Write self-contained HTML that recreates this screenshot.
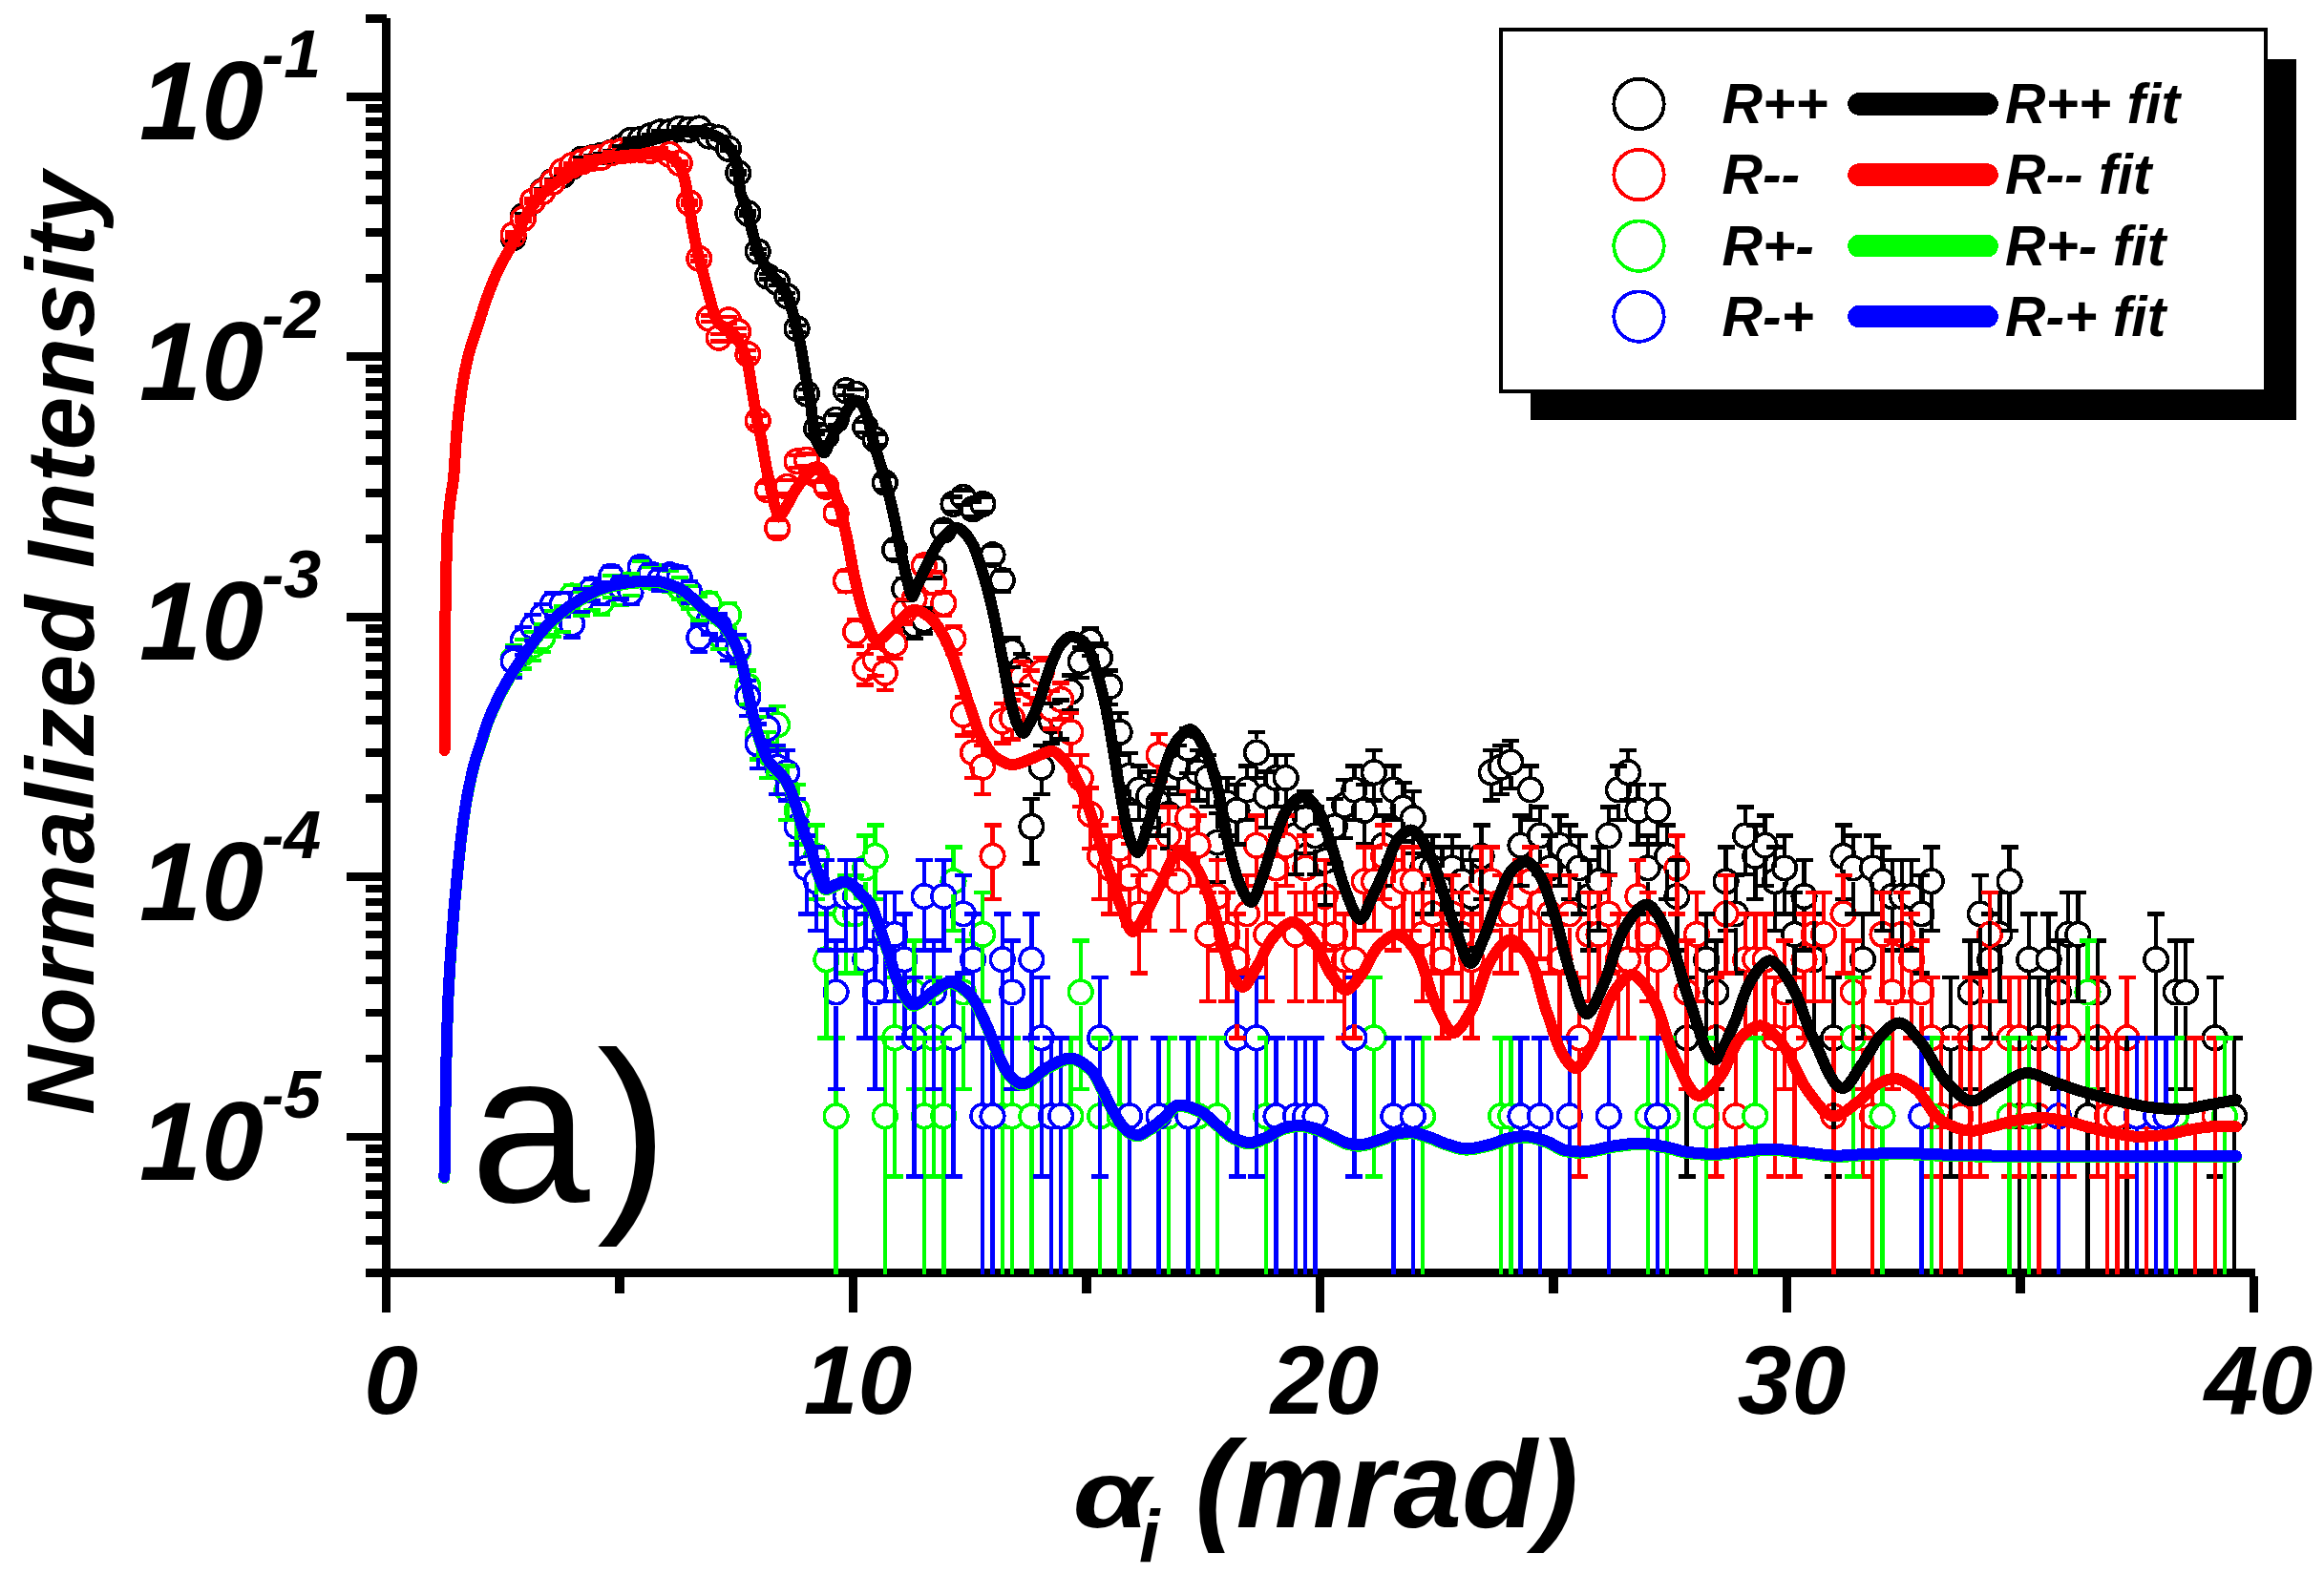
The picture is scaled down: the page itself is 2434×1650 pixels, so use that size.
<!DOCTYPE html>
<html lang="en"><head><meta charset="utf-8"><title>Normalized Intensity vs alpha_i</title>
<style>html,body{margin:0;padding:0;background:#fff}svg{display:block}</style></head>
<body>
<svg width="2434" height="1650" viewBox="0 0 2434 1650">
<rect width="2434" height="1650" fill="#fff"/>
<g fill="#000" shape-rendering="crispEdges">
<rect x="400.1" y="19" width="9" height="1318.6"/>
<rect x="383" y="1329" width="1979" height="8.6"/>
<rect x="383" y="1328.9" width="22" height="8.8"/>
<rect x="383" y="1294.9" width="22" height="8.8"/>
<rect x="383" y="1268.5" width="22" height="8.8"/>
<rect x="383" y="1246.9" width="22" height="8.8"/>
<rect x="383" y="1228.7" width="22" height="8.8"/>
<rect x="383" y="1212.9" width="22" height="8.8"/>
<rect x="383" y="1199" width="22" height="8.8"/>
<rect x="363" y="1186.5" width="42" height="8.8"/>
<rect x="383" y="1104.5" width="22" height="8.8"/>
<rect x="383" y="1056.5" width="22" height="8.8"/>
<rect x="383" y="1022.5" width="22" height="8.8"/>
<rect x="383" y="996.1" width="22" height="8.8"/>
<rect x="383" y="974.5" width="22" height="8.8"/>
<rect x="383" y="956.3" width="22" height="8.8"/>
<rect x="383" y="940.5" width="22" height="8.8"/>
<rect x="383" y="926.6" width="22" height="8.8"/>
<rect x="363" y="914.1" width="42" height="8.8"/>
<rect x="383" y="832.1" width="22" height="8.8"/>
<rect x="383" y="784.1" width="22" height="8.8"/>
<rect x="383" y="750.1" width="22" height="8.8"/>
<rect x="383" y="723.7" width="22" height="8.8"/>
<rect x="383" y="702.1" width="22" height="8.8"/>
<rect x="383" y="683.9" width="22" height="8.8"/>
<rect x="383" y="668.1" width="22" height="8.8"/>
<rect x="383" y="654.2" width="22" height="8.8"/>
<rect x="363" y="641.7" width="42" height="8.8"/>
<rect x="383" y="559.7" width="22" height="8.8"/>
<rect x="383" y="511.7" width="22" height="8.8"/>
<rect x="383" y="477.7" width="22" height="8.8"/>
<rect x="383" y="451.3" width="22" height="8.8"/>
<rect x="383" y="429.7" width="22" height="8.8"/>
<rect x="383" y="411.5" width="22" height="8.8"/>
<rect x="383" y="395.7" width="22" height="8.8"/>
<rect x="383" y="381.8" width="22" height="8.8"/>
<rect x="363" y="369.3" width="42" height="8.8"/>
<rect x="383" y="287.3" width="22" height="8.8"/>
<rect x="383" y="239.3" width="22" height="8.8"/>
<rect x="383" y="205.3" width="22" height="8.8"/>
<rect x="383" y="178.9" width="22" height="8.8"/>
<rect x="383" y="157.3" width="22" height="8.8"/>
<rect x="383" y="139.1" width="22" height="8.8"/>
<rect x="383" y="123.3" width="22" height="8.8"/>
<rect x="383" y="109.4" width="22" height="8.8"/>
<rect x="363" y="96.9" width="42" height="8.8"/>
<rect x="383" y="14.9" width="22" height="8.8"/>
<rect x="399.9" y="1337" width="9.2" height="37.5"/>
<rect x="644.4" y="1337" width="9.2" height="17.5"/>
<rect x="888.9" y="1337" width="9.2" height="37.5"/>
<rect x="1133.4" y="1337" width="9.2" height="17.5"/>
<rect x="1377.9" y="1337" width="9.2" height="37.5"/>
<rect x="1622.4" y="1337" width="9.2" height="17.5"/>
<rect x="1866.9" y="1337" width="9.2" height="37.5"/>
<rect x="2111.4" y="1337" width="9.2" height="17.5"/>
<rect x="2355.9" y="1337" width="9.2" height="37.5"/>
</g>
<g shape-rendering="crispEdges" fill="none">
<g stroke="#000" stroke-width="3.6" fill="#fff">
<circle cx="537.6" cy="249" r="12.3"/><circle cx="547.9" cy="226.5" r="12.3"/><circle cx="558.1" cy="210.8" r="12.3"/><circle cx="568.4" cy="199.9" r="12.3"/><circle cx="578.6" cy="190" r="12.3"/><circle cx="588.8" cy="183.8" r="12.3"/><circle cx="599.1" cy="174.6" r="12.3"/><circle cx="609.3" cy="166.6" r="12.3"/><circle cx="619.6" cy="165.3" r="12.3"/><circle cx="629.8" cy="162.9" r="12.3"/><circle cx="640.1" cy="159.5" r="12.3"/><circle cx="650.3" cy="154.3" r="12.3"/><circle cx="660.5" cy="146.9" r="12.3"/><circle cx="670.8" cy="146" r="12.3"/><circle cx="681" cy="142.3" r="12.3"/><circle cx="691.3" cy="138.4" r="12.3"/><circle cx="701.5" cy="138.3" r="12.3"/><circle cx="711.7" cy="134.9" r="12.3"/><circle cx="722" cy="135.8" r="12.3"/><circle cx="732.2" cy="134.5" r="12.3"/><circle cx="742.5" cy="142.6" r="12.3"/><circle cx="752.7" cy="144.5" r="12.3"/><circle cx="763" cy="155.7" r="12.3"/><circle cx="773.2" cy="181.1" r="12.3"/><circle cx="783.4" cy="223.4" r="12.3"/><circle cx="793.7" cy="263.4" r="12.3"/><circle cx="803.9" cy="289.5" r="12.3"/><circle cx="814.2" cy="295.8" r="12.3"/><circle cx="824.4" cy="310.2" r="12.3"/><circle cx="834.6" cy="344.3" r="12.3"/><circle cx="844.9" cy="412.5" r="12.3"/><circle cx="855.1" cy="449.2" r="12.3"/><circle cx="865.4" cy="456.8" r="12.3"/><circle cx="875.6" cy="439.8" r="12.3"/><circle cx="885.9" cy="409.2" r="12.3"/><circle cx="896.1" cy="412.7" r="12.3"/><circle cx="906.3" cy="447.5" r="12.3"/><circle cx="916.6" cy="460.4" r="12.3"/><circle cx="926.8" cy="505.6" r="12.3"/><circle cx="937.1" cy="575.9" r="12.3"/><circle cx="947.3" cy="617.2" r="12.3"/><circle cx="957.5" cy="654.7" r="12.3"/><circle cx="967.8" cy="649.4" r="12.3"/><circle cx="978" cy="594.6" r="12.3"/><circle cx="988.3" cy="555.5" r="12.3"/><circle cx="998.5" cy="528" r="12.3"/><circle cx="1008.8" cy="520.9" r="12.3"/><circle cx="1019" cy="533.3" r="12.3"/><circle cx="1029.2" cy="528" r="12.3"/><circle cx="1039.5" cy="581.3" r="12.3"/><circle cx="1049.7" cy="608" r="12.3"/><circle cx="1060" cy="682.6" r="12.3"/><circle cx="1070.2" cy="700.4" r="12.3"/><circle cx="1080.4" cy="865.9" r="12.3"/><circle cx="1090.7" cy="803.7" r="12.3"/><circle cx="1100.9" cy="755.7" r="12.3"/><circle cx="1111.2" cy="752.2" r="12.3"/><circle cx="1121.4" cy="724.4" r="12.3"/><circle cx="1131.7" cy="693.1" r="12.3"/><circle cx="1141.9" cy="671.5" r="12.3"/><circle cx="1152.1" cy="689" r="12.3"/><circle cx="1162.4" cy="719" r="12.3"/><circle cx="1172.6" cy="767" r="12.3"/><circle cx="1182.9" cy="812.6" r="12.3"/><circle cx="1193.1" cy="827.4" r="12.3"/><circle cx="1203.3" cy="834.2" r="12.3"/><circle cx="1213.6" cy="841.3" r="12.3"/><circle cx="1223.8" cy="853" r="12.3"/><circle cx="1234.1" cy="803.7" r="12.3"/><circle cx="1244.3" cy="783.9" r="12.3"/><circle cx="1254.6" cy="809.2" r="12.3"/><circle cx="1264.8" cy="814.9" r="12.3"/><circle cx="1275" cy="882.5" r="12.3"/><circle cx="1285.3" cy="841.3" r="12.3"/><circle cx="1295.5" cy="849" r="12.3"/><circle cx="1305.8" cy="827.4" r="12.3"/><circle cx="1316" cy="788.5" r="12.3"/><circle cx="1326.2" cy="834.2" r="12.3"/><circle cx="1336.5" cy="814.9" r="12.3"/><circle cx="1346.7" cy="814.9" r="12.3"/><circle cx="1357" cy="875.4" r="12.3"/><circle cx="1367.2" cy="857.1" r="12.3"/><circle cx="1377.5" cy="875.4" r="12.3"/><circle cx="1387.7" cy="901.8" r="12.3"/><circle cx="1397.9" cy="865.9" r="12.3"/><circle cx="1408.2" cy="843.6" r="12.3"/><circle cx="1418.4" cy="827.4" r="12.3"/><circle cx="1428.7" cy="849" r="12.3"/><circle cx="1438.9" cy="809.2" r="12.3"/><circle cx="1449.1" cy="885.7" r="12.3"/><circle cx="1459.4" cy="827.4" r="12.3"/><circle cx="1469.6" cy="846.6" r="12.3"/><circle cx="1479.9" cy="857.1" r="12.3"/><circle cx="1490.1" cy="909.4" r="12.3"/><circle cx="1500.4" cy="909.4" r="12.3"/><circle cx="1510.6" cy="923.3" r="12.3"/><circle cx="1520.8" cy="909.4" r="12.3"/><circle cx="1531.1" cy="923.3" r="12.3"/><circle cx="1541.3" cy="939.1" r="12.3"/><circle cx="1551.6" cy="896.9" r="12.3"/><circle cx="1561.8" cy="809.2" r="12.3"/><circle cx="1572" cy="803.7" r="12.3"/><circle cx="1582.3" cy="798.4" r="12.3"/><circle cx="1592.5" cy="885.7" r="12.3"/><circle cx="1602.8" cy="827.4" r="12.3"/><circle cx="1613" cy="875.4" r="12.3"/><circle cx="1623.3" cy="909.4" r="12.3"/><circle cx="1633.5" cy="885.7" r="12.3"/><circle cx="1643.7" cy="896.9" r="12.3"/><circle cx="1654" cy="909.4" r="12.3"/><circle cx="1664.2" cy="939.1" r="12.3"/><circle cx="1674.5" cy="923.3" r="12.3"/><circle cx="1684.7" cy="875.4" r="12.3"/><circle cx="1694.9" cy="827.4" r="12.3"/><circle cx="1705.2" cy="809.2" r="12.3"/><circle cx="1715.4" cy="849" r="12.3"/><circle cx="1725.7" cy="909.4" r="12.3"/><circle cx="1735.9" cy="849" r="12.3"/><circle cx="1746.1" cy="896.9" r="12.3"/><circle cx="1756.4" cy="939.1" r="12.3"/><circle cx="1766.6" cy="1087.3" r="12.3"/><circle cx="1776.9" cy="978.9" r="12.3"/><circle cx="1787.1" cy="1005.3" r="12.3"/><circle cx="1797.4" cy="1039.4" r="12.3"/><circle cx="1807.6" cy="923.3" r="12.3"/><circle cx="1817.8" cy="957.4" r="12.3"/><circle cx="1828.1" cy="875.4" r="12.3"/><circle cx="1838.3" cy="896.9" r="12.3"/><circle cx="1848.6" cy="885.7" r="12.3"/><circle cx="1858.8" cy="923.3" r="12.3"/><circle cx="1869" cy="909.4" r="12.3"/><circle cx="1879.3" cy="978.9" r="12.3"/><circle cx="1889.5" cy="939.1" r="12.3"/><circle cx="1899.8" cy="1005.3" r="12.3"/><circle cx="1910" cy="978.9" r="12.3"/><circle cx="1920.3" cy="1087.3" r="12.3"/><circle cx="1930.5" cy="896.9" r="12.3"/><circle cx="1940.7" cy="909.4" r="12.3"/><circle cx="1951" cy="1005.3" r="12.3"/><circle cx="1961.2" cy="909.4" r="12.3"/><circle cx="1971.5" cy="923.3" r="12.3"/><circle cx="1981.7" cy="939.1" r="12.3"/><circle cx="1991.9" cy="939.1" r="12.3"/><circle cx="2002.2" cy="939.1" r="12.3"/><circle cx="2012.4" cy="957.4" r="12.3"/><circle cx="2022.7" cy="923.3" r="12.3"/><circle cx="2043.2" cy="1087.3" r="12.3"/><circle cx="2063.6" cy="1039.4" r="12.3"/><circle cx="2073.9" cy="957.4" r="12.3"/><circle cx="2084.1" cy="1005.3" r="12.3"/><circle cx="2094.4" cy="978.9" r="12.3"/><circle cx="2104.6" cy="923.3" r="12.3"/><circle cx="2114.8" cy="1169.3" r="12.3"/><circle cx="2125.1" cy="1005.3" r="12.3"/><circle cx="2135.3" cy="1087.3" r="12.3"/><circle cx="2145.6" cy="1005.3" r="12.3"/><circle cx="2155.8" cy="1039.4" r="12.3"/><circle cx="2166.1" cy="978.9" r="12.3"/><circle cx="2176.3" cy="978.9" r="12.3"/><circle cx="2186.5" cy="1169.3" r="12.3"/><circle cx="2196.8" cy="1039.4" r="12.3"/><circle cx="2227.5" cy="1169.3" r="12.3"/><circle cx="2258.2" cy="1005.3" r="12.3"/><circle cx="2278.7" cy="1039.4" r="12.3"/><circle cx="2289" cy="1039.4" r="12.3"/><circle cx="2319.7" cy="1087.3" r="12.3"/><circle cx="2340.2" cy="1169.3" r="12.3"/>
</g>
<g stroke="#f00" stroke-width="3.6" fill="#fff">
<circle cx="537.6" cy="245.9" r="12.3"/><circle cx="547.9" cy="229.1" r="12.3"/><circle cx="558.1" cy="210.5" r="12.3"/><circle cx="568.4" cy="200.9" r="12.3"/><circle cx="578.6" cy="190.9" r="12.3"/><circle cx="588.8" cy="179.4" r="12.3"/><circle cx="599.1" cy="173.2" r="12.3"/><circle cx="609.3" cy="169.5" r="12.3"/><circle cx="619.6" cy="166" r="12.3"/><circle cx="629.8" cy="164.9" r="12.3"/><circle cx="640.1" cy="160.4" r="12.3"/><circle cx="650.3" cy="158.4" r="12.3"/><circle cx="660.5" cy="157.5" r="12.3"/><circle cx="670.8" cy="156.8" r="12.3"/><circle cx="681" cy="157.9" r="12.3"/><circle cx="691.3" cy="156.5" r="12.3"/><circle cx="701.5" cy="161.8" r="12.3"/><circle cx="711.7" cy="170.9" r="12.3"/><circle cx="722" cy="212.5" r="12.3"/><circle cx="732.2" cy="270.9" r="12.3"/><circle cx="742.5" cy="333.7" r="12.3"/><circle cx="752.7" cy="353.7" r="12.3"/><circle cx="763" cy="335.3" r="12.3"/><circle cx="773.2" cy="347.5" r="12.3"/><circle cx="783.4" cy="371.2" r="12.3"/><circle cx="793.7" cy="440.8" r="12.3"/><circle cx="803.9" cy="513.3" r="12.3"/><circle cx="814.2" cy="553.4" r="12.3"/><circle cx="824.4" cy="509.8" r="12.3"/><circle cx="834.6" cy="483.3" r="12.3"/><circle cx="844.9" cy="481.8" r="12.3"/><circle cx="855.1" cy="497.4" r="12.3"/><circle cx="865.4" cy="509.8" r="12.3"/><circle cx="875.6" cy="537.7" r="12.3"/><circle cx="885.9" cy="608.5" r="12.3"/><circle cx="896.1" cy="662" r="12.3"/><circle cx="906.3" cy="700.1" r="12.3"/><circle cx="916.6" cy="691" r="12.3"/><circle cx="926.8" cy="704.9" r="12.3"/><circle cx="937.1" cy="674.3" r="12.3"/><circle cx="947.3" cy="640.1" r="12.3"/><circle cx="957.5" cy="627.4" r="12.3"/><circle cx="967.8" cy="592.4" r="12.3"/><circle cx="978" cy="610.3" r="12.3"/><circle cx="988.3" cy="632.2" r="12.3"/><circle cx="998.5" cy="669.5" r="12.3"/><circle cx="1008.8" cy="748.7" r="12.3"/><circle cx="1019" cy="788.5" r="12.3"/><circle cx="1029.2" cy="803.7" r="12.3"/><circle cx="1039.5" cy="896.9" r="12.3"/><circle cx="1049.7" cy="755.7" r="12.3"/><circle cx="1060" cy="752.2" r="12.3"/><circle cx="1070.2" cy="708.9" r="12.3"/><circle cx="1080.4" cy="719" r="12.3"/><circle cx="1090.7" cy="704.2" r="12.3"/><circle cx="1100.9" cy="742.2" r="12.3"/><circle cx="1111.2" cy="732.9" r="12.3"/><circle cx="1121.4" cy="767" r="12.3"/><circle cx="1131.7" cy="814.9" r="12.3"/><circle cx="1141.9" cy="853" r="12.3"/><circle cx="1152.1" cy="896.9" r="12.3"/><circle cx="1162.4" cy="909.4" r="12.3"/><circle cx="1172.6" cy="888.9" r="12.3"/><circle cx="1182.9" cy="919" r="12.3"/><circle cx="1193.1" cy="957.4" r="12.3"/><circle cx="1203.3" cy="923.3" r="12.3"/><circle cx="1213.6" cy="790.9" r="12.3"/><circle cx="1223.8" cy="875.4" r="12.3"/><circle cx="1234.1" cy="923.3" r="12.3"/><circle cx="1244.3" cy="857.1" r="12.3"/><circle cx="1254.6" cy="885.7" r="12.3"/><circle cx="1264.8" cy="978.9" r="12.3"/><circle cx="1275" cy="939.1" r="12.3"/><circle cx="1285.3" cy="978.9" r="12.3"/><circle cx="1295.5" cy="1005.3" r="12.3"/><circle cx="1305.8" cy="957.4" r="12.3"/><circle cx="1316" cy="885.7" r="12.3"/><circle cx="1326.2" cy="978.9" r="12.3"/><circle cx="1336.5" cy="909.4" r="12.3"/><circle cx="1346.7" cy="885.7" r="12.3"/><circle cx="1357" cy="978.9" r="12.3"/><circle cx="1367.2" cy="909.4" r="12.3"/><circle cx="1377.5" cy="978.9" r="12.3"/><circle cx="1387.7" cy="939.1" r="12.3"/><circle cx="1397.9" cy="978.9" r="12.3"/><circle cx="1408.2" cy="1005.3" r="12.3"/><circle cx="1418.4" cy="1005.3" r="12.3"/><circle cx="1428.7" cy="923.3" r="12.3"/><circle cx="1438.9" cy="923.3" r="12.3"/><circle cx="1449.1" cy="896.9" r="12.3"/><circle cx="1459.4" cy="939.1" r="12.3"/><circle cx="1469.6" cy="923.3" r="12.3"/><circle cx="1479.9" cy="923.3" r="12.3"/><circle cx="1490.1" cy="978.9" r="12.3"/><circle cx="1500.4" cy="957.4" r="12.3"/><circle cx="1510.6" cy="1005.3" r="12.3"/><circle cx="1520.8" cy="957.4" r="12.3"/><circle cx="1531.1" cy="978.9" r="12.3"/><circle cx="1541.3" cy="1005.3" r="12.3"/><circle cx="1551.6" cy="923.3" r="12.3"/><circle cx="1561.8" cy="923.3" r="12.3"/><circle cx="1572" cy="957.4" r="12.3"/><circle cx="1582.3" cy="957.4" r="12.3"/><circle cx="1592.5" cy="939.1" r="12.3"/><circle cx="1602.8" cy="923.3" r="12.3"/><circle cx="1613" cy="946.1" r="12.3"/><circle cx="1623.3" cy="957.4" r="12.3"/><circle cx="1633.5" cy="1005.3" r="12.3"/><circle cx="1643.7" cy="957.4" r="12.3"/><circle cx="1654" cy="1087.3" r="12.3"/><circle cx="1664.2" cy="978.9" r="12.3"/><circle cx="1674.5" cy="978.9" r="12.3"/><circle cx="1684.7" cy="957.4" r="12.3"/><circle cx="1694.9" cy="1005.3" r="12.3"/><circle cx="1705.2" cy="1005.3" r="12.3"/><circle cx="1715.4" cy="939.1" r="12.3"/><circle cx="1725.7" cy="978.9" r="12.3"/><circle cx="1735.9" cy="1005.3" r="12.3"/><circle cx="1746.1" cy="1169.3" r="12.3"/><circle cx="1756.4" cy="909.4" r="12.3"/><circle cx="1766.6" cy="1039.4" r="12.3"/><circle cx="1776.9" cy="978.9" r="12.3"/><circle cx="1787.1" cy="1169.3" r="12.3"/><circle cx="1797.4" cy="1087.3" r="12.3"/><circle cx="1807.6" cy="957.4" r="12.3"/><circle cx="1817.8" cy="1169.3" r="12.3"/><circle cx="1828.1" cy="1005.3" r="12.3"/><circle cx="1838.3" cy="1005.3" r="12.3"/><circle cx="1848.6" cy="1005.3" r="12.3"/><circle cx="1858.8" cy="1087.3" r="12.3"/><circle cx="1869" cy="1039.4" r="12.3"/><circle cx="1879.3" cy="1087.3" r="12.3"/><circle cx="1889.5" cy="1005.3" r="12.3"/><circle cx="1899.8" cy="978.9" r="12.3"/><circle cx="1910" cy="978.9" r="12.3"/><circle cx="1920.3" cy="1169.3" r="12.3"/><circle cx="1930.5" cy="957.4" r="12.3"/><circle cx="1940.7" cy="1039.4" r="12.3"/><circle cx="1951" cy="1087.3" r="12.3"/><circle cx="1961.2" cy="1169.3" r="12.3"/><circle cx="1971.5" cy="978.9" r="12.3"/><circle cx="1981.7" cy="1039.4" r="12.3"/><circle cx="1991.9" cy="978.9" r="12.3"/><circle cx="2002.2" cy="1005.3" r="12.3"/><circle cx="2012.4" cy="1039.4" r="12.3"/><circle cx="2022.7" cy="1087.3" r="12.3"/><circle cx="2032.9" cy="1169.3" r="12.3"/><circle cx="2053.4" cy="1169.3" r="12.3"/><circle cx="2063.6" cy="1087.3" r="12.3"/><circle cx="2073.9" cy="1087.3" r="12.3"/><circle cx="2084.1" cy="978.9" r="12.3"/><circle cx="2104.6" cy="1087.3" r="12.3"/><circle cx="2114.8" cy="1087.3" r="12.3"/><circle cx="2135.3" cy="1169.3" r="12.3"/><circle cx="2155.8" cy="1087.3" r="12.3"/><circle cx="2166.1" cy="1087.3" r="12.3"/><circle cx="2196.8" cy="1087.3" r="12.3"/><circle cx="2207" cy="1169.3" r="12.3"/><circle cx="2217.3" cy="1169.3" r="12.3"/><circle cx="2227.5" cy="1087.3" r="12.3"/><circle cx="2248" cy="1169.3" r="12.3"/><circle cx="2299.2" cy="1169.3" r="12.3"/><circle cx="2319.7" cy="1169.3" r="12.3"/>
</g>
<g stroke="#0f0" stroke-width="3.6" fill="#fff">
<circle cx="537.6" cy="690.6" r="12.3"/><circle cx="547.9" cy="684.1" r="12.3"/><circle cx="558.1" cy="676.1" r="12.3"/><circle cx="568.4" cy="667.9" r="12.3"/><circle cx="578.6" cy="652.6" r="12.3"/><circle cx="588.8" cy="648" r="12.3"/><circle cx="599.1" cy="624.4" r="12.3"/><circle cx="609.3" cy="631.6" r="12.3"/><circle cx="619.6" cy="626.3" r="12.3"/><circle cx="629.8" cy="631.1" r="12.3"/><circle cx="640.1" cy="614.1" r="12.3"/><circle cx="650.3" cy="621.8" r="12.3"/><circle cx="660.5" cy="612" r="12.3"/><circle cx="670.8" cy="598" r="12.3"/><circle cx="681" cy="604.6" r="12.3"/><circle cx="691.3" cy="603.8" r="12.3"/><circle cx="701.5" cy="608.4" r="12.3"/><circle cx="711.7" cy="615.8" r="12.3"/><circle cx="722" cy="625.3" r="12.3"/><circle cx="732.2" cy="637" r="12.3"/><circle cx="742.5" cy="632.3" r="12.3"/><circle cx="752.7" cy="665.2" r="12.3"/><circle cx="763" cy="644.3" r="12.3"/><circle cx="773.2" cy="681.5" r="12.3"/><circle cx="783.4" cy="719" r="12.3"/><circle cx="793.7" cy="771" r="12.3"/><circle cx="803.9" cy="788.5" r="12.3"/><circle cx="814.2" cy="759.3" r="12.3"/><circle cx="824.4" cy="827.4" r="12.3"/><circle cx="834.6" cy="849" r="12.3"/><circle cx="844.9" cy="909.4" r="12.3"/><circle cx="855.1" cy="896.9" r="12.3"/><circle cx="865.4" cy="1005.3" r="12.3"/><circle cx="875.6" cy="1169.3" r="12.3"/><circle cx="885.9" cy="957.4" r="12.3"/><circle cx="896.1" cy="957.4" r="12.3"/><circle cx="906.3" cy="909.4" r="12.3"/><circle cx="916.6" cy="896.9" r="12.3"/><circle cx="926.8" cy="1169.3" r="12.3"/><circle cx="937.1" cy="1087.3" r="12.3"/><circle cx="947.3" cy="1005.3" r="12.3"/><circle cx="957.5" cy="1039.4" r="12.3"/><circle cx="967.8" cy="1169.3" r="12.3"/><circle cx="978" cy="1087.3" r="12.3"/><circle cx="988.3" cy="1169.3" r="12.3"/><circle cx="998.5" cy="923.3" r="12.3"/><circle cx="1008.8" cy="1039.4" r="12.3"/><circle cx="1029.2" cy="978.9" r="12.3"/><circle cx="1049.7" cy="1169.3" r="12.3"/><circle cx="1060" cy="1169.3" r="12.3"/><circle cx="1080.4" cy="1169.3" r="12.3"/><circle cx="1121.4" cy="1169.3" r="12.3"/><circle cx="1131.7" cy="1039.4" r="12.3"/><circle cx="1152.1" cy="1169.3" r="12.3"/><circle cx="1172.6" cy="1169.3" r="12.3"/><circle cx="1223.8" cy="1169.3" r="12.3"/><circle cx="1254.6" cy="1169.3" r="12.3"/><circle cx="1275" cy="1169.3" r="12.3"/><circle cx="1326.2" cy="1169.3" r="12.3"/><circle cx="1438.9" cy="1087.3" r="12.3"/><circle cx="1490.1" cy="1169.3" r="12.3"/><circle cx="1572" cy="1169.3" r="12.3"/><circle cx="1582.3" cy="1169.3" r="12.3"/><circle cx="1725.7" cy="1169.3" r="12.3"/><circle cx="1746.1" cy="1169.3" r="12.3"/><circle cx="1787.1" cy="1169.3" r="12.3"/><circle cx="1838.3" cy="1169.3" r="12.3"/><circle cx="1940.7" cy="1087.3" r="12.3"/><circle cx="1971.5" cy="1169.3" r="12.3"/><circle cx="2022.7" cy="1169.3" r="12.3"/><circle cx="2104.6" cy="1169.3" r="12.3"/><circle cx="2125.1" cy="1169.3" r="12.3"/><circle cx="2186.5" cy="1039.4" r="12.3"/><circle cx="2278.7" cy="1169.3" r="12.3"/><circle cx="2329.9" cy="1169.3" r="12.3"/>
</g>
<g stroke="#00f" stroke-width="3.6" fill="#fff">
<circle cx="537.6" cy="692.7" r="12.3"/><circle cx="547.9" cy="670.5" r="12.3"/><circle cx="558.1" cy="656.6" r="12.3"/><circle cx="568.4" cy="645" r="12.3"/><circle cx="578.6" cy="633.1" r="12.3"/><circle cx="588.8" cy="632.7" r="12.3"/><circle cx="599.1" cy="653.6" r="12.3"/><circle cx="609.3" cy="628.4" r="12.3"/><circle cx="619.6" cy="617.4" r="12.3"/><circle cx="629.8" cy="620.9" r="12.3"/><circle cx="640.1" cy="603.6" r="12.3"/><circle cx="650.3" cy="615.4" r="12.3"/><circle cx="660.5" cy="620.7" r="12.3"/><circle cx="670.8" cy="594" r="12.3"/><circle cx="681" cy="601.4" r="12.3"/><circle cx="691.3" cy="606.9" r="12.3"/><circle cx="701.5" cy="602.3" r="12.3"/><circle cx="711.7" cy="604.9" r="12.3"/><circle cx="722" cy="619.9" r="12.3"/><circle cx="732.2" cy="668" r="12.3"/><circle cx="742.5" cy="650.5" r="12.3"/><circle cx="752.7" cy="656.1" r="12.3"/><circle cx="763" cy="676" r="12.3"/><circle cx="773.2" cy="679.1" r="12.3"/><circle cx="783.4" cy="730" r="12.3"/><circle cx="793.7" cy="779.4" r="12.3"/><circle cx="803.9" cy="763.1" r="12.3"/><circle cx="814.2" cy="803.7" r="12.3"/><circle cx="824.4" cy="809.2" r="12.3"/><circle cx="834.6" cy="865.9" r="12.3"/><circle cx="844.9" cy="909.4" r="12.3"/><circle cx="855.1" cy="923.3" r="12.3"/><circle cx="865.4" cy="939.1" r="12.3"/><circle cx="875.6" cy="1039.4" r="12.3"/><circle cx="885.9" cy="939.1" r="12.3"/><circle cx="896.1" cy="939.1" r="12.3"/><circle cx="906.3" cy="1005.3" r="12.3"/><circle cx="916.6" cy="1039.4" r="12.3"/><circle cx="926.8" cy="978.9" r="12.3"/><circle cx="937.1" cy="978.9" r="12.3"/><circle cx="947.3" cy="1005.3" r="12.3"/><circle cx="957.5" cy="1087.3" r="12.3"/><circle cx="967.8" cy="939.1" r="12.3"/><circle cx="978" cy="1039.4" r="12.3"/><circle cx="988.3" cy="939.1" r="12.3"/><circle cx="998.5" cy="1087.3" r="12.3"/><circle cx="1008.8" cy="957.4" r="12.3"/><circle cx="1019" cy="1005.3" r="12.3"/><circle cx="1029.2" cy="1169.3" r="12.3"/><circle cx="1039.5" cy="1169.3" r="12.3"/><circle cx="1049.7" cy="1005.3" r="12.3"/><circle cx="1060" cy="1039.4" r="12.3"/><circle cx="1080.4" cy="1005.3" r="12.3"/><circle cx="1090.7" cy="1087.3" r="12.3"/><circle cx="1100.9" cy="1169.3" r="12.3"/><circle cx="1111.2" cy="1169.3" r="12.3"/><circle cx="1152.1" cy="1087.3" r="12.3"/><circle cx="1182.9" cy="1169.3" r="12.3"/><circle cx="1213.6" cy="1169.3" r="12.3"/><circle cx="1244.3" cy="1169.3" r="12.3"/><circle cx="1295.5" cy="1087.3" r="12.3"/><circle cx="1316" cy="1087.3" r="12.3"/><circle cx="1336.5" cy="1169.3" r="12.3"/><circle cx="1357" cy="1169.3" r="12.3"/><circle cx="1367.2" cy="1169.3" r="12.3"/><circle cx="1377.5" cy="1169.3" r="12.3"/><circle cx="1418.4" cy="1087.3" r="12.3"/><circle cx="1459.4" cy="1169.3" r="12.3"/><circle cx="1479.9" cy="1169.3" r="12.3"/><circle cx="1592.5" cy="1169.3" r="12.3"/><circle cx="1613" cy="1169.3" r="12.3"/><circle cx="1643.7" cy="1169.3" r="12.3"/><circle cx="1684.7" cy="1169.3" r="12.3"/><circle cx="1735.9" cy="1169.3" r="12.3"/><circle cx="2012.4" cy="1169.3" r="12.3"/><circle cx="2155.8" cy="1169.3" r="12.3"/><circle cx="2237.7" cy="1169.3" r="12.3"/><circle cx="2258.2" cy="1169.3" r="12.3"/><circle cx="2268.5" cy="1169.3" r="12.3"/>
</g>
<path stroke="#000" stroke-width="4.4" d="M528.6 246.6H546.6M528.6 251.5H546.6M538.9 224.3H556.9M538.9 228.7H556.9M549.1 208.8H567.1M549.1 212.9H567.1M559.4 198H577.4M559.4 201.9H577.4M569.6 188.1H587.6M569.6 191.9H587.6M579.8 181.9H597.8M579.8 185.6H597.8M590.1 172.8H608.1M590.1 176.3H608.1M600.3 164.9H618.3M600.3 168.3H618.3M610.6 163.6H628.6M610.6 167H628.6M620.8 161.3H638.8M620.8 164.6H638.8M631.1 157.8H649.1M631.1 161.1H649.1M641.3 152.7H659.3M641.3 156H659.3M651.5 145.4H669.5M651.5 148.5H669.5M661.8 144.5H679.8M661.8 147.6H679.8M672 140.7H690M672 143.8H690M682.3 136.9H700.3M682.3 139.9H700.3M692.5 136.8H710.5M692.5 139.9H710.5M702.7 133.4H720.7M702.7 136.4H720.7M713 134.3H731M713 137.3H731M723.2 133H741.2M723.2 136H741.2M733.5 141.1H751.5M733.5 144.2H751.5M743.7 143H761.7M743.7 146.1H761.7M754 154.1H772M754 157.4H772M764.2 179.3H782.2M764.2 183H782.2M774.4 221.3H792.4M774.4 225.6H792.4M784.7 260.9H802.7M784.7 266H802.7M794.9 286.7H812.9M794.9 292.4H812.9M805.2 292.9H823.2M805.2 298.8H823.2M815.4 307.1H833.4M815.4 313.4H833.4M825.6 340.8H843.6M825.6 348H843.6M835.9 407.8H853.9M835.9 417.4H853.9M846.1 443.7H864.1M846.1 455H864.1M856.4 451.1H874.4M856.4 462.7H874.4M866.6 434.5H884.6M866.6 445.4H884.6M876.9 404.5H894.9M876.9 414H894.9M887.1 407.9H905.1M887.1 417.6H905.1M897.3 442H915.3M897.3 453.2H915.3M907.6 454.6H925.6M907.6 466.4H925.6M917.8 498.6H935.8M917.8 513H935.8M928.1 566.7H946.1M928.1 586H946.1M938.3 606.2H956.3M938.3 629.2H956.3M948.5 642H966.5M957.5 668.8V669M948.5 669H966.5M958.8 636.9H976.8M958.8 663.3H976.8M969 584.7H987M969 605.6H987M979.3 547H997.3M979.3 564.7H997.3M989.5 520.4H1007.5M989.5 536.1H1007.5M999.8 513.5H1017.8M999.8 528.8H1017.8M1010 525.5H1028M1010 541.6H1028M1020.2 520.4H1038.2M1020.2 536.1H1038.2M1030.5 571.8H1048.5M1030.5 591.6H1048.5M1040.7 597.5H1058.7M1040.7 619.6H1058.7M1060 668.4V668.5M1051 668.4H1069M1060 696.7V698.8M1051 698.8H1069M1070.2 685.1V686.3M1061.2 685.1H1079.2M1070.2 714.5V717.9M1061.2 717.9H1079.2M1080.4 836.9V851.8M1071.4 836.9H1089.4M1080.4 880V904.3M1071.4 904.3H1089.4M1090.7 780.8V789.6M1081.7 780.8H1099.7M1090.7 817.8V832M1081.7 832H1099.7M1100.9 736.7V741.6M1091.9 736.7H1109.9M1100.9 769.8V778.3M1091.9 778.3H1109.9M1111.2 733.4V738.1M1102.2 733.4H1120.2M1111.2 766.3V774.4M1102.2 774.4H1120.2M1121.4 707.6V710.3M1112.4 707.6H1130.4M1121.4 738.5V743.9M1112.4 743.9H1130.4M1131.7 678.3V679M1122.7 678.3H1140.7M1131.7 707.2V710.1M1122.7 710.1H1140.7M1132.9 657.9H1150.9M1141.9 685.6V686.9M1132.9 686.9H1150.9M1152.1 674.4V674.9M1143.1 674.4H1161.1M1152.1 703.1V705.6M1143.1 705.6H1161.1M1162.4 702.6V704.9M1153.4 702.6H1171.4M1162.4 733.1V738.1M1153.4 738.1H1171.4M1172.6 747.1V752.9M1163.6 747.1H1181.6M1172.6 781.1V790.8M1163.6 790.8H1181.6M1182.9 788.9V798.5M1173.9 788.9H1191.9M1182.9 826.7V842.2M1173.9 842.2H1191.9M1193.1 802.4V813.3M1184.1 802.4H1202.1M1193.1 841.5V859.2M1184.1 859.2H1202.1M1203.3 808.5V820.1M1194.3 808.5H1212.3M1203.3 848.3V867M1194.3 867H1212.3M1213.6 814.9V827.2M1204.6 814.9H1222.6M1213.6 855.4V875.4M1204.6 875.4H1222.6M1223.8 825.4V838.9M1214.8 825.4H1232.8M1223.8 867.1V889M1214.8 889H1232.8M1234.1 780.8V789.6M1225.1 780.8H1243.1M1234.1 817.8V832M1225.1 832H1243.1M1244.3 762.7V769.8M1235.3 762.7H1253.3M1244.3 798V809.7M1235.3 809.7H1253.3M1254.6 785.8V795.1M1245.6 785.8H1263.6M1254.6 823.3V838.3M1245.6 838.3H1263.6M1264.8 791.1V800.8M1255.8 791.1H1273.8M1264.8 829V844.9M1255.8 844.9H1273.8M1275 851.7V868.4M1266 851.7H1284M1275 896.6V924.2M1266 924.2H1284M1285.3 814.9V827.2M1276.3 814.9H1294.3M1285.3 855.4V875.4M1276.3 875.4H1294.3M1295.5 821.8V834.9M1286.5 821.8H1304.5M1295.5 863.1V884.3M1286.5 884.3H1304.5M1305.8 802.4V813.3M1296.8 802.4H1314.8M1305.8 841.5V859.2M1296.8 859.2H1314.8M1316 767V774.4M1307 767H1325M1316 802.6V814.9M1307 814.9H1325M1326.2 808.5V820.1M1317.2 808.5H1335.2M1326.2 848.3V867M1317.2 867H1335.2M1336.5 791.1V800.8M1327.5 791.1H1345.5M1336.5 829V844.9M1327.5 844.9H1345.5M1346.7 791.1V800.8M1337.7 791.1H1355.7M1346.7 829V844.9M1337.7 844.9H1355.7M1357 845.4V861.3M1348 845.4H1366M1357 889.5V915.7M1348 915.7H1366M1367.2 829.1V843M1358.2 829.1H1376.2M1367.2 871.2V893.9M1358.2 893.9H1376.2M1377.5 845.4V861.3M1368.5 845.4H1386.5M1377.5 889.5V915.7M1368.5 915.7H1386.5M1387.7 868.7V887.7M1378.7 868.7H1396.7M1387.7 915.9V947.9M1378.7 947.9H1396.7M1397.9 836.9V851.8M1388.9 836.9H1406.9M1397.9 880V904.3M1388.9 904.3H1406.9M1408.2 816.9V829.5M1399.2 816.9H1417.2M1408.2 857.7V878M1399.2 878H1417.2M1418.4 802.4V813.3M1409.4 802.4H1427.4M1418.4 841.5V859.2M1409.4 859.2H1427.4M1428.7 821.8V834.9M1419.7 821.8H1437.7M1428.7 863.1V884.3M1419.7 884.3H1437.7M1438.9 785.8V795.1M1429.9 785.8H1447.9M1438.9 823.3V838.3M1429.9 838.3H1447.9M1449.1 854.5V871.6M1440.1 854.5H1458.1M1449.1 899.8V928.1M1440.1 928.1H1458.1M1459.4 802.4V813.3M1450.4 802.4H1468.4M1459.4 841.5V859.2M1450.4 859.2H1468.4M1469.6 819.7V832.5M1460.6 819.7H1478.6M1469.6 860.7V881.5M1460.6 881.5H1478.6M1479.9 829.1V843M1470.9 829.1H1488.9M1479.9 871.2V893.9M1470.9 893.9H1488.9M1490.1 875.4V895.3M1481.1 875.4H1499.1M1490.1 923.5V957.4M1481.1 957.4H1499.1M1500.4 875.4V895.3M1491.4 875.4H1509.4M1500.4 923.5V957.4M1491.4 957.4H1509.4M1510.6 887.5V909.2M1501.6 887.5H1519.6M1510.6 937.4V974.9M1501.6 974.9H1519.6M1520.8 875.4V895.3M1511.8 875.4H1529.8M1520.8 923.5V957.4M1511.8 957.4H1529.8M1531.1 887.5V909.2M1522.1 887.5H1540.1M1531.1 937.4V974.9M1522.1 974.9H1540.1M1541.3 901.2V925M1532.3 901.2H1550.3M1541.3 953.2V995.3M1532.3 995.3H1550.3M1551.6 864.4V882.8M1542.6 864.4H1560.6M1551.6 911V941.9M1542.6 941.9H1560.6M1561.8 785.8V795.1M1552.8 785.8H1570.8M1561.8 823.3V838.3M1552.8 838.3H1570.8M1572 780.8V789.6M1563 780.8H1581M1572 817.8V832M1563 832H1581M1582.3 776V784.3M1573.3 776H1591.3M1582.3 812.5V826.1M1573.3 826.1H1591.3M1592.5 854.5V871.6M1583.5 854.5H1601.5M1592.5 899.8V928.1M1583.5 928.1H1601.5M1602.8 802.4V813.3M1593.8 802.4H1611.8M1602.8 841.5V859.2M1593.8 859.2H1611.8M1613 845.4V861.3M1604 845.4H1622M1613 889.5V915.7M1604 915.7H1622M1623.3 875.4V895.3M1614.3 875.4H1632.3M1623.3 923.5V957.4M1614.3 957.4H1632.3M1633.5 854.5V871.6M1624.5 854.5H1642.5M1633.5 899.8V928.1M1624.5 928.1H1642.5M1643.7 864.4V882.8M1634.7 864.4H1652.7M1643.7 911V941.9M1634.7 941.9H1652.7M1654 875.4V895.3M1645 875.4H1663M1654 923.5V957.4M1645 957.4H1663M1664.2 901.2V925M1655.2 901.2H1673.2M1664.2 953.2V995.3M1655.2 995.3H1673.2M1674.5 887.5V909.2M1665.5 887.5H1683.5M1674.5 937.4V974.9M1665.5 974.9H1683.5M1684.7 845.4V861.3M1675.7 845.4H1693.7M1684.7 889.5V915.7M1675.7 915.7H1693.7M1694.9 802.4V813.3M1685.9 802.4H1703.9M1694.9 841.5V859.2M1685.9 859.2H1703.9M1705.2 785.8V795.1M1696.2 785.8H1714.2M1705.2 823.3V838.3M1696.2 838.3H1714.2M1715.4 821.8V834.9M1706.4 821.8H1724.4M1715.4 863.1V884.3M1706.4 884.3H1724.4M1725.7 875.4V895.3M1716.7 875.4H1734.7M1725.7 923.5V957.4M1716.7 957.4H1734.7M1735.9 821.8V834.9M1726.9 821.8H1744.9M1735.9 863.1V884.3M1726.9 884.3H1744.9M1746.1 864.4V882.8M1737.1 864.4H1755.1M1746.1 911V941.9M1737.1 941.9H1755.1M1756.4 901.2V925M1747.4 901.2H1765.4M1756.4 953.2V995.3M1747.4 995.3H1765.4M1766.6 1024.1V1073.2M1757.6 1024.1H1775.6M1766.6 1101.4V1232.6M1757.6 1232.6H1775.6M1776.9 935.2V964.8M1767.9 935.2H1785.9M1776.9 993V1049.1M1767.9 1049.1H1785.9M1787.1 957.4V991.2M1778.1 957.4H1796.1M1787.1 1019.4V1087.3M1778.1 1087.3H1796.1M1797.4 985.4V1025.3M1788.4 985.4H1806.4M1797.4 1053.5V1141.2M1788.4 1141.2H1806.4M1807.6 887.5V909.2M1798.6 887.5H1816.6M1807.6 937.4V974.9M1798.6 974.9H1816.6M1817.8 916.9V943.3M1808.8 916.9H1826.8M1817.8 971.5V1019.4M1808.8 1019.4H1826.8M1828.1 845.4V861.3M1819.1 845.4H1837.1M1828.1 889.5V915.7M1819.1 915.7H1837.1M1838.3 864.4V882.8M1829.3 864.4H1847.3M1838.3 911V941.9M1829.3 941.9H1847.3M1848.6 854.5V871.6M1839.6 854.5H1857.6M1848.6 899.8V928.1M1839.6 928.1H1857.6M1858.8 887.5V909.2M1849.8 887.5H1867.8M1858.8 937.4V974.9M1849.8 974.9H1867.8M1869 875.4V895.3M1860 875.4H1878M1869 923.5V957.4M1860 957.4H1878M1879.3 935.2V964.8M1870.3 935.2H1888.3M1879.3 993V1049.1M1870.3 1049.1H1888.3M1889.5 901.2V925M1880.5 901.2H1898.5M1889.5 953.2V995.3M1880.5 995.3H1898.5M1899.8 957.4V991.2M1890.8 957.4H1908.8M1899.8 1019.4V1087.3M1890.8 1087.3H1908.8M1910 935.2V964.8M1901 935.2H1919M1910 993V1049.1M1901 1049.1H1919M1920.3 1024.1V1073.2M1911.3 1024.1H1929.3M1920.3 1101.4V1232.6M1911.3 1232.6H1929.3M1930.5 864.4V882.8M1921.5 864.4H1939.5M1930.5 911V941.9M1921.5 941.9H1939.5M1940.7 875.4V895.3M1931.7 875.4H1949.7M1940.7 923.5V957.4M1931.7 957.4H1949.7M1951 957.4V991.2M1942 957.4H1960M1951 1019.4V1087.3M1942 1087.3H1960M1961.2 875.4V895.3M1952.2 875.4H1970.2M1961.2 923.5V957.4M1952.2 957.4H1970.2M1971.5 887.5V909.2M1962.5 887.5H1980.5M1971.5 937.4V974.9M1962.5 974.9H1980.5M1981.7 901.2V925M1972.7 901.2H1990.7M1981.7 953.2V995.3M1972.7 995.3H1990.7M1991.9 901.2V925M1982.9 901.2H2000.9M1991.9 953.2V995.3M1982.9 995.3H2000.9M2002.2 901.2V925M1993.2 901.2H2011.2M2002.2 953.2V995.3M1993.2 995.3H2011.2M2012.4 916.9V943.3M2003.4 916.9H2021.4M2012.4 971.5V1019.4M2003.4 1019.4H2021.4M2022.7 887.5V909.2M2013.7 887.5H2031.7M2022.7 937.4V974.9M2013.7 974.9H2031.7M2043.2 1024.1V1073.2M2034.2 1024.1H2052.2M2043.2 1101.4V1232.6M2034.2 1232.6H2052.2M2063.6 985.4V1025.3M2054.6 985.4H2072.6M2063.6 1053.5V1141.2M2054.6 1141.2H2072.6M2073.9 916.9V943.3M2064.9 916.9H2082.9M2073.9 971.5V1019.4M2064.9 1019.4H2082.9M2084.1 957.4V991.2M2075.1 957.4H2093.1M2084.1 1019.4V1087.3M2075.1 1087.3H2093.1M2094.4 935.2V964.8M2085.4 935.2H2103.4M2094.4 993V1049.1M2085.4 1049.1H2103.4M2104.6 887.5V909.2M2095.6 887.5H2113.6M2104.6 937.4V974.9M2095.6 974.9H2113.6M2114.8 1087.3V1155.2M2105.8 1087.3H2123.8M2114.8 1183.4V1334.8M2125.1 957.4V991.2M2116.1 957.4H2134.1M2125.1 1019.4V1087.3M2116.1 1087.3H2134.1M2135.3 1024.1V1073.2M2126.3 1024.1H2144.3M2135.3 1101.4V1232.6M2126.3 1232.6H2144.3M2145.6 957.4V991.2M2136.6 957.4H2154.6M2145.6 1019.4V1087.3M2136.6 1087.3H2154.6M2155.8 985.4V1025.3M2146.8 985.4H2164.8M2155.8 1053.5V1141.2M2146.8 1141.2H2164.8M2166.1 935.2V964.8M2157.1 935.2H2175.1M2166.1 993V1049.1M2157.1 1049.1H2175.1M2176.3 935.2V964.8M2167.3 935.2H2185.3M2176.3 993V1049.1M2167.3 1049.1H2185.3M2186.5 1087.3V1155.2M2177.5 1087.3H2195.5M2186.5 1183.4V1334.8M2196.8 985.4V1025.3M2187.8 985.4H2205.8M2196.8 1053.5V1141.2M2187.8 1141.2H2205.8M2227.5 1087.3V1155.2M2218.5 1087.3H2236.5M2227.5 1183.4V1334.8M2258.2 957.4V991.2M2249.2 957.4H2267.2M2258.2 1019.4V1087.3M2249.2 1087.3H2267.2M2278.7 985.4V1025.3M2269.7 985.4H2287.7M2278.7 1053.5V1141.2M2269.7 1141.2H2287.7M2289 985.4V1025.3M2280 985.4H2298M2289 1053.5V1141.2M2280 1141.2H2298M2319.7 1024.1V1073.2M2310.7 1024.1H2328.7M2319.7 1101.4V1232.6M2310.7 1232.6H2328.7M2340.2 1087.3V1155.2M2331.2 1087.3H2349.2M2340.2 1183.4V1334.8"/>
<path stroke="#f00" stroke-width="4.4" d="M528.6 243.5H546.6M528.6 248.3H546.6M538.9 226.9H556.9M538.9 231.3H556.9M549.1 208.5H567.1M549.1 212.6H567.1M559.4 199H577.4M559.4 202.9H577.4M569.6 189H587.6M569.6 192.8H587.6M579.8 177.6H597.8M579.8 181.2H597.8M590.1 171.5H608.1M590.1 175H608.1M600.3 167.8H618.3M600.3 171.3H618.3M610.6 164.3H628.6M610.6 167.7H628.6M620.8 163.2H638.8M620.8 166.6H638.8M631.1 158.7H649.1M631.1 162H649.1M641.3 156.8H659.3M641.3 160.1H659.3M651.5 155.9H669.5M651.5 159.2H669.5M661.8 155.2H679.8M661.8 158.5H679.8M672 156.3H690M672 159.6H690M682.3 154.9H700.3M682.3 158.2H700.3M692.5 160.2H710.5M692.5 163.5H710.5M702.7 169.2H720.7M702.7 172.6H720.7M713 210.5H731M713 214.6H731M723.2 268.2H741.2M723.2 273.6H741.2M733.5 330.3H751.5M733.5 337.2H751.5M743.7 350H761.7M743.7 357.5H761.7M754 331.9H772M754 338.8H772M764.2 343.9H782.2M764.2 351.3H782.2M774.4 367.2H792.4M774.4 375.3H792.4M784.7 435.5H802.7M784.7 446.4H802.7M794.9 506.2H812.9M794.9 521H812.9M805.2 545H823.2M805.2 562.5H823.2M815.4 502.7H833.4M815.4 517.3H833.4M825.6 477H843.6M825.6 490H843.6M835.9 475.5H853.9M835.9 488.5H853.9M846.1 490.7H864.1M846.1 504.5H864.1M856.4 502.7H874.4M856.4 517.3H874.4M866.6 529.8H884.6M866.6 546.2H884.6M876.9 597.9H894.9M876.9 620.1H894.9M887.1 648.9H905.1M896.1 676.1V676.8M887.1 676.8H905.1M906.3 684.8V686M897.3 684.8H915.3M906.3 714.2V717.6M897.3 717.6H915.3M916.6 676.3V676.9M907.6 676.3H925.6M916.6 705.1V707.8M907.6 707.8H925.6M926.8 689.3V690.8M917.8 689.3H935.8M926.8 719V722.8M917.8 722.8H935.8M928.1 660.6H946.1M937.1 688.4V689.9M928.1 689.9H946.1M938.3 628.1H956.3M938.3 653.4H956.3M948.5 616H966.5M948.5 640H966.5M958.8 582.5H976.8M958.8 603.2H976.8M969 599.6H987M969 622H987M979.3 620.6H997.3M979.3 645.1H997.3M989.5 656H1007.5M998.5 683.6V684.8M989.5 684.8H1007.5M1008.8 730.3V734.6M999.8 730.3H1017.8M1008.8 762.8V770.6M999.8 770.6H1017.8M1019 767V774.4M1010 767H1028M1019 802.6V814.9M1010 814.9H1028M1029.2 780.8V789.6M1020.2 780.8H1038.2M1029.2 817.8V832M1020.2 832H1038.2M1039.5 864.4V882.8M1030.5 864.4H1048.5M1039.5 911V941.9M1030.5 941.9H1048.5M1049.7 736.7V741.6M1040.7 736.7H1058.7M1049.7 769.8V778.3M1040.7 778.3H1058.7M1060 733.4V738.1M1051 733.4H1069M1060 766.3V774.4M1051 774.4H1069M1070.2 693.1V694.8M1061.2 693.1H1079.2M1070.2 723V727.2M1061.2 727.2H1079.2M1080.4 702.6V704.9M1071.4 702.6H1089.4M1080.4 733.1V738.1M1071.4 738.1H1089.4M1090.7 688.7V690.1M1081.7 688.7H1099.7M1090.7 718.3V722M1081.7 722H1099.7M1100.9 724.1V728.1M1091.9 724.1H1109.9M1100.9 756.3V763.4M1091.9 763.4H1109.9M1111.2 715.6V718.8M1102.2 715.6H1120.2M1111.2 747V753.3M1102.2 753.3H1120.2M1121.4 747.1V752.9M1112.4 747.1H1130.4M1121.4 781.1V790.8M1112.4 790.8H1130.4M1131.7 791.1V800.8M1122.7 791.1H1140.7M1131.7 829V844.9M1122.7 844.9H1140.7M1141.9 825.4V838.9M1132.9 825.4H1150.9M1141.9 867.1V889M1132.9 889H1150.9M1152.1 864.4V882.8M1143.1 864.4H1161.1M1152.1 911V941.9M1143.1 941.9H1161.1M1162.4 875.4V895.3M1153.4 875.4H1171.4M1162.4 923.5V957.4M1153.4 957.4H1171.4M1172.6 857.4V874.8M1163.6 857.4H1181.6M1172.6 903V932.1M1163.6 932.1H1181.6M1182.9 883.7V904.9M1173.9 883.7H1191.9M1182.9 933.1V969.4M1173.9 969.4H1191.9M1193.1 916.9V943.3M1184.1 916.9H1202.1M1193.1 971.5V1019.4M1184.1 1019.4H1202.1M1203.3 887.5V909.2M1194.3 887.5H1212.3M1203.3 937.4V974.9M1194.3 974.9H1212.3M1213.6 769.2V776.8M1204.6 769.2H1222.6M1213.6 805V817.6M1204.6 817.6H1222.6M1223.8 845.4V861.3M1214.8 845.4H1232.8M1223.8 889.5V915.7M1214.8 915.7H1232.8M1234.1 887.5V909.2M1225.1 887.5H1243.1M1234.1 937.4V974.9M1225.1 974.9H1243.1M1244.3 829.1V843M1235.3 829.1H1253.3M1244.3 871.2V893.9M1235.3 893.9H1253.3M1254.6 854.5V871.6M1245.6 854.5H1263.6M1254.6 899.8V928.1M1245.6 928.1H1263.6M1264.8 935.2V964.8M1255.8 935.2H1273.8M1264.8 993V1049.1M1255.8 1049.1H1273.8M1275 901.2V925M1266 901.2H1284M1275 953.2V995.3M1266 995.3H1284M1285.3 935.2V964.8M1276.3 935.2H1294.3M1285.3 993V1049.1M1276.3 1049.1H1294.3M1295.5 957.4V991.2M1286.5 957.4H1304.5M1295.5 1019.4V1087.3M1286.5 1087.3H1304.5M1305.8 916.9V943.3M1296.8 916.9H1314.8M1305.8 971.5V1019.4M1296.8 1019.4H1314.8M1316 854.5V871.6M1307 854.5H1325M1316 899.8V928.1M1307 928.1H1325M1326.2 935.2V964.8M1317.2 935.2H1335.2M1326.2 993V1049.1M1317.2 1049.1H1335.2M1336.5 875.4V895.3M1327.5 875.4H1345.5M1336.5 923.5V957.4M1327.5 957.4H1345.5M1346.7 854.5V871.6M1337.7 854.5H1355.7M1346.7 899.8V928.1M1337.7 928.1H1355.7M1357 935.2V964.8M1348 935.2H1366M1357 993V1049.1M1348 1049.1H1366M1367.2 875.4V895.3M1358.2 875.4H1376.2M1367.2 923.5V957.4M1358.2 957.4H1376.2M1377.5 935.2V964.8M1368.5 935.2H1386.5M1377.5 993V1049.1M1368.5 1049.1H1386.5M1387.7 901.2V925M1378.7 901.2H1396.7M1387.7 953.2V995.3M1378.7 995.3H1396.7M1397.9 935.2V964.8M1388.9 935.2H1406.9M1397.9 993V1049.1M1388.9 1049.1H1406.9M1408.2 957.4V991.2M1399.2 957.4H1417.2M1408.2 1019.4V1087.3M1399.2 1087.3H1417.2M1418.4 957.4V991.2M1409.4 957.4H1427.4M1418.4 1019.4V1087.3M1409.4 1087.3H1427.4M1428.7 887.5V909.2M1419.7 887.5H1437.7M1428.7 937.4V974.9M1419.7 974.9H1437.7M1438.9 887.5V909.2M1429.9 887.5H1447.9M1438.9 937.4V974.9M1429.9 974.9H1447.9M1449.1 864.4V882.8M1440.1 864.4H1458.1M1449.1 911V941.9M1440.1 941.9H1458.1M1459.4 901.2V925M1450.4 901.2H1468.4M1459.4 953.2V995.3M1450.4 995.3H1468.4M1469.6 887.5V909.2M1460.6 887.5H1478.6M1469.6 937.4V974.9M1460.6 974.9H1478.6M1479.9 887.5V909.2M1470.9 887.5H1488.9M1479.9 937.4V974.9M1470.9 974.9H1488.9M1490.1 935.2V964.8M1481.1 935.2H1499.1M1490.1 993V1049.1M1481.1 1049.1H1499.1M1500.4 916.9V943.3M1491.4 916.9H1509.4M1500.4 971.5V1019.4M1491.4 1019.4H1509.4M1510.6 957.4V991.2M1501.6 957.4H1519.6M1510.6 1019.4V1087.3M1501.6 1087.3H1519.6M1520.8 916.9V943.3M1511.8 916.9H1529.8M1520.8 971.5V1019.4M1511.8 1019.4H1529.8M1531.1 935.2V964.8M1522.1 935.2H1540.1M1531.1 993V1049.1M1522.1 1049.1H1540.1M1541.3 957.4V991.2M1532.3 957.4H1550.3M1541.3 1019.4V1087.3M1532.3 1087.3H1550.3M1551.6 887.5V909.2M1542.6 887.5H1560.6M1551.6 937.4V974.9M1542.6 974.9H1560.6M1561.8 887.5V909.2M1552.8 887.5H1570.8M1561.8 937.4V974.9M1552.8 974.9H1570.8M1572 916.9V943.3M1563 916.9H1581M1572 971.5V1019.4M1563 1019.4H1581M1582.3 916.9V943.3M1573.3 916.9H1591.3M1582.3 971.5V1019.4M1573.3 1019.4H1591.3M1592.5 901.2V925M1583.5 901.2H1601.5M1592.5 953.2V995.3M1583.5 995.3H1601.5M1602.8 887.5V909.2M1593.8 887.5H1611.8M1602.8 937.4V974.9M1593.8 974.9H1611.8M1613 907.2V932M1604 907.2H1622M1613 960.2V1004.4M1604 1004.4H1622M1623.3 916.9V943.3M1614.3 916.9H1632.3M1623.3 971.5V1019.4M1614.3 1019.4H1632.3M1633.5 957.4V991.2M1624.5 957.4H1642.5M1633.5 1019.4V1087.3M1624.5 1087.3H1642.5M1643.7 916.9V943.3M1634.7 916.9H1652.7M1643.7 971.5V1019.4M1634.7 1019.4H1652.7M1654 1024.1V1073.2M1645 1024.1H1663M1654 1101.4V1232.6M1645 1232.6H1663M1664.2 935.2V964.8M1655.2 935.2H1673.2M1664.2 993V1049.1M1655.2 1049.1H1673.2M1674.5 935.2V964.8M1665.5 935.2H1683.5M1674.5 993V1049.1M1665.5 1049.1H1683.5M1684.7 916.9V943.3M1675.7 916.9H1693.7M1684.7 971.5V1019.4M1675.7 1019.4H1693.7M1694.9 957.4V991.2M1685.9 957.4H1703.9M1694.9 1019.4V1087.3M1685.9 1087.3H1703.9M1705.2 957.4V991.2M1696.2 957.4H1714.2M1705.2 1019.4V1087.3M1696.2 1087.3H1714.2M1715.4 901.2V925M1706.4 901.2H1724.4M1715.4 953.2V995.3M1706.4 995.3H1724.4M1725.7 935.2V964.8M1716.7 935.2H1734.7M1725.7 993V1049.1M1716.7 1049.1H1734.7M1735.9 957.4V991.2M1726.9 957.4H1744.9M1735.9 1019.4V1087.3M1726.9 1087.3H1744.9M1746.1 1087.3V1155.2M1737.1 1087.3H1755.1M1746.1 1183.4V1334.8M1756.4 875.4V895.3M1747.4 875.4H1765.4M1756.4 923.5V957.4M1747.4 957.4H1765.4M1766.6 985.4V1025.3M1757.6 985.4H1775.6M1766.6 1053.5V1141.2M1757.6 1141.2H1775.6M1776.9 935.2V964.8M1767.9 935.2H1785.9M1776.9 993V1049.1M1767.9 1049.1H1785.9M1787.1 1087.3V1155.2M1778.1 1087.3H1796.1M1787.1 1183.4V1334.8M1797.4 1024.1V1073.2M1788.4 1024.1H1806.4M1797.4 1101.4V1232.6M1788.4 1232.6H1806.4M1807.6 916.9V943.3M1798.6 916.9H1816.6M1807.6 971.5V1019.4M1798.6 1019.4H1816.6M1817.8 1087.3V1155.2M1808.8 1087.3H1826.8M1817.8 1183.4V1334.8M1828.1 957.4V991.2M1819.1 957.4H1837.1M1828.1 1019.4V1087.3M1819.1 1087.3H1837.1M1838.3 957.4V991.2M1829.3 957.4H1847.3M1838.3 1019.4V1087.3M1829.3 1087.3H1847.3M1848.6 957.4V991.2M1839.6 957.4H1857.6M1848.6 1019.4V1087.3M1839.6 1087.3H1857.6M1858.8 1024.1V1073.2M1849.8 1024.1H1867.8M1858.8 1101.4V1232.6M1849.8 1232.6H1867.8M1869 985.4V1025.3M1860 985.4H1878M1869 1053.5V1141.2M1860 1141.2H1878M1879.3 1024.1V1073.2M1870.3 1024.1H1888.3M1879.3 1101.4V1232.6M1870.3 1232.6H1888.3M1889.5 957.4V991.2M1880.5 957.4H1898.5M1889.5 1019.4V1087.3M1880.5 1087.3H1898.5M1899.8 935.2V964.8M1890.8 935.2H1908.8M1899.8 993V1049.1M1890.8 1049.1H1908.8M1910 935.2V964.8M1901 935.2H1919M1910 993V1049.1M1901 1049.1H1919M1920.3 1087.3V1155.2M1911.3 1087.3H1929.3M1920.3 1183.4V1334.8M1930.5 916.9V943.3M1921.5 916.9H1939.5M1930.5 971.5V1019.4M1921.5 1019.4H1939.5M1940.7 985.4V1025.3M1931.7 985.4H1949.7M1940.7 1053.5V1141.2M1931.7 1141.2H1949.7M1951 1024.1V1073.2M1942 1024.1H1960M1951 1101.4V1232.6M1942 1232.6H1960M1961.2 1087.3V1155.2M1952.2 1087.3H1970.2M1961.2 1183.4V1334.8M1971.5 935.2V964.8M1962.5 935.2H1980.5M1971.5 993V1049.1M1962.5 1049.1H1980.5M1981.7 985.4V1025.3M1972.7 985.4H1990.7M1981.7 1053.5V1141.2M1972.7 1141.2H1990.7M1991.9 935.2V964.8M1982.9 935.2H2000.9M1991.9 993V1049.1M1982.9 1049.1H2000.9M2002.2 957.4V991.2M1993.2 957.4H2011.2M2002.2 1019.4V1087.3M1993.2 1087.3H2011.2M2012.4 985.4V1025.3M2003.4 985.4H2021.4M2012.4 1053.5V1141.2M2003.4 1141.2H2021.4M2022.7 1024.1V1073.2M2013.7 1024.1H2031.7M2022.7 1101.4V1232.6M2013.7 1232.6H2031.7M2032.9 1087.3V1155.2M2023.9 1087.3H2041.9M2032.9 1183.4V1334.8M2053.4 1087.3V1155.2M2044.4 1087.3H2062.4M2053.4 1183.4V1334.8M2063.6 1024.1V1073.2M2054.6 1024.1H2072.6M2063.6 1101.4V1232.6M2054.6 1232.6H2072.6M2073.9 1024.1V1073.2M2064.9 1024.1H2082.9M2073.9 1101.4V1232.6M2064.9 1232.6H2082.9M2084.1 935.2V964.8M2075.1 935.2H2093.1M2084.1 993V1049.1M2075.1 1049.1H2093.1M2104.6 1024.1V1073.2M2095.6 1024.1H2113.6M2104.6 1101.4V1232.6M2095.6 1232.6H2113.6M2114.8 1024.1V1073.2M2105.8 1024.1H2123.8M2114.8 1101.4V1232.6M2105.8 1232.6H2123.8M2135.3 1087.3V1155.2M2126.3 1087.3H2144.3M2135.3 1183.4V1334.8M2155.8 1024.1V1073.2M2146.8 1024.1H2164.8M2155.8 1101.4V1232.6M2146.8 1232.6H2164.8M2166.1 1024.1V1073.2M2157.1 1024.1H2175.1M2166.1 1101.4V1232.6M2157.1 1232.6H2175.1M2196.8 1024.1V1073.2M2187.8 1024.1H2205.8M2196.8 1101.4V1232.6M2187.8 1232.6H2205.8M2207 1087.3V1155.2M2198 1087.3H2216M2207 1183.4V1334.8M2217.3 1087.3V1155.2M2208.3 1087.3H2226.3M2217.3 1183.4V1334.8M2227.5 1024.1V1073.2M2218.5 1024.1H2236.5M2227.5 1101.4V1232.6M2218.5 1232.6H2236.5M2248 1087.3V1155.2M2239 1087.3H2257M2248 1183.4V1334.8M2299.2 1087.3V1155.2M2290.2 1087.3H2308.2M2299.2 1183.4V1334.8M2319.7 1087.3V1155.2M2310.7 1087.3H2328.7M2319.7 1183.4V1334.8"/>
<path stroke="#0f0" stroke-width="4.4" d="M537.6 675.9V676.5M528.6 675.9H546.6M537.6 704.7V707.4M528.6 707.4H546.6M547.9 669.8V670M538.9 669.8H556.9M547.9 698.2V700.4M538.9 700.4H556.9M549.1 662.2H567.1M558.1 690.2V691.8M549.1 691.8H567.1M559.4 654.5H577.4M568.4 682V683.1M559.4 683.1H577.4M569.6 640H587.6M578.6 666.7V666.8M569.6 666.8H587.6M579.8 635.6H597.8M579.8 661.8H597.8M590.1 613.1H608.1M590.1 636.8H608.1M600.3 620H618.3M600.3 644.5H618.3M610.6 614.9H628.6M610.6 638.8H628.6M620.8 619.5H638.8M620.8 643.9H638.8M631.1 603.2H649.1M631.1 625.9H649.1M641.3 610.6H659.3M641.3 634.1H659.3M651.5 601.3H669.5M651.5 623.8H669.5M661.8 587.9H679.8M661.8 609.1H679.8M672 594.2H690M672 616H690M682.3 593.4H700.3M682.3 615.2H700.3M692.5 597.8H710.5M692.5 620H710.5M702.7 604.9H720.7M702.7 627.8H720.7M713 614H731M713 637.8H731M723.2 625.1H741.2M723.2 650.2H741.2M733.5 620.7H751.5M733.5 645.2H751.5M743.7 651.9H761.7M752.7 679.3V680.1M743.7 680.1H761.7M754 632.1H772M754 657.9H772M773.2 667.4V667.4M764.2 667.4H782.2M773.2 695.6V697.6M764.2 697.6H782.2M783.4 702.6V704.9M774.4 702.6H792.4M783.4 733.1V738.1M774.4 738.1H792.4M793.7 750.8V756.9M784.7 750.8H802.7M793.7 785.1V795.3M784.7 795.3H802.7M803.9 767V774.4M794.9 767H812.9M803.9 802.6V814.9M794.9 814.9H812.9M814.2 740.1V745.2M805.2 740.1H823.2M814.2 773.4V782.3M805.2 782.3H823.2M824.4 802.4V813.3M815.4 802.4H833.4M824.4 841.5V859.2M815.4 859.2H833.4M834.6 821.8V834.9M825.6 821.8H843.6M834.6 863.1V884.3M825.6 884.3H843.6M844.9 875.4V895.3M835.9 875.4H853.9M844.9 923.5V957.4M835.9 957.4H853.9M855.1 864.4V882.8M846.1 864.4H864.1M855.1 911V941.9M846.1 941.9H864.1M865.4 957.4V991.2M856.4 957.4H874.4M865.4 1019.4V1087.3M856.4 1087.3H874.4M875.6 1087.3V1155.2M866.6 1087.3H884.6M875.6 1183.4V1334.8M885.9 916.9V943.3M876.9 916.9H894.9M885.9 971.5V1019.4M876.9 1019.4H894.9M896.1 916.9V943.3M887.1 916.9H905.1M896.1 971.5V1019.4M887.1 1019.4H905.1M906.3 875.4V895.3M897.3 875.4H915.3M906.3 923.5V957.4M897.3 957.4H915.3M916.6 864.4V882.8M907.6 864.4H925.6M916.6 911V941.9M907.6 941.9H925.6M926.8 1087.3V1155.2M917.8 1087.3H935.8M926.8 1183.4V1334.8M937.1 1024.1V1073.2M928.1 1024.1H946.1M937.1 1101.4V1232.6M928.1 1232.6H946.1M947.3 957.4V991.2M938.3 957.4H956.3M947.3 1019.4V1087.3M938.3 1087.3H956.3M957.5 985.4V1025.3M948.5 985.4H966.5M957.5 1053.5V1141.2M948.5 1141.2H966.5M967.8 1087.3V1155.2M958.8 1087.3H976.8M967.8 1183.4V1334.8M978 1024.1V1073.2M969 1024.1H987M978 1101.4V1232.6M969 1232.6H987M988.3 1087.3V1155.2M979.3 1087.3H997.3M988.3 1183.4V1334.8M998.5 887.5V909.2M989.5 887.5H1007.5M998.5 937.4V974.9M989.5 974.9H1007.5M1008.8 985.4V1025.3M999.8 985.4H1017.8M1008.8 1053.5V1141.2M999.8 1141.2H1017.8M1029.2 935.2V964.8M1020.2 935.2H1038.2M1029.2 993V1049.1M1020.2 1049.1H1038.2M1049.7 1087.3V1155.2M1040.7 1087.3H1058.7M1049.7 1183.4V1334.8M1060 1087.3V1155.2M1051 1087.3H1069M1060 1183.4V1334.8M1080.4 1087.3V1155.2M1071.4 1087.3H1089.4M1080.4 1183.4V1334.8M1121.4 1087.3V1155.2M1112.4 1087.3H1130.4M1121.4 1183.4V1334.8M1131.7 985.4V1025.3M1122.7 985.4H1140.7M1131.7 1053.5V1141.2M1122.7 1141.2H1140.7M1152.1 1087.3V1155.2M1143.1 1087.3H1161.1M1152.1 1183.4V1334.8M1172.6 1087.3V1155.2M1163.6 1087.3H1181.6M1172.6 1183.4V1334.8M1223.8 1087.3V1155.2M1214.8 1087.3H1232.8M1223.8 1183.4V1334.8M1254.6 1087.3V1155.2M1245.6 1087.3H1263.6M1254.6 1183.4V1334.8M1275 1087.3V1155.2M1266 1087.3H1284M1275 1183.4V1334.8M1326.2 1087.3V1155.2M1317.2 1087.3H1335.2M1326.2 1183.4V1334.8M1438.9 1024.1V1073.2M1429.9 1024.1H1447.9M1438.9 1101.4V1232.6M1429.9 1232.6H1447.9M1490.1 1087.3V1155.2M1481.1 1087.3H1499.1M1490.1 1183.4V1334.8M1572 1087.3V1155.2M1563 1087.3H1581M1572 1183.4V1334.8M1582.3 1087.3V1155.2M1573.3 1087.3H1591.3M1582.3 1183.4V1334.8M1725.7 1087.3V1155.2M1716.7 1087.3H1734.7M1725.7 1183.4V1334.8M1746.1 1087.3V1155.2M1737.1 1087.3H1755.1M1746.1 1183.4V1334.8M1787.1 1087.3V1155.2M1778.1 1087.3H1796.1M1787.1 1183.4V1334.8M1838.3 1087.3V1155.2M1829.3 1087.3H1847.3M1838.3 1183.4V1334.8M1940.7 1024.1V1073.2M1931.7 1024.1H1949.7M1940.7 1101.4V1232.6M1931.7 1232.6H1949.7M1971.5 1087.3V1155.2M1962.5 1087.3H1980.5M1971.5 1183.4V1334.8M2022.7 1087.3V1155.2M2013.7 1087.3H2031.7M2022.7 1183.4V1334.8M2104.6 1087.3V1155.2M2095.6 1087.3H2113.6M2104.6 1183.4V1334.8M2125.1 1087.3V1155.2M2116.1 1087.3H2134.1M2125.1 1183.4V1334.8M2186.5 985.4V1025.3M2177.5 985.4H2195.5M2186.5 1053.5V1141.2M2177.5 1141.2H2195.5M2278.7 1087.3V1155.2M2269.7 1087.3H2287.7M2278.7 1183.4V1334.8M2329.9 1087.3V1155.2M2320.9 1087.3H2338.9M2329.9 1183.4V1334.8"/>
<path stroke="#00f" stroke-width="4.4" d="M537.6 677.9V678.6M528.6 677.9H546.6M537.6 706.8V709.7M528.6 709.7H546.6M538.9 656.9H556.9M547.9 684.6V685.8M538.9 685.8H556.9M549.1 643.8H567.1M558.1 670.7V671M549.1 671H567.1M559.4 632.7H577.4M559.4 658.6H577.4M569.6 621.4H587.6M569.6 646.1H587.6M579.8 621H597.8M579.8 645.6H597.8M590.1 641H608.1M599.1 667.7V667.8M590.1 667.8H608.1M600.3 616.9H618.3M600.3 641H618.3M610.6 606.5H628.6M610.6 629.5H628.6M620.8 609.8H638.8M620.8 633.2H638.8M631.1 593.3H649.1M631.1 615H649.1M641.3 604.6H659.3M641.3 627.4H659.3M651.5 609.6H669.5M651.5 633H669.5M661.8 584.1H679.8M661.8 604.9H679.8M672 591.1H690M672 612.6H690M682.3 596.4H700.3M682.3 618.4H700.3M692.5 592H710.5M692.5 613.6H710.5M702.7 594.5H720.7M702.7 616.4H720.7M713 608.8H731M713 632.1H731M723.2 654.5H741.2M732.2 682.1V683.1M723.2 683.1H741.2M733.5 638H751.5M733.5 664.5H751.5M743.7 643.3H761.7M752.7 670.2V670.5M743.7 670.5H761.7M754 662.1H772M763 690.1V691.7M754 691.7H772M764.2 665H782.2M773.2 693.2V695M764.2 695H782.2M783.4 712.8V715.9M774.4 712.8H792.4M783.4 744.1V750.1M774.4 750.1H792.4M793.7 758.6V765.3M784.7 758.6H802.7M793.7 793.5V804.7M784.7 804.7H802.7M803.9 743.5V749M794.9 743.5H812.9M803.9 777.2V786.5M794.9 786.5H812.9M814.2 780.8V789.6M805.2 780.8H823.2M814.2 817.8V832M805.2 832H823.2M824.4 785.8V795.1M815.4 785.8H833.4M824.4 823.3V838.3M815.4 838.3H833.4M834.6 836.9V851.8M825.6 836.9H843.6M834.6 880V904.3M825.6 904.3H843.6M844.9 875.4V895.3M835.9 875.4H853.9M844.9 923.5V957.4M835.9 957.4H853.9M855.1 887.5V909.2M846.1 887.5H864.1M855.1 937.4V974.9M846.1 974.9H864.1M865.4 901.2V925M856.4 901.2H874.4M865.4 953.2V995.3M856.4 995.3H874.4M875.6 985.4V1025.3M866.6 985.4H884.6M875.6 1053.5V1141.2M866.6 1141.2H884.6M885.9 901.2V925M876.9 901.2H894.9M885.9 953.2V995.3M876.9 995.3H894.9M896.1 901.2V925M887.1 901.2H905.1M896.1 953.2V995.3M887.1 995.3H905.1M906.3 957.4V991.2M897.3 957.4H915.3M906.3 1019.4V1087.3M897.3 1087.3H915.3M916.6 985.4V1025.3M907.6 985.4H925.6M916.6 1053.5V1141.2M907.6 1141.2H925.6M926.8 935.2V964.8M917.8 935.2H935.8M926.8 993V1049.1M917.8 1049.1H935.8M937.1 935.2V964.8M928.1 935.2H946.1M937.1 993V1049.1M928.1 1049.1H946.1M947.3 957.4V991.2M938.3 957.4H956.3M947.3 1019.4V1087.3M938.3 1087.3H956.3M957.5 1024.1V1073.2M948.5 1024.1H966.5M957.5 1101.4V1232.6M948.5 1232.6H966.5M967.8 901.2V925M958.8 901.2H976.8M967.8 953.2V995.3M958.8 995.3H976.8M978 985.4V1025.3M969 985.4H987M978 1053.5V1141.2M969 1141.2H987M988.3 901.2V925M979.3 901.2H997.3M988.3 953.2V995.3M979.3 995.3H997.3M998.5 1024.1V1073.2M989.5 1024.1H1007.5M998.5 1101.4V1232.6M989.5 1232.6H1007.5M1008.8 916.9V943.3M999.8 916.9H1017.8M1008.8 971.5V1019.4M999.8 1019.4H1017.8M1019 957.4V991.2M1010 957.4H1028M1019 1019.4V1087.3M1010 1087.3H1028M1029.2 1087.3V1155.2M1020.2 1087.3H1038.2M1029.2 1183.4V1334.8M1039.5 1087.3V1155.2M1030.5 1087.3H1048.5M1039.5 1183.4V1334.8M1049.7 957.4V991.2M1040.7 957.4H1058.7M1049.7 1019.4V1087.3M1040.7 1087.3H1058.7M1060 985.4V1025.3M1051 985.4H1069M1060 1053.5V1141.2M1051 1141.2H1069M1080.4 957.4V991.2M1071.4 957.4H1089.4M1080.4 1019.4V1087.3M1071.4 1087.3H1089.4M1090.7 1024.1V1073.2M1081.7 1024.1H1099.7M1090.7 1101.4V1232.6M1081.7 1232.6H1099.7M1100.9 1087.3V1155.2M1091.9 1087.3H1109.9M1100.9 1183.4V1334.8M1111.2 1087.3V1155.2M1102.2 1087.3H1120.2M1111.2 1183.4V1334.8M1152.1 1024.1V1073.2M1143.1 1024.1H1161.1M1152.1 1101.4V1232.6M1143.1 1232.6H1161.1M1182.9 1087.3V1155.2M1173.9 1087.3H1191.9M1182.9 1183.4V1334.8M1213.6 1087.3V1155.2M1204.6 1087.3H1222.6M1213.6 1183.4V1334.8M1244.3 1087.3V1155.2M1235.3 1087.3H1253.3M1244.3 1183.4V1334.8M1295.5 1024.1V1073.2M1286.5 1024.1H1304.5M1295.5 1101.4V1232.6M1286.5 1232.6H1304.5M1316 1024.1V1073.2M1307 1024.1H1325M1316 1101.4V1232.6M1307 1232.6H1325M1336.5 1087.3V1155.2M1327.5 1087.3H1345.5M1336.5 1183.4V1334.8M1357 1087.3V1155.2M1348 1087.3H1366M1357 1183.4V1334.8M1367.2 1087.3V1155.2M1358.2 1087.3H1376.2M1367.2 1183.4V1334.8M1377.5 1087.3V1155.2M1368.5 1087.3H1386.5M1377.5 1183.4V1334.8M1418.4 1024.1V1073.2M1409.4 1024.1H1427.4M1418.4 1101.4V1232.6M1409.4 1232.6H1427.4M1459.4 1087.3V1155.2M1450.4 1087.3H1468.4M1459.4 1183.4V1334.8M1479.9 1087.3V1155.2M1470.9 1087.3H1488.9M1479.9 1183.4V1334.8M1592.5 1087.3V1155.2M1583.5 1087.3H1601.5M1592.5 1183.4V1334.8M1613 1087.3V1155.2M1604 1087.3H1622M1613 1183.4V1334.8M1643.7 1087.3V1155.2M1634.7 1087.3H1652.7M1643.7 1183.4V1334.8M1684.7 1087.3V1155.2M1675.7 1087.3H1693.7M1684.7 1183.4V1334.8M1735.9 1087.3V1155.2M1726.9 1087.3H1744.9M1735.9 1183.4V1334.8M2012.4 1087.3V1155.2M2003.4 1087.3H2021.4M2012.4 1183.4V1334.8M2155.8 1087.3V1155.2M2146.8 1087.3H2164.8M2155.8 1183.4V1334.8M2237.7 1087.3V1155.2M2228.7 1087.3H2246.7M2237.7 1183.4V1334.8M2258.2 1087.3V1155.2M2249.2 1087.3H2267.2M2258.2 1183.4V1334.8M2268.5 1087.3V1155.2M2259.5 1087.3H2277.5M2268.5 1183.4V1334.8"/>
<g stroke-width="12" stroke-linecap="round" stroke-linejoin="round">
<path stroke="#000" d="M465.6 786 L465.6 784 L465.6 782 L465.6 780 L465.6 778 L465.6 776 L465.6 774 L465.7 772 L465.7 770 L465.7 768 L465.7 766 L465.7 764 L465.7 762 L465.7 760 L465.7 758 L465.7 756 L465.7 754 L465.7 752 L465.7 750 L465.8 748 L465.8 746 L465.8 744 L465.8 742 L465.8 740 L465.8 738 L465.8 736 L465.8 734 L465.8 732 L465.8 730 L465.9 728 L465.9 726 L465.9 724 L465.9 722 L465.9 720 L465.9 718 L465.9 716 L465.9 714 L465.9 712 L466 710 L466 708 L466 706 L466 704 L466 702 L466 700 L466 698 L466 696 L466 694 L466.1 692 L466.1 690 L466.1 688 L466.1 686 L466.1 684 L466.1 682 L466.1 680 L466.1 678 L466.2 676 L466.2 674 L466.2 672 L466.2 670 L466.2 668 L466.2 666 L466.2 664 L466.3 662 L466.3 660 L466.3 658 L466.3 656 L466.3 654 L466.3 652 L466.4 650 L466.4 648 L466.4 646 L466.4 644 L466.4 642 L466.5 640 L466.5 638 L466.5 636 L466.5 634 L466.6 632 L466.6 630 L466.6 628 L466.7 626 L466.7 624 L466.7 622 L466.8 620 L466.8 618 L466.8 616 L466.9 614 L466.9 612 L466.9 610 L467 608 L467 606 L467.1 604 L467.1 602 L467.2 600 L467.2 598 L467.3 596 L467.3 594 L467.4 592 L467.4 590 L467.5 588 L467.5 586 L467.6 584 L467.6 582 L467.7 580 L467.8 578 L467.8 576 L467.9 574 L468 572 L468 570 L468.1 568 L468.2 566 L468.2 564 L468.3 562 L468.4 560 L468.5 558 L468.6 556 L468.7 554 L468.8 552 L469 550 L469.1 548.1 L469.3 546.1 L469.5 544.1 L469.7 542.1 L469.9 540.1 L470.1 538.1 L470.3 536.1 L470.5 534.1 L470.7 532.1 L470.9 530.1 L471.2 528.1 L471.4 526.2 L471.6 524.2 L471.8 522.2 L472.1 520.2 L472.4 518.2 L472.7 516.2 L473.1 514.3 L473.4 512.3 L473.7 510.3 L474 508.3 L474.3 506.4 L474.6 504.4 L474.8 502.4 L475.1 500.4 L475.2 498.4 L475.4 496.4 L475.6 494.5 L475.7 492.5 L475.9 490.5 L476 488.5 L476.2 486.5 L476.3 484.5 L476.4 482.5 L476.5 480.5 L476.6 478.5 L476.7 476.5 L476.9 474.5 L477 472.5 L477.1 470.5 L477.2 468.5 L477.3 466.5 L477.5 464.5 L477.6 462.5 L477.7 460.5 L477.9 458.5 L478 456.5 L478.2 454.5 L478.4 452.5 L478.6 450.5 L478.7 448.6 L478.9 446.6 L479.1 444.6 L479.3 442.6 L479.5 440.6 L479.7 438.6 L480 436.6 L480.2 434.6 L480.4 432.6 L480.6 430.6 L480.9 428.7 L481.1 426.7 L481.4 424.7 L481.6 422.7 L481.9 420.7 L482.1 418.7 L482.4 416.7 L482.7 414.8 L483 412.8 L483.2 410.8 L483.5 408.8 L483.8 406.9 L484.1 404.9 L484.4 402.9 L484.7 400.9 L485.1 399 L485.4 397 L485.8 395 L486.1 393 L486.5 391.1 L486.9 389.1 L487.3 387.1 L487.7 385.2 L488.1 383.2 L488.5 381.3 L489 379.3 L489.4 377.4 L489.9 375.4 L490.3 373.5 L490.8 371.5 L491.3 369.6 L491.8 367.7 L492.4 365.8 L492.9 363.9 L493.5 361.9 L494.1 360 L494.7 358.1 L495.3 356.2 L496 354.3 L496.6 352.4 L497.2 350.5 L497.9 348.6 L498.5 346.7 L499.2 344.8 L499.8 342.9 L500.4 341 L501.1 339.1 L501.7 337.2 L502.3 335.3 L502.9 333.4 L503.5 331.5 L504.1 329.6 L504.8 327.7 L505.4 325.8 L506 323.9 L506.6 322 L507.2 320.1 L507.9 318.2 L508.5 316.3 L509.2 314.4 L509.8 312.5 L510.5 310.6 L511.2 308.8 L511.9 306.9 L512.6 305 L513.3 303.1 L514 301.3 L514.7 299.4 L515.5 297.5 L516.2 295.7 L517 293.8 L517.7 292 L518.5 290.1 L519.3 288.3 L520.1 286.5 L520.9 284.6 L521.8 282.8 L522.6 281 L523.5 279.3 L524.4 277.5 L525.4 275.7 L526.3 274 L527.3 272.2 L528.3 270.5 L529.3 268.7 L530.3 267 L531.3 265.3 L532.3 263.5 L533.3 261.8 L534.3 260 L535.2 258.3 L536.2 256.6 L537.2 254.8 L538.2 253.1 L539.1 251.3 L540.1 249.5 L541 247.8 L541.8 246 L542.7 244.1 L543.5 242.3 L544.3 240.4 L545 238.6 L545.8 236.7 L546.6 234.9 L547.5 233.1 L548.3 231.3 L549.2 229.5 L550.1 227.8 L551.1 226 L552.1 224.3 L553.2 222.6 L554.3 220.9 L555.4 219.2 L556.5 217.6 L557.7 215.9 L558.8 214.3 L560.1 212.7 L561.3 211.1 L562.5 209.6 L563.8 208.1 L565.1 206.6 L566.5 205.1 L567.9 203.6 L569.3 202.2 L570.8 200.8 L572.2 199.5 L573.7 198.1 L575.2 196.8 L576.8 195.6 L578.3 194.3 L579.9 193.1 L581.6 192 L583.2 190.8 L584.9 189.7 L586.5 188.5 L588.2 187.4 L589.8 186.3 L591.4 185.1 L593.1 183.9 L594.7 182.7 L596.3 181.6 L598 180.4 L599.6 179.3 L601.3 178.2 L603 177.2 L604.7 176.2 L606.5 175.3 L608.3 174.4 L610.1 173.5 L611.9 172.6 L613.7 171.8 L615.6 171 L617.5 170.3 L619.4 169.6 L621.2 168.9 L623.1 168.3 L625.1 167.8 L627 167.4 L629 167 L631.1 166.7 L633.1 166.4 L635.2 166.1 L637.2 165.8 L639.2 165.5 L641.1 165.1 L643 164.6 L644.7 164.1 L646.4 163.3 L648 162.2 L649.5 160.8 L650.9 159.3 L652.3 157.7 L653.8 156.1 L655.3 154.7 L656.9 153.6 L658.6 152.8 L660.4 152.1 L662.3 151.6 L664.2 151.1 L666.2 150.6 L668.2 150.2 L670.2 149.7 L672.2 149.2 L674.1 148.8 L676.1 148.3 L678 147.9 L680 147.5 L681.9 147 L683.9 146.5 L685.8 146 L687.7 145.5 L689.7 144.9 L691.6 144.3 L693.5 143.7 L695.4 143.1 L697.3 142.5 L699.3 141.9 L701.2 141.4 L703.1 140.9 L705.1 140.4 L707 140 L709 139.6 L710.9 139.3 L712.9 139.1 L714.9 138.8 L716.9 138.5 L718.9 138.3 L720.9 138.1 L722.9 137.9 L724.9 137.7 L726.9 137.6 L728.9 137.5 L730.8 137.5 L732.8 137.6 L734.8 137.8 L736.8 138.2 L738.8 138.7 L740.8 139.2 L742.8 139.8 L744.7 140.5 L746.5 141.2 L748.3 141.9 L750.1 142.7 L751.8 143.6 L753.5 144.7 L755.2 145.9 L756.8 147.3 L758.4 148.7 L759.8 150.1 L761.1 151.5 L762.3 153 L763.5 154.6 L764.7 156.2 L765.8 157.9 L766.9 159.7 L767.9 161.5 L768.9 163.3 L769.7 165.2 L770.5 167.1 L771.1 169 L771.7 170.9 L772.1 172.7 L772.4 174.6 L772.7 176.6 L772.9 178.6 L773.1 180.5 L773.3 182.6 L773.5 184.6 L773.7 186.6 L773.9 188.7 L774 190.7 L774.2 192.7 L774.5 194.7 L774.7 196.7 L775 198.7 L775.3 200.6 L775.8 202.5 L776.4 204.4 L777.1 206.2 L778 208.1 L778.8 209.9 L779.7 211.7 L780.5 213.6 L781.3 215.5 L781.8 217.4 L782.4 219.3 L782.9 221.2 L783.3 223.2 L783.8 225.1 L784.2 227.1 L784.6 229 L785.1 231 L785.5 232.9 L786 234.9 L786.5 236.8 L787 238.8 L787.4 240.7 L787.9 242.6 L788.5 244.6 L789 246.5 L789.5 248.4 L790 250.4 L790.6 252.3 L791.1 254.2 L791.7 256.2 L792.2 258.1 L792.8 260 L793.3 262 L794 263.9 L794.6 265.7 L795.3 267.6 L796.1 269.4 L797 271.2 L797.9 272.9 L798.9 274.7 L800 276.4 L801.1 278.1 L802.2 279.8 L803.3 281.4 L804.5 283 L805.7 284.6 L807 286.2 L808.2 287.7 L809.6 289.2 L810.9 290.7 L812.2 292.2 L813.6 293.7 L815.1 295.1 L816.5 296.5 L817.8 298 L819 299.6 L820.1 301.2 L821 302.9 L822 304.7 L822.9 306.5 L823.7 308.4 L824.5 310.2 L825.3 312.1 L826 314 L826.7 315.8 L827.3 317.7 L827.9 319.6 L828.5 321.5 L829.1 323.4 L829.7 325.3 L830.2 327.3 L830.7 329.2 L831.3 331.2 L831.8 333.1 L832.3 335.1 L832.7 337 L833.2 338.9 L833.7 340.9 L834.2 342.8 L834.6 344.8 L835.1 346.7 L835.5 348.7 L836 350.6 L836.4 352.6 L836.8 354.5 L837.3 356.5 L837.7 358.4 L838.1 360.4 L838.5 362.4 L838.8 364.3 L839.2 366.3 L839.6 368.3 L839.9 370.2 L840.3 372.2 L840.6 374.2 L840.9 376.1 L841.3 378.1 L841.6 380.1 L841.9 382.1 L842.2 384 L842.5 386 L842.9 388 L843.2 390 L843.5 391.9 L843.9 393.9 L844.3 395.9 L844.6 397.8 L845 399.8 L845.3 401.8 L845.7 403.7 L846.1 405.7 L846.4 407.7 L846.8 409.6 L847.1 411.6 L847.5 413.6 L847.8 415.5 L848.2 417.5 L848.5 419.5 L848.8 421.5 L849.1 423.4 L849.3 425.4 L849.6 427.4 L849.8 429.4 L850.1 431.5 L850.3 433.5 L850.5 435.5 L850.7 437.5 L850.9 439.5 L851.1 441.5 L851.4 443.5 L851.6 445.5 L851.9 447.5 L852.2 449.4 L852.5 451.4 L852.9 453.3 L853.2 455.2 L853.7 457.1 L854.2 459 L854.9 460.9 L855.7 462.7 L856.6 464.6 L857.6 466.3 L858.5 468.1 L859.6 470.1 L860.8 472.2 L862 473.8 L863.2 474.3 L864.3 473.4 L865.4 471.5 L866.4 469.3 L867.4 467.2 L868.3 465.4 L869.1 463.6 L869.9 461.8 L870.7 459.9 L871.5 458.1 L872.4 456.3 L873.3 454.5 L874.2 452.7 L875.2 451 L876.3 449.3 L877.3 447.6 L878.4 445.9 L879.4 444.2 L880.5 442.5 L881.5 440.8 L882.5 439.1 L883.5 437.3 L884.4 435.5 L885.4 433.7 L886.3 431.9 L887.3 430.1 L888.3 428.4 L889.4 426.8 L890.6 425.2 L892 423.5 L893.4 421.7 L895 420.3 L896.5 419.5 L898.2 419.8 L899.9 420.8 L901.6 422.4 L902.9 423.9 L904 425.5 L904.9 427.2 L905.6 429.1 L906.4 431 L907 433 L907.7 435 L908.3 436.9 L908.9 438.8 L909.4 440.7 L909.9 442.6 L910.5 444.5 L910.9 446.5 L911.4 448.4 L911.9 450.4 L912.3 452.3 L912.8 454.3 L913.2 456.2 L913.7 458.2 L914.2 460.1 L914.7 462.1 L915.2 464 L915.7 465.9 L916.3 467.9 L916.8 469.8 L917.4 471.7 L918 473.6 L918.6 475.5 L919.2 477.4 L919.8 479.3 L920.4 481.2 L921 483.1 L921.6 485 L922.2 486.9 L922.8 488.9 L923.4 490.8 L924 492.7 L924.6 494.6 L925.2 496.5 L925.7 498.4 L926.2 500.4 L926.8 502.3 L927.3 504.2 L927.8 506.1 L928.3 508.1 L928.8 510 L929.3 511.9 L929.8 513.9 L930.3 515.8 L930.8 517.8 L931.3 519.7 L931.8 521.6 L932.3 523.6 L932.7 525.5 L933.2 527.5 L933.7 529.4 L934.1 531.4 L934.6 533.3 L935 535.3 L935.5 537.2 L935.9 539.2 L936.3 541.1 L936.8 543.1 L937.2 545 L937.6 547 L938 548.9 L938.4 550.9 L938.8 552.9 L939.2 554.8 L939.6 556.8 L940 558.7 L940.3 560.7 L940.7 562.7 L941.1 564.6 L941.5 566.6 L941.8 568.6 L942.2 570.5 L942.6 572.5 L943 574.5 L943.4 576.4 L943.7 578.4 L944.1 580.4 L944.5 582.3 L944.9 584.3 L945.3 586.2 L945.7 588.2 L946.2 590.1 L946.6 592.1 L947 594.1 L947.4 596 L947.9 598 L948.3 599.9 L948.7 601.9 L949.2 603.8 L949.6 605.8 L950.1 607.7 L950.6 609.7 L951.1 611.6 L951.6 613.5 L952.1 615.5 L952.7 617.8 L953.4 620.3 L954 622.6 L954.7 624.3 L955.5 625 L956.2 624.5 L957 622.9 L957.8 620.8 L958.7 618.4 L959.5 616.1 L960.4 614.2 L961.2 612.4 L962 610.5 L962.9 608.7 L963.7 606.9 L964.5 605.1 L965.4 603.3 L966.2 601.4 L967.1 599.6 L968 597.8 L968.8 596 L969.7 594.3 L970.6 592.5 L971.5 590.6 L972.4 588.8 L973.2 586.9 L974.1 585 L975 583.2 L975.8 581.3 L976.7 579.5 L977.7 577.7 L978.6 575.9 L979.6 574.1 L980.6 572.4 L981.6 570.7 L982.7 569.1 L983.8 567.6 L985 566.1 L986.3 564.6 L987.7 563.1 L989.2 561.4 L990.8 559.8 L992.4 558.2 L994.1 556.8 L995.8 555.5 L997.5 554.4 L999.2 553.6 L1000.8 553.1 L1002.4 553 L1004 553.4 L1005.6 554.2 L1007.2 555.3 L1008.9 556.8 L1010.5 558.4 L1012 560.1 L1013.4 561.9 L1014.7 563.7 L1015.9 565.4 L1016.9 566.9 L1017.8 568.6 L1018.7 570.2 L1019.6 572 L1020.4 573.7 L1021.2 575.6 L1021.9 577.4 L1022.6 579.3 L1023.3 581.2 L1024 583.2 L1024.6 585.1 L1025.3 587.1 L1025.9 589.1 L1026.5 591.1 L1027.1 593 L1027.7 595 L1028.3 596.9 L1028.9 598.9 L1029.5 600.8 L1030.1 602.7 L1030.7 604.6 L1031.2 606.5 L1031.8 608.4 L1032.3 610.3 L1032.9 612.3 L1033.4 614.2 L1033.9 616.1 L1034.5 618.1 L1035 620 L1035.5 621.9 L1036 623.9 L1036.4 625.8 L1036.9 627.8 L1037.4 629.7 L1037.9 631.7 L1038.3 633.6 L1038.8 635.6 L1039.2 637.5 L1039.7 639.5 L1040.1 641.4 L1040.6 643.4 L1041 645.3 L1041.4 647.3 L1041.8 649.2 L1042.2 651.2 L1042.6 653.1 L1043 655.1 L1043.4 657.1 L1043.8 659 L1044.2 661 L1044.6 662.9 L1045 664.9 L1045.4 666.9 L1045.7 668.8 L1046.1 670.8 L1046.5 672.8 L1046.9 674.7 L1047.2 676.7 L1047.6 678.7 L1048 680.6 L1048.4 682.6 L1048.8 684.6 L1049.1 686.5 L1049.5 688.5 L1049.9 690.4 L1050.3 692.4 L1050.7 694.4 L1051.1 696.3 L1051.4 698.3 L1051.8 700.3 L1052.2 702.3 L1052.5 704.2 L1052.9 706.2 L1053.2 708.2 L1053.6 710.1 L1053.9 712.1 L1054.3 714.1 L1054.6 716.1 L1055 718 L1055.4 720 L1055.8 722 L1056.1 723.9 L1056.5 725.9 L1056.9 727.9 L1057.3 729.8 L1057.8 731.8 L1058.2 733.7 L1058.7 735.6 L1059.1 737.6 L1059.6 739.5 L1060.1 741.4 L1060.6 743.4 L1061.1 745.3 L1061.6 747.3 L1062.2 749.3 L1062.8 751.2 L1063.4 753.1 L1064 755.1 L1064.7 756.9 L1065.5 758.8 L1066.3 760.5 L1067.1 762.3 L1068.2 764.3 L1069.5 766.3 L1070.9 767.7 L1072.1 767.9 L1073.3 766.9 L1074.4 765.1 L1075.5 763 L1076.5 760.8 L1077.5 759.1 L1078.5 757.3 L1079.4 755.5 L1080.3 753.8 L1081.2 752 L1082.1 750.2 L1083 748.3 L1083.8 746.5 L1084.6 744.7 L1085.4 742.8 L1086.1 741 L1086.8 739.1 L1087.5 737.3 L1088.2 735.4 L1088.9 733.5 L1089.5 731.6 L1090.1 729.7 L1090.7 727.8 L1091.3 725.9 L1091.9 723.9 L1092.5 722 L1093.1 720.1 L1093.6 718.2 L1094.2 716.2 L1094.8 714.3 L1095.4 712.4 L1095.9 710.5 L1096.5 708.6 L1097.2 706.7 L1097.8 704.8 L1098.4 702.9 L1099.1 701 L1099.8 699.1 L1100.5 697.3 L1101.2 695.4 L1102 693.6 L1102.7 691.7 L1103.5 689.8 L1104.3 687.8 L1105.1 685.9 L1106 684 L1106.8 682.2 L1107.8 680.3 L1108.7 678.6 L1109.8 677 L1110.8 675.4 L1112 674 L1113.3 672.5 L1114.8 671 L1116.5 669.5 L1118.2 668.3 L1120 667.4 L1121.8 667 L1123.7 667.1 L1125.7 667.5 L1127.8 668.2 L1129.7 668.9 L1131.5 669.7 L1133 670.7 L1134.5 671.9 L1135.9 673.4 L1137.2 675.1 L1138.3 676.9 L1139.4 678.7 L1140.3 680.4 L1141.2 682.1 L1142 683.9 L1142.8 685.7 L1143.5 687.5 L1144.2 689.4 L1144.9 691.3 L1145.5 693.2 L1146.1 695.2 L1146.7 697.1 L1147.3 699.1 L1147.8 701 L1148.4 703 L1148.9 705 L1149.5 706.9 L1150 708.8 L1150.6 710.8 L1151.1 712.7 L1151.7 714.6 L1152.2 716.5 L1152.7 718.5 L1153.2 720.4 L1153.7 722.3 L1154.2 724.3 L1154.7 726.2 L1155.2 728.2 L1155.7 730.1 L1156.1 732.1 L1156.6 734 L1157 736 L1157.4 737.9 L1157.9 739.9 L1158.3 741.8 L1158.7 743.8 L1159.1 745.7 L1159.4 747.7 L1159.8 749.7 L1160.2 751.6 L1160.6 753.6 L1160.9 755.6 L1161.3 757.5 L1161.6 759.5 L1162 761.5 L1162.3 763.5 L1162.6 765.4 L1163 767.4 L1163.3 769.4 L1163.6 771.3 L1163.9 773.3 L1164.3 775.3 L1164.6 777.3 L1164.9 779.2 L1165.3 781.2 L1165.6 783.2 L1165.9 785.2 L1166.3 787.1 L1166.6 789.1 L1166.9 791.1 L1167.2 793.1 L1167.6 795 L1167.9 797 L1168.2 799 L1168.5 800.9 L1168.8 802.9 L1169.2 804.9 L1169.5 806.9 L1169.8 808.8 L1170.1 810.8 L1170.4 812.8 L1170.8 814.8 L1171.1 816.7 L1171.4 818.7 L1171.8 820.7 L1172.1 822.7 L1172.5 824.6 L1172.8 826.6 L1173.1 828.6 L1173.5 830.5 L1173.8 832.5 L1174.1 834.5 L1174.5 836.5 L1174.8 838.4 L1175.2 840.4 L1175.5 842.4 L1175.9 844.4 L1176.2 846.3 L1176.6 848.3 L1176.9 850.3 L1177.3 852.2 L1177.7 854.2 L1178.1 856.2 L1178.5 858.1 L1178.9 860.1 L1179.3 862 L1179.8 864 L1180.2 865.9 L1180.7 867.9 L1181.1 869.9 L1181.6 871.8 L1182 873.8 L1182.5 875.8 L1183.1 877.8 L1183.6 879.7 L1184.2 881.6 L1184.9 883.4 L1185.6 885.2 L1186.5 887 L1187.7 889.1 L1189 891.1 L1190.4 892.5 L1191.5 893 L1192.5 892.2 L1193.5 890.5 L1194.4 888.3 L1195.3 885.9 L1196.1 883.9 L1196.8 882 L1197.5 880.2 L1198.1 878.3 L1198.7 876.4 L1199.3 874.5 L1199.9 872.5 L1200.5 870.6 L1201 868.7 L1201.6 866.8 L1202.1 864.8 L1202.7 862.9 L1203.3 861 L1203.9 859.1 L1204.5 857.2 L1205 855.3 L1205.6 853.3 L1206.2 851.4 L1206.7 849.5 L1207.3 847.6 L1207.8 845.6 L1208.4 843.7 L1208.9 841.8 L1209.5 839.9 L1210 838 L1210.6 836 L1211.2 834.1 L1211.7 832.2 L1212.3 830.3 L1212.9 828.4 L1213.5 826.5 L1214.1 824.5 L1214.7 822.6 L1215.3 820.7 L1215.9 818.8 L1216.5 816.9 L1217.1 815 L1217.7 813 L1218.3 811.1 L1218.9 809.1 L1219.5 807.1 L1220 805.1 L1220.6 803.2 L1221.2 801.2 L1221.9 799.2 L1222.5 797.3 L1223.1 795.3 L1223.8 793.4 L1224.5 791.6 L1225.2 789.7 L1226 787.9 L1226.8 786.1 L1227.6 784.4 L1228.5 782.7 L1229.4 781.1 L1230.3 779.5 L1231.4 777.7 L1232.7 775.9 L1234.1 774.1 L1235.6 772.2 L1237.1 770.4 L1238.7 768.8 L1240.3 767.3 L1241.9 766 L1243.4 765 L1244.9 764.4 L1246.3 764.2 L1247.6 764.4 L1248.9 765.1 L1250.3 766.1 L1251.6 767.4 L1252.9 769 L1254.2 770.8 L1255.5 772.7 L1256.7 774.8 L1257.9 776.9 L1259 779.1 L1260.1 781.1 L1261.1 783.1 L1262 784.9 L1262.8 786.7 L1263.6 788.4 L1264.4 790.2 L1265.2 792.1 L1265.9 793.9 L1266.6 795.8 L1267.3 797.7 L1268 799.6 L1268.6 801.5 L1269.2 803.4 L1269.8 805.4 L1270.4 807.3 L1271 809.3 L1271.6 811.2 L1272.1 813.2 L1272.6 815.1 L1273.2 817 L1273.7 819 L1274.2 820.9 L1274.6 822.8 L1275.1 824.8 L1275.6 826.7 L1276 828.6 L1276.4 830.6 L1276.9 832.5 L1277.3 834.5 L1277.7 836.5 L1278 838.4 L1278.4 840.4 L1278.8 842.4 L1279.2 844.3 L1279.5 846.3 L1279.9 848.3 L1280.2 850.2 L1280.6 852.2 L1280.9 854.2 L1281.3 856.2 L1281.6 858.2 L1281.9 860.1 L1282.3 862.1 L1282.6 864.1 L1283 866.1 L1283.3 868 L1283.7 870 L1284 872 L1284.4 874 L1284.8 875.9 L1285.2 877.9 L1285.5 879.9 L1285.9 881.8 L1286.3 883.8 L1286.8 885.7 L1287.2 887.7 L1287.6 889.6 L1288.1 891.6 L1288.6 893.5 L1289 895.4 L1289.5 897.4 L1290 899.3 L1290.5 901.3 L1291 903.2 L1291.5 905.2 L1292.1 907.2 L1292.6 909.1 L1293.2 911.1 L1293.7 913 L1294.3 914.9 L1294.9 916.9 L1295.6 918.8 L1296.2 920.7 L1296.9 922.5 L1297.6 924.4 L1298.3 926.2 L1299.1 928 L1299.9 929.8 L1300.8 931.6 L1301.8 933.7 L1302.9 935.9 L1304.1 938.1 L1305.4 940.1 L1306.6 942 L1307.8 943.5 L1309 944.5 L1310.1 945 L1311.1 944.8 L1312 944.1 L1313 942.8 L1313.9 941.2 L1314.8 939.3 L1315.7 937.1 L1316.5 934.7 L1317.4 932.3 L1318.2 930 L1319 927.7 L1319.7 925.6 L1320.5 923.8 L1321.2 921.9 L1321.9 920.1 L1322.5 918.2 L1323.2 916.3 L1323.8 914.4 L1324.4 912.5 L1325 910.6 L1325.6 908.7 L1326.2 906.7 L1326.8 904.8 L1327.4 902.9 L1327.9 901 L1328.5 899 L1329.1 897.1 L1329.7 895.2 L1330.2 893.3 L1330.8 891.4 L1331.4 889.5 L1332.1 887.6 L1332.7 885.7 L1333.3 883.8 L1334 881.9 L1334.7 880 L1335.4 878.1 L1336.1 876.2 L1336.8 874.3 L1337.4 872.3 L1338.1 870.3 L1338.8 868.3 L1339.5 866.4 L1340.2 864.4 L1340.9 862.4 L1341.7 860.5 L1342.5 858.6 L1343.3 856.7 L1344.1 854.9 L1344.9 853.1 L1345.8 851.4 L1346.8 849.7 L1347.8 848.1 L1348.8 846.6 L1349.9 845.1 L1351.1 843.7 L1352.5 842.2 L1354.1 840.6 L1355.8 839.1 L1357.5 837.7 L1359.3 836.5 L1361.2 835.4 L1362.9 834.7 L1364.6 834.3 L1366.1 834.4 L1367.7 834.9 L1369.4 835.8 L1371 837 L1372.6 838.5 L1374.1 840.1 L1375.6 841.9 L1377 843.7 L1378.3 845.5 L1379.5 847.2 L1380.5 848.8 L1381.5 850.4 L1382.4 852.1 L1383.2 853.8 L1384 855.6 L1384.8 857.4 L1385.6 859.3 L1386.3 861.2 L1387 863.1 L1387.6 865.1 L1388.3 867 L1388.9 869 L1389.6 870.9 L1390.2 872.9 L1390.9 874.9 L1391.5 876.8 L1392.1 878.7 L1392.8 880.6 L1393.5 882.5 L1394.1 884.4 L1394.7 886.3 L1395.3 888.2 L1395.9 890.1 L1396.5 892 L1397.1 894 L1397.6 895.9 L1398.2 897.8 L1398.8 899.7 L1399.3 901.7 L1399.9 903.6 L1400.4 905.6 L1401 907.5 L1401.5 909.4 L1402.1 911.3 L1402.6 913.3 L1403.2 915.2 L1403.8 917.1 L1404.4 919 L1405 920.9 L1405.6 922.8 L1406.2 924.7 L1406.9 926.6 L1407.5 928.5 L1408.2 930.3 L1408.9 932.2 L1409.6 934 L1410.4 935.9 L1411.1 937.9 L1412 940.1 L1412.8 942.3 L1413.7 944.7 L1414.6 947 L1415.6 949.4 L1416.5 951.7 L1417.5 953.9 L1418.5 955.9 L1419.4 957.8 L1420.4 959.4 L1421.4 960.8 L1422.4 961.9 L1423.4 962.6 L1424.3 963 L1425.2 962.9 L1426.2 962.3 L1427.2 961.3 L1428.1 959.9 L1429.1 958.2 L1430.1 956.2 L1431 954.1 L1432 951.8 L1432.9 949.5 L1433.9 947.1 L1434.8 944.9 L1435.8 942.7 L1436.7 940.7 L1437.6 938.9 L1438.4 937.1 L1439.3 935.3 L1440.1 933.5 L1441 931.7 L1441.8 929.9 L1442.7 928 L1443.5 926.2 L1444.3 924.4 L1445.1 922.6 L1445.9 920.7 L1446.7 918.9 L1447.6 917.1 L1448.4 915.2 L1449.2 913.4 L1450 911.6 L1450.8 909.8 L1451.6 907.9 L1452.4 906 L1453.1 904 L1453.8 902.1 L1454.5 900.1 L1455.2 898.1 L1456 896.1 L1456.7 894.1 L1457.4 892.2 L1458.2 890.3 L1458.9 888.4 L1459.7 886.6 L1460.6 884.8 L1461.5 883.1 L1462.5 881.5 L1463.5 880 L1464.6 878.5 L1465.8 877.2 L1467.2 875.7 L1468.9 874.2 L1470.6 872.8 L1472.5 871.5 L1474.3 870.5 L1476.1 869.8 L1477.7 869.5 L1479.2 869.7 L1480.7 870.3 L1482.2 871.3 L1483.7 872.7 L1485.2 874.2 L1486.6 876 L1488 877.9 L1489.3 879.9 L1490.5 881.8 L1491.6 883.7 L1492.7 885.5 L1493.7 887.1 L1494.6 888.8 L1495.5 890.5 L1496.3 892.3 L1497.1 894.1 L1497.9 895.9 L1498.7 897.7 L1499.4 899.6 L1500.1 901.5 L1500.8 903.4 L1501.5 905.3 L1502.2 907.2 L1502.8 909.1 L1503.5 911.1 L1504.1 913 L1504.8 915 L1505.4 916.9 L1506 918.8 L1506.7 920.8 L1507.3 922.7 L1508 924.6 L1508.7 926.5 L1509.3 928.4 L1510 930.2 L1510.6 932.1 L1511.3 934 L1511.9 935.9 L1512.5 937.8 L1513.2 939.7 L1513.8 941.6 L1514.4 943.6 L1515 945.5 L1515.6 947.4 L1516.2 949.3 L1516.8 951.2 L1517.4 953.1 L1518 955 L1518.6 956.9 L1519.3 958.8 L1519.9 960.7 L1520.5 962.6 L1521.2 964.5 L1521.8 966.4 L1522.5 968.3 L1523.2 970.1 L1523.9 972 L1524.6 973.9 L1525.3 975.8 L1526 977.8 L1526.8 979.9 L1527.5 982.2 L1528.3 984.5 L1529.1 986.9 L1529.9 989.4 L1530.7 991.8 L1531.6 994.2 L1532.4 996.5 L1533.2 998.7 L1534.1 1000.8 L1534.9 1002.7 L1535.8 1004.4 L1536.7 1005.9 L1537.5 1007.1 L1538.4 1008.1 L1539.3 1008.7 L1540.2 1009 L1541.1 1008.9 L1542 1008.3 L1542.9 1007.3 L1543.9 1005.9 L1544.8 1004.2 L1545.8 1002.3 L1546.8 1000.2 L1547.7 997.9 L1548.7 995.6 L1549.7 993.2 L1550.6 990.9 L1551.5 988.7 L1552.3 986.6 L1553.1 984.7 L1553.9 982.8 L1554.7 981 L1555.4 979.2 L1556.2 977.3 L1556.9 975.4 L1557.6 973.6 L1558.3 971.7 L1558.9 969.8 L1559.6 967.9 L1560.2 966 L1560.9 964.1 L1561.5 962.2 L1562.2 960.3 L1562.8 958.4 L1563.5 956.5 L1564.2 954.6 L1564.8 952.7 L1565.5 950.8 L1566.2 949 L1566.9 947.1 L1567.6 945.2 L1568.4 943.4 L1569.2 941.5 L1570 939.7 L1570.7 937.8 L1571.5 935.9 L1572.3 933.9 L1573 931.9 L1573.8 929.9 L1574.6 928 L1575.4 926 L1576.2 924.1 L1577.1 922.1 L1578 920.3 L1578.9 918.5 L1579.9 916.8 L1580.9 915.1 L1581.9 913.6 L1583 912.1 L1584.2 910.8 L1585.5 909.6 L1587 908.3 L1588.7 907 L1590.5 905.8 L1592.5 904.7 L1594.4 903.8 L1596.3 903.2 L1598 902.9 L1599.6 903.1 L1601.2 903.7 L1602.7 904.7 L1604.3 906 L1605.8 907.6 L1607.2 909.3 L1608.6 911.2 L1609.9 913.1 L1611.2 915 L1612.3 916.8 L1613.3 918.4 L1614.2 920.1 L1615.1 921.8 L1616 923.5 L1616.8 925.3 L1617.6 927.1 L1618.3 928.9 L1619.1 930.8 L1619.8 932.7 L1620.4 934.6 L1621.1 936.5 L1621.8 938.4 L1622.4 940.4 L1623 942.4 L1623.6 944.3 L1624.2 946.3 L1624.8 948.2 L1625.4 950.2 L1626 952.1 L1626.6 954.1 L1627.2 956 L1627.8 957.9 L1628.4 959.8 L1629 961.7 L1629.6 963.6 L1630.1 965.5 L1630.7 967.5 L1631.2 969.4 L1631.7 971.3 L1632.3 973.2 L1632.8 975.2 L1633.3 977.1 L1633.8 979.1 L1634.3 981 L1634.8 983 L1635.3 984.9 L1635.7 986.8 L1636.2 988.8 L1636.7 990.7 L1637.2 992.7 L1637.7 994.6 L1638.2 996.6 L1638.7 998.5 L1639.2 1000.4 L1639.8 1002.4 L1640.3 1004.3 L1640.8 1006.2 L1641.4 1008.1 L1641.9 1010.1 L1642.5 1012 L1643 1013.9 L1643.6 1015.8 L1644.2 1017.7 L1644.9 1019.6 L1645.5 1021.5 L1646.1 1023.6 L1646.8 1025.8 L1647.5 1028.1 L1648.1 1030.4 L1648.8 1032.9 L1649.5 1035.3 L1650.3 1037.8 L1651 1040.2 L1651.7 1042.7 L1652.5 1045.1 L1653.2 1047.4 L1654 1049.6 L1654.7 1051.7 L1655.5 1053.7 L1656.3 1055.5 L1657.1 1057.1 L1657.9 1058.6 L1658.7 1059.8 L1659.6 1060.7 L1660.4 1061.5 L1661.3 1061.9 L1662.1 1062 L1663 1061.8 L1663.9 1061.2 L1664.9 1060.3 L1665.8 1059.2 L1666.9 1057.8 L1667.9 1056.2 L1668.9 1054.3 L1670 1052.4 L1671 1050.3 L1672.1 1048.1 L1673.1 1045.8 L1674.2 1043.5 L1675.2 1041.1 L1676.2 1038.8 L1677.1 1036.6 L1678.1 1034.4 L1679 1032.4 L1679.8 1030.4 L1680.6 1028.6 L1681.4 1026.8 L1682.1 1024.9 L1682.9 1023 L1683.5 1021.1 L1684.2 1019.2 L1684.9 1017.3 L1685.5 1015.4 L1686.1 1013.4 L1686.7 1011.5 L1687.3 1009.5 L1687.9 1007.6 L1688.5 1005.6 L1689.1 1003.6 L1689.7 1001.7 L1690.3 999.7 L1690.9 997.8 L1691.5 995.8 L1692.1 993.9 L1692.7 992 L1693.4 990.1 L1694.1 988.2 L1694.8 986.4 L1695.5 984.6 L1696.2 982.8 L1697 981 L1697.8 979.2 L1698.7 977.5 L1699.5 975.8 L1700.5 974.2 L1701.5 972.4 L1702.6 970.5 L1703.8 968.6 L1705 966.6 L1706.3 964.6 L1707.7 962.6 L1709 960.7 L1710.5 958.8 L1711.9 956.9 L1713.4 955.2 L1714.8 953.5 L1716.3 952.1 L1717.8 950.7 L1719.2 949.6 L1720.6 948.7 L1722 948 L1723.3 947.6 L1724.6 947.5 L1725.9 947.7 L1727.2 948.2 L1728.5 949.1 L1729.8 950.2 L1731.1 951.5 L1732.4 953 L1733.7 954.8 L1735 956.6 L1736.2 958.6 L1737.5 960.7 L1738.7 962.8 L1739.9 964.9 L1741 967 L1742.1 969.1 L1743.1 971.2 L1744 973.1 L1744.9 974.9 L1745.8 976.6 L1746.6 978.4 L1747.4 980.1 L1748.2 981.9 L1749 983.7 L1749.7 985.5 L1750.4 987.4 L1751.1 989.2 L1751.8 991.1 L1752.4 992.9 L1753.1 994.8 L1753.7 996.7 L1754.3 998.6 L1754.9 1000.5 L1755.5 1002.4 L1756.1 1004.3 L1756.7 1006.3 L1757.3 1008.2 L1757.8 1010.2 L1758.4 1012.1 L1758.9 1014.1 L1759.5 1016 L1760 1018 L1760.6 1019.9 L1761.1 1021.9 L1761.7 1023.9 L1762.2 1025.8 L1762.8 1027.8 L1763.4 1029.7 L1763.9 1031.7 L1764.5 1033.6 L1765.1 1035.5 L1765.7 1037.5 L1766.3 1039.4 L1766.9 1041.3 L1767.6 1043.2 L1768.2 1045.1 L1768.9 1047 L1769.6 1048.9 L1770.3 1050.8 L1771 1052.7 L1771.7 1054.8 L1772.4 1056.9 L1773.2 1059.1 L1773.9 1061.4 L1774.6 1063.8 L1775.4 1066.1 L1776.1 1068.5 L1776.9 1071 L1777.6 1073.4 L1778.4 1075.9 L1779.2 1078.3 L1779.9 1080.7 L1780.7 1083.1 L1781.5 1085.5 L1782.3 1087.8 L1783.1 1090.1 L1783.9 1092.2 L1784.7 1094.4 L1785.5 1096.4 L1786.3 1098.3 L1787.1 1100.1 L1787.9 1101.8 L1788.8 1103.4 L1789.6 1104.8 L1790.4 1106.1 L1791.3 1107.2 L1792.1 1108.1 L1793 1108.9 L1793.8 1109.5 L1794.7 1109.8 L1795.6 1110 L1796.5 1109.9 L1797.4 1109.5 L1798.3 1108.8 L1799.3 1107.8 L1800.2 1106.5 L1801.2 1105.1 L1802.2 1103.4 L1803.2 1101.6 L1804.2 1099.6 L1805.2 1097.5 L1806.3 1095.3 L1807.3 1093 L1808.3 1090.7 L1809.3 1088.4 L1810.2 1086 L1811.2 1083.7 L1812.1 1081.5 L1813.1 1079.3 L1814 1077.3 L1814.8 1075.4 L1815.7 1073.6 L1816.5 1071.7 L1817.2 1069.9 L1818 1068 L1818.7 1066.1 L1819.4 1064.2 L1820.1 1062.2 L1820.8 1060.3 L1821.4 1058.4 L1822.1 1056.4 L1822.7 1054.5 L1823.4 1052.5 L1824 1050.6 L1824.7 1048.6 L1825.3 1046.7 L1826 1044.8 L1826.7 1042.9 L1827.4 1041 L1828.1 1039.1 L1828.8 1037.3 L1829.6 1035.5 L1830.4 1033.7 L1831.2 1031.9 L1832.1 1030.2 L1833 1028.5 L1833.9 1026.8 L1834.9 1025.2 L1835.9 1023.6 L1837.1 1021.8 L1838.4 1019.9 L1839.7 1018 L1841.1 1016.1 L1842.6 1014.3 L1844.1 1012.5 L1845.6 1010.9 L1847.2 1009.5 L1848.7 1008.3 L1850.2 1007.3 L1851.7 1006.7 L1853.1 1006.4 L1854.5 1006.5 L1855.9 1006.9 L1857.4 1007.6 L1858.8 1008.6 L1860.3 1009.8 L1861.7 1011.3 L1863.2 1012.9 L1864.6 1014.6 L1866.1 1016.4 L1867.4 1018.3 L1868.8 1020.3 L1870.1 1022.3 L1871.4 1024.2 L1872.6 1026.1 L1873.7 1027.9 L1874.8 1029.7 L1875.8 1031.3 L1876.8 1032.9 L1877.7 1034.6 L1878.6 1036.4 L1879.5 1038.1 L1880.3 1039.9 L1881.1 1041.6 L1881.9 1043.5 L1882.7 1045.3 L1883.5 1047.1 L1884.2 1049 L1884.9 1050.9 L1885.6 1052.8 L1886.3 1054.7 L1887 1056.6 L1887.7 1058.5 L1888.4 1060.4 L1889.1 1062.3 L1889.7 1064.2 L1890.4 1066.2 L1891.1 1068.1 L1891.8 1070 L1892.5 1071.9 L1893.2 1073.9 L1893.9 1075.8 L1894.6 1077.7 L1895.4 1079.5 L1896.1 1081.4 L1896.9 1083.3 L1897.7 1085.1 L1898.5 1086.9 L1899.4 1088.7 L1900.3 1090.5 L1901.1 1092.4 L1902.1 1094.3 L1903 1096.4 L1903.9 1098.5 L1904.8 1100.6 L1905.8 1102.9 L1906.8 1105.1 L1907.7 1107.4 L1908.7 1109.7 L1909.7 1111.9 L1910.7 1114.2 L1911.7 1116.5 L1912.7 1118.7 L1913.8 1120.9 L1914.8 1123 L1915.9 1125 L1916.9 1127 L1918 1128.9 L1919 1130.6 L1920.1 1132.3 L1921.2 1133.8 L1922.3 1135.2 L1923.4 1136.4 L1924.5 1137.5 L1925.6 1138.4 L1926.8 1139.1 L1927.9 1139.6 L1929 1139.9 L1930.2 1140 L1931.3 1139.8 L1932.5 1139.2 L1933.7 1138.3 L1935 1137.1 L1936.2 1135.7 L1937.5 1134.1 L1938.8 1132.4 L1940.1 1130.5 L1941.4 1128.5 L1942.7 1126.4 L1944 1124.3 L1945.2 1122.3 L1946.5 1120.2 L1947.7 1118.3 L1949 1116.5 L1950.1 1114.8 L1951.3 1113.2 L1952.4 1111.5 L1953.5 1109.8 L1954.6 1108 L1955.6 1106.3 L1956.7 1104.5 L1957.7 1102.7 L1958.7 1101 L1959.8 1099.2 L1960.8 1097.5 L1961.9 1095.7 L1962.9 1094 L1964 1092.4 L1965.2 1090.8 L1966.3 1089.2 L1967.6 1087.7 L1968.8 1086.2 L1970.1 1084.9 L1971.5 1083.4 L1973 1081.9 L1974.6 1080.4 L1976.2 1078.8 L1977.9 1077.3 L1979.6 1075.9 L1981.4 1074.6 L1983.1 1073.5 L1984.8 1072.6 L1986.5 1071.9 L1988.1 1071.6 L1989.7 1071.5 L1991.3 1071.9 L1992.8 1072.5 L1994.4 1073.4 L1996 1074.5 L1997.6 1075.8 L1999.1 1077.3 L2000.7 1078.9 L2002.2 1080.6 L2003.7 1082.4 L2005.1 1084.2 L2006.5 1085.9 L2007.9 1087.6 L2009.3 1089.2 L2010.6 1090.7 L2011.8 1092.2 L2013.1 1093.7 L2014.2 1095.3 L2015.4 1097 L2016.5 1098.6 L2017.6 1100.3 L2018.7 1102 L2019.7 1103.8 L2020.7 1105.6 L2021.8 1107.3 L2022.8 1109.1 L2023.8 1110.9 L2024.8 1112.7 L2025.8 1114.5 L2026.8 1116.3 L2027.8 1118.1 L2028.9 1119.8 L2029.9 1121.5 L2031 1123.3 L2032.1 1124.9 L2033.2 1126.6 L2034.3 1128.2 L2035.5 1129.8 L2036.7 1131.3 L2037.9 1132.8 L2039.2 1134.2 L2040.6 1135.6 L2041.9 1137 L2043.4 1138.5 L2044.9 1140.1 L2046.4 1141.6 L2048 1143.2 L2049.6 1144.8 L2051.3 1146.2 L2053 1147.7 L2054.7 1149 L2056.4 1150.2 L2058.1 1151.2 L2059.8 1152.1 L2061.5 1152.8 L2063.2 1153.3 L2064.9 1153.5 L2066.6 1153.4 L2068.3 1153.1 L2070 1152.6 L2071.8 1151.9 L2073.5 1150.9 L2075.2 1149.9 L2077 1148.7 L2078.8 1147.5 L2080.5 1146.2 L2082.3 1145 L2084.1 1143.7 L2085.9 1142.5 L2087.6 1141.3 L2089.4 1140.3 L2091.2 1139.4 L2093 1138.4 L2094.8 1137.3 L2096.5 1136.2 L2098.3 1135.1 L2100.1 1134 L2101.9 1132.8 L2103.7 1131.7 L2105.5 1130.6 L2107.3 1129.5 L2109.1 1128.5 L2110.9 1127.6 L2112.7 1126.7 L2114.6 1126 L2116.4 1125.3 L2118.2 1124.8 L2120 1124.4 L2121.9 1124.2 L2123.7 1124.1 L2125.6 1124.2 L2127.5 1124.5 L2129.4 1124.9 L2131.2 1125.4 L2133.1 1126 L2135 1126.8 L2136.9 1127.5 L2138.9 1128.4 L2140.8 1129.2 L2142.7 1130 L2144.6 1130.9 L2146.5 1131.7 L2148.4 1132.4 L2150.3 1133.1 L2152.2 1133.8 L2154.1 1134.4 L2156 1135.1 L2157.8 1135.8 L2159.7 1136.4 L2161.6 1137.1 L2163.5 1137.8 L2165.4 1138.5 L2167.3 1139.1 L2169.2 1139.8 L2171 1140.4 L2172.9 1141.1 L2174.8 1141.7 L2176.7 1142.3 L2178.6 1142.9 L2180.6 1143.5 L2182.5 1144 L2184.4 1144.6 L2186.3 1145.2 L2188.2 1145.7 L2190.2 1146.3 L2192.1 1146.8 L2194 1147.4 L2195.9 1147.9 L2197.9 1148.4 L2199.8 1149 L2201.7 1149.5 L2203.7 1150 L2205.6 1150.5 L2207.6 1151 L2209.5 1151.4 L2211.4 1151.9 L2213.4 1152.4 L2215.3 1152.8 L2217.3 1153.3 L2219.2 1153.7 L2221.2 1154.2 L2223.1 1154.6 L2225.1 1155 L2227.1 1155.4 L2229 1155.8 L2231 1156.2 L2232.9 1156.6 L2234.9 1157 L2236.9 1157.4 L2238.8 1157.8 L2240.8 1158.2 L2242.8 1158.6 L2244.7 1158.9 L2246.7 1159.3 L2248.7 1159.6 L2250.7 1159.9 L2252.6 1160.1 L2254.6 1160.4 L2256.6 1160.6 L2258.6 1160.8 L2260.6 1161 L2262.6 1161.2 L2264.6 1161.3 L2266.6 1161.5 L2268.6 1161.7 L2270.6 1161.8 L2272.6 1162 L2274.6 1162.1 L2276.6 1162.2 L2278.6 1162.3 L2280.6 1162.4 L2282.6 1162.4 L2284.5 1162.4 L2286.5 1162.3 L2288.5 1162.1 L2290.5 1161.9 L2292.4 1161.6 L2294.4 1161.2 L2296.4 1160.8 L2298.4 1160.4 L2300.3 1160 L2302.3 1159.6 L2304.3 1159.1 L2306.2 1158.7 L2308.2 1158.3 L2310.2 1158 L2312.1 1157.6 L2314.1 1157.3 L2316.1 1156.9 L2318.1 1156.6 L2320 1156.2 L2322 1155.8 L2324 1155.5 L2325.9 1155.1 L2327.9 1154.7 L2329.8 1154.4 L2331.8 1154 L2333.8 1153.6 L2335.7 1153.2 L2337.7 1152.8 L2339.7 1152.5 L2341.6 1152.1 L2342 1152"/>
<path stroke="#f00" d="M465.6 786 L465.6 784 L465.6 782 L465.6 780 L465.6 778 L465.6 776 L465.6 774 L465.7 772 L465.7 770 L465.7 768 L465.7 766 L465.7 764 L465.7 762 L465.7 760 L465.7 758 L465.7 756 L465.7 754 L465.7 752 L465.7 750 L465.8 748 L465.8 746 L465.8 744 L465.8 742 L465.8 740 L465.8 738 L465.8 736 L465.8 734 L465.8 732 L465.8 730 L465.9 728 L465.9 726 L465.9 724 L465.9 722 L465.9 720 L465.9 718 L465.9 716 L465.9 714 L465.9 712 L466 710 L466 708 L466 706 L466 704 L466 702 L466 700 L466 698 L466 696 L466 694 L466.1 692 L466.1 690 L466.1 688 L466.1 686 L466.1 684 L466.1 682 L466.1 680 L466.1 678 L466.2 676 L466.2 674 L466.2 672 L466.2 670 L466.2 668 L466.2 666 L466.2 664 L466.3 662 L466.3 660 L466.3 658 L466.3 656 L466.3 654 L466.3 652 L466.4 650 L466.4 648 L466.4 646 L466.4 644 L466.4 642 L466.5 640 L466.5 638 L466.5 636 L466.5 634 L466.6 632 L466.6 630 L466.6 628 L466.7 626 L466.7 624 L466.7 622 L466.8 620 L466.8 618 L466.8 616 L466.9 614 L466.9 612 L466.9 610 L467 608 L467 606 L467.1 604 L467.1 602 L467.2 600 L467.2 598 L467.3 596 L467.3 594 L467.4 592 L467.4 590 L467.5 588 L467.5 586 L467.6 584 L467.6 582 L467.7 580 L467.8 578 L467.8 576 L467.9 574 L468 572 L468 570 L468.1 568 L468.2 566 L468.2 564 L468.3 562 L468.4 560 L468.5 558 L468.6 556 L468.7 554 L468.8 552 L469 550 L469.1 548.1 L469.3 546.1 L469.5 544.1 L469.7 542.1 L469.9 540.1 L470.1 538.1 L470.3 536.1 L470.5 534.1 L470.7 532.1 L470.9 530.1 L471.2 528.1 L471.4 526.2 L471.6 524.2 L471.8 522.2 L472.1 520.2 L472.4 518.2 L472.7 516.2 L473.1 514.3 L473.4 512.3 L473.7 510.3 L474 508.3 L474.3 506.4 L474.6 504.4 L474.8 502.4 L475.1 500.4 L475.2 498.4 L475.4 496.4 L475.6 494.5 L475.7 492.5 L475.9 490.5 L476 488.5 L476.2 486.5 L476.3 484.5 L476.4 482.5 L476.5 480.5 L476.6 478.5 L476.7 476.5 L476.9 474.5 L477 472.5 L477.1 470.5 L477.2 468.5 L477.3 466.5 L477.5 464.5 L477.6 462.5 L477.7 460.5 L477.9 458.5 L478 456.5 L478.2 454.5 L478.4 452.5 L478.6 450.5 L478.7 448.6 L478.9 446.6 L479.1 444.6 L479.3 442.6 L479.5 440.6 L479.7 438.6 L480 436.6 L480.2 434.6 L480.4 432.6 L480.6 430.6 L480.9 428.7 L481.1 426.7 L481.4 424.7 L481.6 422.7 L481.9 420.7 L482.1 418.7 L482.4 416.7 L482.7 414.8 L483 412.8 L483.2 410.8 L483.5 408.8 L483.8 406.9 L484.1 404.9 L484.4 402.9 L484.7 400.9 L485.1 399 L485.4 397 L485.8 395 L486.1 393 L486.5 391.1 L486.9 389.1 L487.3 387.1 L487.7 385.2 L488.1 383.2 L488.5 381.3 L489 379.3 L489.4 377.4 L489.9 375.4 L490.3 373.5 L490.8 371.5 L491.3 369.6 L491.8 367.7 L492.4 365.8 L492.9 363.9 L493.5 361.9 L494.1 360 L494.7 358.1 L495.3 356.2 L496 354.3 L496.6 352.4 L497.2 350.5 L497.9 348.6 L498.5 346.7 L499.2 344.8 L499.8 342.9 L500.4 341 L501.1 339.1 L501.7 337.2 L502.3 335.3 L502.9 333.4 L503.5 331.5 L504.1 329.6 L504.8 327.7 L505.4 325.8 L506 323.9 L506.6 322 L507.2 320.1 L507.9 318.2 L508.5 316.3 L509.2 314.4 L509.8 312.5 L510.5 310.6 L511.2 308.8 L511.9 306.9 L512.6 305 L513.3 303.1 L514 301.3 L514.7 299.4 L515.5 297.5 L516.2 295.7 L517 293.8 L517.7 292 L518.5 290.1 L519.3 288.3 L520.1 286.5 L520.9 284.6 L521.8 282.8 L522.6 281 L523.5 279.3 L524.4 277.5 L525.4 275.7 L526.3 274 L527.3 272.2 L528.3 270.5 L529.3 268.7 L530.3 267 L531.3 265.3 L532.3 263.5 L533.3 261.8 L534.3 260 L535.2 258.3 L536.2 256.6 L537.2 254.8 L538.2 253.1 L539.1 251.3 L540.1 249.5 L541 247.8 L541.8 246 L542.7 244.1 L543.5 242.3 L544.3 240.4 L545 238.6 L545.8 236.7 L546.6 234.9 L547.5 233.1 L548.3 231.3 L549.2 229.5 L550.1 227.8 L551.1 226 L552.1 224.3 L553.2 222.6 L554.3 220.9 L555.4 219.2 L556.5 217.6 L557.7 215.9 L558.8 214.3 L560.1 212.7 L561.3 211.1 L562.5 209.6 L563.8 208.1 L565.1 206.6 L566.5 205.1 L567.9 203.6 L569.3 202.2 L570.8 200.8 L572.2 199.5 L573.7 198.1 L575.2 196.8 L576.8 195.6 L578.3 194.3 L579.9 193.1 L581.6 192 L583.2 190.8 L584.9 189.7 L586.5 188.5 L588.2 187.4 L589.8 186.3 L591.4 185.1 L593.1 183.9 L594.7 182.7 L596.3 181.6 L598 180.4 L599.6 179.3 L601.3 178.2 L603 177.2 L604.7 176.2 L606.5 175.3 L608.3 174.4 L610.1 173.5 L611.9 172.6 L613.7 171.8 L615.6 171 L617.5 170.3 L619.4 169.6 L621.2 168.9 L623.1 168.3 L625.1 167.8 L627 167.3 L628.9 166.9 L630.9 166.4 L632.8 166 L634.8 165.6 L636.8 165.3 L638.8 164.9 L640.7 164.6 L642.7 164.3 L644.7 164 L646.7 163.8 L648.7 163.6 L650.7 163.3 L652.6 163.1 L654.6 162.9 L656.6 162.7 L658.6 162.6 L660.6 162.4 L662.6 162.2 L664.6 162.1 L666.6 162 L668.6 161.8 L670.6 161.7 L672.6 161.5 L674.6 161.4 L676.6 161.3 L678.6 161.2 L680.6 161.1 L682.6 161 L684.6 161 L686.6 161 L688.6 161.1 L690.6 161.3 L692.6 161.5 L694.6 161.8 L696.5 162.1 L698.4 162.6 L700.3 163.5 L702.1 164.4 L703.8 165.5 L705.5 166.5 L707.1 167.7 L708.7 169.1 L710 170.5 L711.1 172.1 L712.2 173.9 L713 175.7 L713.8 177.5 L714.5 179.4 L715.1 181.3 L715.7 183.2 L716.3 185.1 L716.8 187.1 L717.3 189 L717.7 191 L718.1 192.9 L718.5 194.9 L718.9 196.9 L719.3 198.8 L719.6 200.8 L720 202.8 L720.3 204.7 L720.6 206.7 L720.9 208.7 L721.1 210.7 L721.4 212.7 L721.7 214.6 L722 216.6 L722.3 218.6 L722.6 220.6 L722.9 222.6 L723.2 224.5 L723.5 226.5 L723.7 228.5 L724 230.5 L724.3 232.5 L724.6 234.4 L724.9 236.4 L725.3 238.4 L725.6 240.3 L726 242.3 L726.4 244.3 L726.8 246.2 L727.2 248.2 L727.6 250.2 L728 252.1 L728.4 254.1 L728.9 256 L729.3 258 L729.7 259.9 L730.2 261.9 L730.6 263.8 L731.1 265.8 L731.5 267.7 L732 269.7 L732.5 271.6 L733 273.5 L733.5 275.5 L734 277.4 L734.5 279.3 L735 281.3 L735.5 283.2 L736.1 285.1 L736.6 287.1 L737.1 289 L737.6 290.9 L738.1 292.9 L738.6 294.8 L739.2 296.7 L739.7 298.7 L740.2 300.6 L740.7 302.5 L741.2 304.5 L741.8 306.4 L742.3 308.3 L742.8 310.3 L743.3 312.2 L743.9 314.1 L744.4 316.1 L744.9 318 L745.4 319.9 L745.9 321.9 L746.5 323.8 L747.1 325.7 L747.7 327.6 L748.3 329.5 L749 331.5 L749.7 333.4 L750.5 335.2 L751.4 336.9 L752.6 338.4 L754.1 339.8 L755.7 341.1 L757.3 342.2 L759.1 343.2 L760.9 344.1 L762.7 345 L764.3 346.1 L765.9 347.4 L767.3 348.8 L768.7 350.2 L769.9 351.8 L771.1 353.4 L772.2 355.1 L773.2 356.8 L774.2 358.6 L775.2 360.3 L776.2 362.1 L777.1 363.9 L777.9 365.7 L778.6 367.5 L779.4 369.4 L780.1 371.3 L780.7 373.2 L781.4 375.1 L781.9 377 L782.5 378.9 L783 380.9 L783.4 382.8 L783.8 384.7 L784.2 386.7 L784.5 388.7 L784.8 390.6 L785.2 392.6 L785.5 394.6 L785.8 396.6 L786.1 398.6 L786.4 400.6 L786.7 402.5 L787 404.5 L787.4 406.5 L787.7 408.5 L788 410.4 L788.3 412.4 L788.7 414.4 L789 416.4 L789.3 418.3 L789.6 420.3 L789.9 422.3 L790.2 424.2 L790.6 426.2 L790.9 428.2 L791.2 430.2 L791.5 432.2 L791.9 434.1 L792.2 436.1 L792.6 438 L793 440 L793.4 442 L793.9 443.9 L794.3 445.9 L794.7 447.8 L795.2 449.8 L795.6 451.7 L796 453.7 L796.4 455.6 L796.8 457.6 L797.2 459.6 L797.6 461.5 L797.9 463.5 L798.3 465.5 L798.6 467.4 L799 469.4 L799.3 471.4 L799.7 473.3 L800 475.3 L800.3 477.3 L800.7 479.3 L801.1 481.2 L801.4 483.2 L801.8 485.2 L802.1 487.1 L802.5 489.1 L802.9 491.1 L803.3 493 L803.7 495 L804.1 496.9 L804.5 498.9 L804.9 500.9 L805.3 502.8 L805.7 504.8 L806.1 506.7 L806.5 508.7 L806.9 510.6 L807.4 512.6 L807.8 514.5 L808.3 516.5 L808.7 518.4 L809.2 520.4 L809.6 522.3 L810.1 524.3 L810.5 526.3 L811 528.2 L811.5 530.1 L812.1 532.1 L812.7 534 L813.3 535.9 L814 538.3 L814.7 540.5 L815.6 541.5 L816.9 540.7 L818.4 538.8 L819.6 537.2 L820.7 535.5 L821.8 533.8 L822.8 532.1 L823.8 530.3 L824.8 528.6 L825.8 526.8 L826.7 525 L827.6 523.2 L828.5 521.4 L829.4 519.6 L830.4 517.9 L831.4 516.1 L832.4 514.4 L833.5 512.8 L834.6 511.2 L835.8 509.4 L837.1 507.6 L838.5 505.8 L839.9 503.9 L841.3 502 L842.8 500.1 L844.3 498.4 L845.8 496.8 L847.3 495.3 L848.8 494.1 L850.3 493 L851.7 492.2 L853.1 491.7 L854.5 491.6 L855.9 491.8 L857.4 492.4 L858.8 493.4 L860.3 494.6 L861.8 496 L863.3 497.7 L864.7 499.5 L866.1 501.4 L867.4 503.4 L868.7 505.4 L869.9 507.4 L871 509.3 L871.9 511.2 L872.8 512.9 L873.6 514.6 L874.3 516.3 L875 518.1 L875.7 519.9 L876.4 521.7 L877 523.6 L877.7 525.5 L878.2 527.4 L878.8 529.4 L879.4 531.3 L879.9 533.3 L880.4 535.3 L880.9 537.3 L881.4 539.3 L881.9 541.3 L882.4 543.3 L882.9 545.3 L883.3 547.3 L883.8 549.2 L884.2 551.2 L884.7 553.2 L885.2 555.2 L885.6 557.1 L886.1 559 L886.5 561 L886.9 562.9 L887.3 564.9 L887.7 566.9 L888.1 568.8 L888.5 570.8 L888.9 572.7 L889.3 574.7 L889.6 576.7 L890 578.6 L890.4 580.6 L890.7 582.6 L891.1 584.6 L891.4 586.5 L891.8 588.5 L892.2 590.5 L892.5 592.4 L892.9 594.4 L893.3 596.4 L893.7 598.3 L894.1 600.3 L894.5 602.2 L894.9 604.2 L895.3 606.2 L895.8 608.1 L896.2 610 L896.7 612 L897.1 614 L897.6 615.9 L898 617.9 L898.5 619.8 L898.9 621.8 L899.4 623.8 L899.9 625.7 L900.4 627.7 L900.9 629.6 L901.4 631.6 L901.9 633.5 L902.5 635.4 L903 637.3 L903.6 639.2 L904.2 641.1 L904.8 643 L905.5 644.9 L906.1 646.7 L906.8 648.7 L907.6 650.8 L908.4 653.1 L909.2 655.4 L910 657.8 L910.9 660.1 L911.9 662.3 L912.8 664.4 L913.8 666.3 L914.9 668 L915.9 669.3 L917 670.3 L918.2 670.9 L919.3 671 L920.6 670.7 L921.9 670 L923.3 669.1 L924.9 667.9 L926.4 666.5 L928 664.9 L929.7 663.2 L931.3 661.5 L932.9 659.8 L934.6 658.2 L936.2 656.6 L937.8 655.2 L939.3 653.8 L940.8 652.3 L942.3 650.7 L943.8 649.1 L945.4 647.4 L946.9 645.7 L948.4 644.1 L949.9 642.7 L951.5 641.4 L953 640.3 L954.6 639.5 L956.2 639 L957.9 638.8 L959.6 639 L961.4 639.5 L963.3 640.2 L965.2 641.1 L967.1 642.2 L968.9 643.4 L970.7 644.6 L972.4 645.9 L974 647.2 L975.4 648.4 L976.8 649.6 L978.1 651 L979.3 652.5 L980.6 654 L981.8 655.7 L982.9 657.3 L984 659.1 L985.1 660.9 L986.2 662.7 L987.2 664.5 L988.2 666.3 L989.1 668.1 L990.1 670 L991 671.7 L991.9 673.5 L992.7 675.3 L993.5 677.1 L994.3 678.9 L995.1 680.7 L995.9 682.6 L996.6 684.4 L997.3 686.3 L998.1 688.2 L998.8 690.1 L999.5 692 L1000.1 693.9 L1000.8 695.8 L1001.5 697.7 L1002.2 699.6 L1002.8 701.4 L1003.5 703.3 L1004.2 705.2 L1004.9 707.1 L1005.5 709 L1006.1 710.9 L1006.8 712.8 L1007.4 714.7 L1008 716.6 L1008.6 718.5 L1009.2 720.4 L1009.8 722.3 L1010.4 724.2 L1011.1 726.1 L1011.7 728 L1012.3 729.9 L1012.9 731.8 L1013.5 733.7 L1014.2 735.6 L1014.8 737.5 L1015.5 739.4 L1016.1 741.3 L1016.8 743.2 L1017.5 745.1 L1018.1 747 L1018.7 748.9 L1019.4 750.8 L1020 752.8 L1020.7 754.7 L1021.4 756.6 L1022 758.5 L1022.7 760.4 L1023.4 762.3 L1024.1 764.2 L1024.9 766 L1025.6 767.8 L1026.4 769.7 L1027.3 771.4 L1028.1 773.2 L1029 774.9 L1030 776.6 L1031 778.4 L1032.1 780.1 L1033.2 781.9 L1034.3 783.7 L1035.6 785.4 L1036.8 787.1 L1038.1 788.7 L1039.5 790.2 L1040.9 791.6 L1042.3 792.9 L1043.7 794.1 L1045.3 795.2 L1046.9 796.2 L1048.6 797.2 L1050.5 798.2 L1052.4 799.1 L1054.3 799.9 L1056.3 800.5 L1058.3 800.9 L1060.2 801 L1062.1 800.9 L1064 800.6 L1065.9 800.1 L1067.8 799.6 L1069.7 798.9 L1071.7 798.2 L1073.6 797.4 L1075.5 796.7 L1077.4 795.9 L1079.3 795.2 L1081.2 794.6 L1083.1 793.8 L1085.1 792.9 L1087 792 L1088.9 791.1 L1090.8 790.2 L1092.7 789.3 L1094.6 788.5 L1096.4 787.9 L1098.3 787.4 L1100 787.1 L1101.8 787 L1103.5 787.4 L1105.3 788.1 L1107 789.2 L1108.7 790.6 L1110.3 792.1 L1111.9 793.6 L1113.3 795.2 L1114.7 796.7 L1116 798.1 L1117.2 799.6 L1118.5 801.1 L1119.6 802.7 L1120.8 804.3 L1121.9 806 L1122.9 807.8 L1124 809.5 L1125 811.3 L1126 813.1 L1126.9 814.9 L1127.9 816.8 L1128.8 818.6 L1129.7 820.4 L1130.5 822.2 L1131.4 823.9 L1132.2 825.7 L1133 827.6 L1133.8 829.4 L1134.5 831.2 L1135.3 833.1 L1136 834.9 L1136.8 836.8 L1137.5 838.6 L1138.2 840.5 L1138.9 842.4 L1139.5 844.3 L1140.2 846.2 L1140.9 848.1 L1141.5 850 L1142.2 851.9 L1142.8 853.8 L1143.4 855.7 L1144.1 857.6 L1144.7 859.5 L1145.4 861.4 L1146 863.3 L1146.6 865.2 L1147.3 867.1 L1147.9 869 L1148.6 870.9 L1149.2 872.8 L1149.8 874.7 L1150.4 876.6 L1151 878.5 L1151.6 880.4 L1152.2 882.3 L1152.8 884.3 L1153.4 886.2 L1154 888.1 L1154.6 890 L1155.2 891.9 L1155.8 893.8 L1156.4 895.7 L1156.9 897.6 L1157.5 899.6 L1158.1 901.5 L1158.7 903.4 L1159.3 905.3 L1159.9 907.2 L1160.5 909.1 L1161.2 911 L1161.8 912.9 L1162.4 914.8 L1163 916.7 L1163.6 918.6 L1164.2 920.5 L1164.8 922.5 L1165.4 924.4 L1166 926.3 L1166.6 928.2 L1167.2 930.1 L1167.8 932 L1168.5 933.9 L1169.1 935.8 L1169.7 937.7 L1170.4 939.6 L1171 941.5 L1171.7 943.4 L1172.4 945.2 L1173.1 947.1 L1173.8 949 L1174.5 950.8 L1175.3 952.7 L1176 954.7 L1176.8 956.9 L1177.6 959.3 L1178.5 961.6 L1179.3 964 L1180.2 966.3 L1181.1 968.5 L1182 970.6 L1182.9 972.4 L1183.9 973.9 L1184.8 975 L1185.8 975.7 L1186.8 976 L1187.8 975.7 L1188.9 975 L1190 973.8 L1191.2 972.3 L1192.4 970.5 L1193.6 968.5 L1194.8 966.4 L1196 964.2 L1197.2 962.1 L1198.3 960 L1199.4 958 L1200.4 956.3 L1201.4 954.6 L1202.4 952.8 L1203.3 951 L1204.2 949.3 L1205.1 947.5 L1206 945.7 L1206.9 943.9 L1207.7 942.1 L1208.6 940.2 L1209.4 938.4 L1210.3 936.6 L1211.2 934.8 L1212 933 L1212.9 931.2 L1213.8 929.4 L1214.7 927.6 L1215.7 925.9 L1216.7 924.1 L1217.6 922.1 L1218.5 920 L1219.5 917.8 L1220.4 915.6 L1221.4 913.3 L1222.3 911.1 L1223.3 908.8 L1224.3 906.6 L1225.3 904.5 L1226.3 902.5 L1227.3 900.6 L1228.4 898.9 L1229.5 897.4 L1230.6 896.2 L1231.7 895.2 L1232.9 894.5 L1234.2 894.1 L1235.5 894 L1237 894.4 L1238.6 895.1 L1240.3 896.2 L1242.1 897.5 L1243.9 898.9 L1245.7 900.5 L1247.3 902.1 L1248.8 903.6 L1250.1 905.1 L1251.2 906.5 L1252.3 908.1 L1253.4 909.7 L1254.4 911.3 L1255.3 913.1 L1256.3 914.8 L1257.2 916.7 L1258 918.5 L1258.9 920.4 L1259.7 922.3 L1260.5 924.3 L1261.2 926.2 L1262 928.1 L1262.7 930 L1263.5 931.9 L1264.2 933.8 L1264.9 935.7 L1265.6 937.5 L1266.3 939.4 L1267 941.3 L1267.6 943.2 L1268.2 945 L1268.9 946.9 L1269.5 948.8 L1270.1 950.7 L1270.7 952.7 L1271.3 954.6 L1271.9 956.5 L1272.4 958.4 L1273 960.3 L1273.5 962.3 L1274.1 964.2 L1274.6 966.1 L1275.2 968.1 L1275.7 970 L1276.3 971.9 L1276.8 973.9 L1277.4 975.8 L1277.9 977.7 L1278.5 979.6 L1279 981.6 L1279.6 983.5 L1280.1 985.4 L1280.7 987.4 L1281.2 989.3 L1281.7 991.3 L1282.1 993.3 L1282.6 995.2 L1283.1 997.2 L1283.5 999.2 L1284 1001.2 L1284.5 1003.2 L1285 1005.1 L1285.5 1007.1 L1286.1 1009 L1286.6 1010.9 L1287.3 1012.7 L1287.9 1014.5 L1288.6 1016.3 L1289.4 1018.1 L1290.3 1020 L1291.4 1022.1 L1292.5 1024.3 L1293.8 1026.4 L1295.1 1028.4 L1296.4 1030.2 L1297.7 1031.8 L1299 1033 L1300.3 1033.7 L1301.5 1034 L1302.7 1033.7 L1303.9 1033 L1305.1 1031.8 L1306.3 1030.3 L1307.5 1028.5 L1308.6 1026.5 L1309.8 1024.4 L1311 1022.3 L1312.1 1020.1 L1313.2 1018 L1314.3 1016.1 L1315.4 1014.4 L1316.4 1012.7 L1317.4 1010.9 L1318.4 1009.1 L1319.4 1007.3 L1320.3 1005.5 L1321.2 1003.6 L1322.1 1001.8 L1323 999.9 L1323.9 998.1 L1324.8 996.2 L1325.7 994.4 L1326.7 992.6 L1327.6 990.8 L1328.6 989.1 L1329.6 987.4 L1330.6 985.7 L1331.7 984.1 L1332.9 982.6 L1334 981.1 L1335.3 979.7 L1336.6 978.2 L1338.1 976.7 L1339.6 975.1 L1341.2 973.5 L1342.9 972 L1344.6 970.5 L1346.3 969.2 L1348.1 968 L1349.8 967.1 L1351.5 966.4 L1353.1 966.1 L1354.7 966 L1356.2 966.3 L1357.8 967 L1359.4 967.8 L1361 969 L1362.6 970.3 L1364.1 971.8 L1365.7 973.4 L1367.2 975.1 L1368.7 976.9 L1370.1 978.7 L1371.5 980.5 L1372.8 982.2 L1374.1 983.8 L1375.3 985.4 L1376.4 987 L1377.5 988.6 L1378.5 990.2 L1379.5 992 L1380.5 993.7 L1381.4 995.5 L1382.3 997.3 L1383.1 999.2 L1384 1001 L1384.8 1002.9 L1385.7 1004.8 L1386.5 1006.6 L1387.4 1008.5 L1388.3 1010.3 L1389.1 1012.2 L1390.1 1014 L1391 1015.7 L1392 1017.5 L1393 1019.1 L1394.1 1020.8 L1395.3 1022.4 L1396.5 1024.1 L1397.8 1025.9 L1399.1 1027.8 L1400.5 1029.7 L1402 1031.5 L1403.5 1033.2 L1404.9 1034.6 L1406.4 1035.8 L1407.9 1036.6 L1409.3 1037 L1410.7 1036.9 L1412.2 1036.3 L1413.7 1035.4 L1415.2 1034.1 L1416.7 1032.6 L1418.1 1030.9 L1419.6 1029.1 L1421 1027.2 L1422.4 1025.4 L1423.8 1023.6 L1425 1022 L1426.2 1020.4 L1427.4 1018.8 L1428.5 1017.1 L1429.5 1015.3 L1430.5 1013.5 L1431.5 1011.7 L1432.5 1009.9 L1433.4 1008 L1434.4 1006.2 L1435.3 1004.3 L1436.3 1002.5 L1437.2 1000.7 L1438.2 998.9 L1439.3 997.2 L1440.3 995.6 L1441.5 994 L1442.6 992.5 L1443.9 991.1 L1445.2 989.8 L1446.6 988.5 L1448.2 987.1 L1449.9 985.7 L1451.6 984.3 L1453.4 983 L1455.2 981.8 L1457.1 980.8 L1458.9 979.9 L1460.6 979.3 L1462.3 979 L1464 979.1 L1465.6 979.5 L1467.3 980.2 L1469 981.2 L1470.7 982.4 L1472.4 983.8 L1474 985.3 L1475.6 987 L1477.1 988.7 L1478.6 990.4 L1479.9 992.1 L1481.1 993.7 L1482.2 995.3 L1483.2 996.8 L1484.1 998.4 L1485 1000 L1485.9 1001.6 L1486.7 1003.4 L1487.5 1005.1 L1488.3 1006.9 L1489 1008.7 L1489.7 1010.6 L1490.4 1012.4 L1491.1 1014.3 L1491.7 1016.3 L1492.4 1018.2 L1493 1020.2 L1493.6 1022.1 L1494.2 1024.1 L1494.8 1026.1 L1495.4 1028.1 L1496 1030.1 L1496.5 1032.1 L1497.2 1034.1 L1497.8 1036.1 L1498.4 1038.1 L1499 1040.1 L1499.7 1042 L1500.4 1044 L1501.1 1045.9 L1501.8 1047.8 L1502.6 1049.7 L1503.4 1051.5 L1504.2 1053.3 L1505 1055.1 L1505.9 1057 L1506.9 1059 L1507.9 1061.1 L1508.9 1063.3 L1509.9 1065.5 L1510.9 1067.8 L1512 1070 L1513.1 1072.1 L1514.2 1074.1 L1515.4 1076 L1516.5 1077.7 L1517.7 1079.1 L1518.8 1080.3 L1520 1081.2 L1521.2 1081.8 L1522.3 1082 L1523.5 1081.8 L1524.8 1081.2 L1526.1 1080.3 L1527.4 1079 L1528.7 1077.6 L1530.1 1075.9 L1531.4 1074 L1532.8 1072.1 L1534.1 1070 L1535.4 1068 L1536.6 1065.9 L1537.8 1063.9 L1538.9 1061.9 L1539.9 1060.2 L1540.8 1058.5 L1541.7 1056.7 L1542.6 1055 L1543.4 1053.2 L1544.2 1051.3 L1545 1049.5 L1545.7 1047.6 L1546.4 1045.7 L1547.1 1043.8 L1547.7 1041.8 L1548.4 1039.9 L1549 1037.9 L1549.6 1035.9 L1550.3 1034 L1550.9 1032 L1551.5 1030 L1552.1 1028.1 L1552.8 1026.1 L1553.4 1024.2 L1554.1 1022.3 L1554.8 1020.4 L1555.5 1018.5 L1556.2 1016.6 L1557 1014.8 L1557.8 1013 L1558.6 1011.2 L1559.4 1009.5 L1560.3 1007.8 L1561.3 1006.2 L1562.3 1004.5 L1563.4 1002.8 L1564.5 1001 L1565.8 999.2 L1567.1 997.2 L1568.5 995.3 L1569.9 993.5 L1571.4 991.7 L1572.9 990 L1574.4 988.5 L1575.9 987.2 L1577.4 986.1 L1579 985.2 L1580.5 984.7 L1581.9 984.5 L1583.4 984.7 L1585 985.2 L1586.7 986.1 L1588.4 987.2 L1590.1 988.5 L1591.8 990.1 L1593.4 991.7 L1595 993.4 L1596.5 995.2 L1597.8 996.9 L1599 998.6 L1600.1 1000.1 L1601 1001.7 L1601.9 1003.2 L1602.7 1004.9 L1603.5 1006.5 L1604.3 1008.3 L1605.1 1010 L1605.8 1011.8 L1606.5 1013.6 L1607.1 1015.5 L1607.8 1017.3 L1608.4 1019.2 L1609 1021.2 L1609.5 1023.1 L1610.1 1025.1 L1610.7 1027.1 L1611.2 1029.1 L1611.7 1031.1 L1612.3 1033.1 L1612.8 1035.1 L1613.3 1037.2 L1613.8 1039.2 L1614.4 1041.2 L1614.9 1043.2 L1615.4 1045.3 L1616 1047.3 L1616.6 1049.3 L1617.1 1051.2 L1617.7 1053.2 L1618.3 1055.2 L1619 1057.1 L1619.6 1059 L1620.3 1060.9 L1621 1062.8 L1621.6 1064.7 L1622.3 1066.6 L1622.9 1068.6 L1623.6 1070.5 L1624.2 1072.5 L1624.8 1074.5 L1625.5 1076.4 L1626.1 1078.4 L1626.8 1080.4 L1627.4 1082.3 L1628.1 1084.3 L1628.7 1086.2 L1629.4 1088.2 L1630.1 1090.1 L1630.8 1092 L1631.6 1093.9 L1632.3 1095.7 L1633.1 1097.5 L1633.9 1099.3 L1634.8 1101.1 L1635.7 1102.8 L1636.6 1104.5 L1637.5 1106.1 L1638.5 1107.7 L1639.5 1109.3 L1640.6 1110.8 L1641.9 1112.6 L1643.4 1114.4 L1645 1116 L1646.7 1117.5 L1648.3 1118.5 L1649.7 1119 L1651.1 1118.8 L1652.5 1118.2 L1653.8 1117.2 L1655.2 1115.9 L1656.5 1114.3 L1657.8 1112.5 L1659 1110.5 L1660.3 1108.5 L1661.4 1106.4 L1662.6 1104.3 L1663.7 1102.3 L1664.7 1100.5 L1665.7 1098.8 L1666.6 1097.1 L1667.5 1095.3 L1668.4 1093.6 L1669.2 1091.7 L1670 1089.9 L1670.8 1088 L1671.5 1086.2 L1672.2 1084.3 L1672.9 1082.3 L1673.6 1080.4 L1674.3 1078.5 L1675 1076.5 L1675.6 1074.6 L1676.3 1072.6 L1676.9 1070.6 L1677.6 1068.7 L1678.2 1066.7 L1678.9 1064.8 L1679.5 1062.9 L1680.2 1060.9 L1680.9 1059 L1681.6 1057.1 L1682.3 1055.3 L1683.1 1053.4 L1683.9 1051.6 L1684.7 1049.8 L1685.5 1048 L1686.4 1046.3 L1687.3 1044.6 L1688.2 1042.9 L1689.2 1041.3 L1690.2 1039.7 L1691.3 1038 L1692.5 1036.2 L1693.8 1034.3 L1695.2 1032.5 L1696.6 1030.6 L1698.1 1028.8 L1699.6 1027 L1701.1 1025.4 L1702.7 1024 L1704.2 1022.8 L1705.7 1021.9 L1707.2 1021.3 L1708.7 1021 L1710.1 1021.1 L1711.6 1021.6 L1713.1 1022.4 L1714.6 1023.5 L1716.2 1024.8 L1717.7 1026.3 L1719.3 1027.9 L1720.8 1029.7 L1722.2 1031.6 L1723.6 1033.5 L1724.9 1035.4 L1726.2 1037.2 L1727.3 1038.9 L1728.3 1040.5 L1729.3 1042.1 L1730.2 1043.8 L1731.1 1045.4 L1732 1047.2 L1732.9 1048.9 L1733.7 1050.6 L1734.4 1052.4 L1735.2 1054.2 L1735.9 1056.1 L1736.6 1057.9 L1737.3 1059.8 L1738 1061.7 L1738.7 1063.6 L1739.3 1065.5 L1740 1067.5 L1740.6 1069.4 L1741.2 1071.4 L1741.8 1073.3 L1742.4 1075.3 L1743 1077.3 L1743.6 1079.2 L1744.2 1081.2 L1744.8 1083.2 L1745.5 1085.2 L1746.1 1087.1 L1746.7 1089.1 L1747.4 1091 L1748 1093 L1748.7 1094.9 L1749.4 1096.8 L1750.1 1098.7 L1750.8 1100.6 L1751.6 1102.4 L1752.3 1104.3 L1753.1 1106.1 L1754 1107.9 L1754.8 1109.7 L1755.7 1111.5 L1756.6 1113.4 L1757.6 1115.4 L1758.5 1117.5 L1759.5 1119.7 L1760.5 1121.9 L1761.5 1124.1 L1762.6 1126.3 L1763.6 1128.5 L1764.7 1130.7 L1765.8 1132.8 L1766.9 1134.9 L1768 1136.9 L1769.1 1138.8 L1770.3 1140.5 L1771.5 1142.2 L1772.7 1143.6 L1773.9 1144.9 L1775.1 1146 L1776.3 1146.9 L1777.6 1147.5 L1778.8 1147.9 L1780.1 1148 L1781.4 1147.8 L1782.9 1147.2 L1784.4 1146.4 L1785.9 1145.3 L1787.5 1144 L1789.1 1142.5 L1790.7 1140.9 L1792.3 1139.2 L1793.9 1137.4 L1795.4 1135.7 L1796.9 1133.9 L1798.2 1132.2 L1799.5 1130.6 L1800.7 1129 L1801.9 1127.5 L1803 1125.8 L1804 1124.1 L1805 1122.4 L1805.9 1120.5 L1806.9 1118.7 L1807.8 1116.8 L1808.6 1114.9 L1809.5 1113 L1810.3 1111 L1811.2 1109.1 L1812 1107.1 L1812.8 1105.2 L1813.7 1103.3 L1814.5 1101.4 L1815.4 1099.5 L1816.3 1097.7 L1817.2 1095.9 L1818.2 1094.1 L1819.2 1092.5 L1820.2 1090.8 L1821.3 1089.3 L1822.4 1087.8 L1823.6 1086.4 L1824.9 1085.1 L1826.2 1083.9 L1827.7 1082.5 L1829.4 1081.2 L1831.1 1079.8 L1832.9 1078.5 L1834.7 1077.3 L1836.6 1076.3 L1838.5 1075.4 L1840.3 1074.8 L1842.1 1074.5 L1843.8 1074.4 L1845.5 1074.7 L1847.2 1075.4 L1848.9 1076.2 L1850.7 1077.4 L1852.4 1078.6 L1854.1 1080.1 L1855.7 1081.6 L1857.3 1083.1 L1858.9 1084.7 L1860.3 1086.2 L1861.7 1087.7 L1863 1089 L1864.2 1090.5 L1865.4 1091.9 L1866.5 1093.5 L1867.6 1095 L1868.7 1096.7 L1869.8 1098.3 L1870.8 1100 L1871.8 1101.7 L1872.7 1103.5 L1873.7 1105.3 L1874.6 1107.1 L1875.5 1108.9 L1876.4 1110.8 L1877.3 1112.6 L1878.2 1114.5 L1879.1 1116.4 L1880 1118.3 L1880.8 1120.2 L1881.7 1122 L1882.6 1123.9 L1883.5 1125.8 L1884.4 1127.6 L1885.3 1129.5 L1886.3 1131.3 L1887.3 1133.1 L1888.2 1134.8 L1889.2 1136.6 L1890.3 1138.3 L1891.4 1140 L1892.5 1141.6 L1893.6 1143.2 L1894.8 1144.7 L1896 1146.3 L1897.3 1147.9 L1898.6 1149.7 L1899.9 1151.5 L1901.3 1153.3 L1902.7 1155.1 L1904.1 1156.9 L1905.5 1158.7 L1907 1160.4 L1908.5 1162.1 L1910 1163.6 L1911.6 1165 L1913.1 1166.3 L1914.7 1167.4 L1916.2 1168.3 L1917.8 1168.9 L1919.4 1169.3 L1920.9 1169.5 L1922.5 1169.4 L1924.2 1169 L1925.9 1168.4 L1927.6 1167.6 L1929.3 1166.6 L1931.1 1165.5 L1932.9 1164.3 L1934.6 1163 L1936.4 1161.7 L1938.2 1160.3 L1939.9 1158.9 L1941.6 1157.6 L1943.3 1156.3 L1944.9 1155.1 L1946.5 1153.9 L1948 1152.6 L1949.5 1151.2 L1951 1149.8 L1952.5 1148.3 L1953.9 1146.8 L1955.3 1145.3 L1956.8 1143.8 L1958.2 1142.4 L1959.7 1141 L1961.2 1139.6 L1962.7 1138.4 L1964.2 1137.2 L1965.8 1136.2 L1967.5 1135.2 L1969.2 1134.4 L1971 1133.6 L1972.9 1132.8 L1974.9 1132 L1976.9 1131.3 L1978.8 1130.7 L1980.8 1130.3 L1982.7 1130.1 L1984.6 1130 L1986.5 1130.2 L1988.4 1130.6 L1990.3 1131.3 L1992.2 1132 L1994.1 1133 L1995.9 1134 L1997.7 1135.1 L1999.5 1136.2 L2001.3 1137.4 L2002.9 1138.5 L2004.5 1139.7 L2006 1140.8 L2007.5 1142 L2008.9 1143.3 L2010.3 1144.8 L2011.6 1146.3 L2012.8 1147.9 L2014.1 1149.6 L2015.3 1151.4 L2016.5 1153.1 L2017.6 1154.9 L2018.8 1156.7 L2020 1158.5 L2021.1 1160.3 L2022.3 1162.1 L2023.5 1163.8 L2024.7 1165.5 L2025.9 1167.1 L2027.2 1168.6 L2028.5 1170.1 L2029.9 1171.4 L2031.3 1172.6 L2032.8 1173.6 L2034.3 1174.6 L2035.9 1175.5 L2037.6 1176.3 L2039.3 1177.2 L2041.1 1178.1 L2043 1179 L2044.9 1179.8 L2046.8 1180.6 L2048.8 1181.4 L2050.8 1182.1 L2052.8 1182.7 L2054.8 1183.3 L2056.8 1183.7 L2058.8 1184.1 L2060.8 1184.4 L2062.8 1184.6 L2064.7 1184.7 L2066.7 1184.6 L2068.6 1184.5 L2070.6 1184.2 L2072.5 1183.8 L2074.5 1183.3 L2076.5 1182.8 L2078.4 1182.3 L2080.4 1181.8 L2082.4 1181.2 L2084.3 1180.7 L2086.3 1180.2 L2088.2 1179.8 L2090.1 1179.2 L2092.1 1178.7 L2094 1178.1 L2095.9 1177.5 L2097.8 1176.9 L2099.8 1176.4 L2101.7 1175.8 L2103.6 1175.3 L2105.6 1174.8 L2107.5 1174.3 L2109.4 1173.9 L2111.4 1173.6 L2113.4 1173.3 L2115.3 1173 L2117.3 1172.8 L2119.3 1172.5 L2121.3 1172.2 L2123.3 1172 L2125.3 1171.7 L2127.3 1171.5 L2129.3 1171.3 L2131.3 1171.2 L2133.3 1171.1 L2135.3 1171 L2137.3 1171 L2139.3 1171 L2141.2 1171.1 L2143.2 1171.3 L2145.2 1171.5 L2147.2 1171.7 L2149.2 1172 L2151.2 1172.3 L2153.2 1172.6 L2155.2 1173 L2157.1 1173.3 L2159.1 1173.7 L2161.1 1174 L2163 1174.4 L2165 1174.8 L2166.9 1175.2 L2168.9 1175.6 L2170.8 1176.1 L2172.8 1176.7 L2174.7 1177.2 L2176.6 1177.8 L2178.5 1178.4 L2180.4 1178.9 L2182.4 1179.5 L2184.3 1180.1 L2186.2 1180.6 L2188.2 1181.1 L2190.1 1181.6 L2192 1182.1 L2194 1182.6 L2195.9 1183.1 L2197.9 1183.6 L2199.8 1184.1 L2201.8 1184.5 L2203.7 1185 L2205.7 1185.5 L2207.6 1185.9 L2209.6 1186.3 L2211.5 1186.7 L2213.5 1187.1 L2215.4 1187.4 L2217.4 1187.8 L2219.4 1188.1 L2221.4 1188.5 L2223.3 1188.9 L2225.3 1189.2 L2227.3 1189.6 L2229.3 1189.9 L2231.3 1190.1 L2233.3 1190.4 L2235.2 1190.6 L2237.2 1190.7 L2239.2 1190.8 L2241.2 1190.8 L2243.2 1190.8 L2245.2 1190.7 L2247.2 1190.6 L2249.2 1190.5 L2251.2 1190.4 L2253.2 1190.3 L2255.2 1190.1 L2257.2 1190 L2259.2 1189.8 L2261.2 1189.6 L2263.2 1189.4 L2265.2 1189.2 L2267.2 1189 L2269.1 1188.8 L2271.1 1188.5 L2273.1 1188.1 L2275 1187.7 L2277 1187.2 L2278.9 1186.8 L2280.9 1186.3 L2282.8 1185.9 L2284.8 1185.4 L2286.7 1185 L2288.7 1184.5 L2290.7 1184.2 L2292.6 1183.8 L2294.6 1183.5 L2296.6 1183.1 L2298.6 1182.8 L2300.5 1182.4 L2302.5 1182.1 L2304.5 1181.7 L2306.5 1181.4 L2308.5 1181.1 L2310.4 1180.9 L2312.4 1180.7 L2314.4 1180.5 L2316.4 1180.4 L2318.4 1180.4 L2320.4 1180.4 L2322.4 1180.4 L2324.4 1180.4 L2326.4 1180.4 L2328.4 1180.4 L2330.4 1180.4 L2332.4 1180.4 L2334.4 1180.4 L2336.4 1180.4 L2338.4 1180.4 L2340.4 1180.4 L2342 1180.4"/>
<path stroke="#0f0" stroke-width="12" transform="translate(0,1.3)" d="M465.4 1233 L465.4 1231 L465.5 1229 L465.5 1227 L465.5 1225 L465.5 1223 L465.6 1221 L465.6 1219 L465.6 1217 L465.6 1215 L465.7 1213 L465.7 1211 L465.7 1209 L465.8 1207 L465.8 1205 L465.8 1203 L465.8 1201 L465.9 1199 L465.9 1197 L465.9 1195 L466 1193 L466 1191 L466 1189 L466 1187 L466.1 1185 L466.1 1183 L466.1 1181 L466.2 1179 L466.2 1177 L466.2 1175 L466.2 1173 L466.3 1171 L466.3 1169 L466.3 1167 L466.4 1165 L466.4 1163 L466.4 1161 L466.5 1159 L466.5 1157 L466.5 1155 L466.6 1153 L466.6 1151 L466.6 1149 L466.7 1147 L466.7 1145 L466.7 1143 L466.8 1141 L466.8 1139 L466.8 1137 L466.9 1135 L466.9 1133 L466.9 1131 L467 1129 L467 1127 L467.1 1125 L467.1 1123 L467.2 1121 L467.2 1119 L467.2 1117 L467.3 1115 L467.3 1113 L467.4 1111 L467.4 1109 L467.5 1107 L467.5 1105 L467.6 1103 L467.6 1101 L467.7 1099 L467.7 1097 L467.8 1095 L467.8 1093 L467.9 1091 L467.9 1089 L468 1087 L468 1085 L468.1 1083 L468.2 1081 L468.2 1079 L468.3 1077 L468.3 1075 L468.4 1073 L468.5 1071 L468.5 1069 L468.6 1067 L468.7 1065 L468.7 1063 L468.8 1061 L468.9 1059 L469 1057 L469 1055 L469.1 1053 L469.2 1051 L469.3 1049 L469.3 1047 L469.4 1045.1 L469.5 1043.1 L469.6 1041.1 L469.7 1039.1 L469.8 1037.1 L469.9 1035.1 L470 1033.1 L470.1 1031.1 L470.2 1029.1 L470.3 1027.1 L470.4 1025.1 L470.6 1023.1 L470.7 1021.1 L470.8 1019.1 L470.9 1017.1 L471 1015.1 L471.1 1013.1 L471.3 1011.1 L471.4 1009.1 L471.5 1007.1 L471.7 1005.1 L471.8 1003.1 L471.9 1001.1 L472 999.1 L472.2 997.1 L472.3 995.1 L472.4 993.1 L472.6 991.1 L472.7 989.1 L472.9 987.1 L473 985.2 L473.1 983.2 L473.3 981.2 L473.4 979.2 L473.6 977.2 L473.7 975.2 L473.8 973.2 L474 971.2 L474.1 969.2 L474.3 967.2 L474.5 965.2 L474.6 963.2 L474.8 961.2 L474.9 959.2 L475.1 957.2 L475.3 955.2 L475.4 953.2 L475.6 951.3 L475.8 949.3 L476 947.3 L476.2 945.3 L476.3 943.3 L476.5 941.3 L476.7 939.3 L476.9 937.3 L477.1 935.3 L477.3 933.3 L477.5 931.3 L477.6 929.3 L477.8 927.4 L478 925.4 L478.2 923.4 L478.4 921.4 L478.6 919.4 L478.8 917.4 L479 915.4 L479.2 913.4 L479.4 911.4 L479.6 909.4 L479.8 907.5 L480 905.5 L480.2 903.5 L480.4 901.5 L480.6 899.5 L480.8 897.5 L481 895.5 L481.2 893.5 L481.5 891.5 L481.7 889.5 L481.9 887.5 L482.1 885.6 L482.3 883.6 L482.5 881.6 L482.8 879.6 L483 877.6 L483.2 875.6 L483.5 873.6 L483.7 871.6 L484 869.7 L484.2 867.7 L484.5 865.7 L484.7 863.7 L485 861.7 L485.2 859.7 L485.5 857.8 L485.8 855.8 L486.1 853.8 L486.4 851.8 L486.7 849.9 L487 847.9 L487.3 845.9 L487.6 843.9 L487.9 842 L488.3 840 L488.6 838 L489 836 L489.3 834.1 L489.7 832.1 L490.1 830.1 L490.4 828.2 L490.8 826.2 L491.2 824.2 L491.6 822.3 L492 820.3 L492.5 818.4 L492.9 816.4 L493.3 814.4 L493.7 812.5 L494.2 810.5 L494.6 808.6 L495.1 806.7 L495.6 804.7 L496.1 802.8 L496.6 800.9 L497.1 798.9 L497.6 797 L498.2 795.1 L498.8 793.2 L499.4 791.3 L500 789.4 L500.6 787.5 L501.2 785.6 L501.9 783.7 L502.5 781.8 L503.1 779.9 L503.7 777.9 L504.4 776 L505 774.1 L505.6 772.2 L506.2 770.3 L506.8 768.4 L507.4 766.5 L508 764.6 L508.6 762.7 L509.2 760.8 L509.9 758.9 L510.6 757 L511.2 755.1 L512 753.3 L512.7 751.4 L513.4 749.6 L514.2 747.7 L515 745.9 L515.8 744.1 L516.6 742.2 L517.4 740.4 L518.3 738.6 L519.1 736.7 L520 734.9 L520.8 733.1 L521.7 731.3 L522.6 729.5 L523.5 727.7 L524.4 726 L525.3 724.2 L526.3 722.4 L527.2 720.7 L528.2 718.9 L529.1 717.2 L530.1 715.4 L531.1 713.7 L532.1 712 L533.1 710.2 L534.1 708.5 L535.2 706.8 L536.2 705.1 L537.3 703.4 L538.4 701.7 L539.5 700 L540.6 698.3 L541.6 696.7 L542.8 695 L543.9 693.3 L545 691.7 L546.1 690 L547.2 688.4 L548.4 686.7 L549.5 685.1 L550.6 683.4 L551.8 681.8 L553 680.1 L554.1 678.5 L555.3 676.8 L556.5 675.2 L557.7 673.6 L558.9 672 L560.1 670.4 L561.3 668.8 L562.6 667.2 L563.8 665.6 L565.1 664.1 L566.4 662.6 L567.7 661.1 L569 659.6 L570.3 658.1 L571.7 656.7 L573 655.3 L574.4 653.8 L575.8 652.4 L577.3 651 L578.7 649.7 L580.2 648.3 L581.7 646.9 L583.2 645.6 L584.7 644.3 L586.3 642.9 L587.8 641.6 L589.4 640.4 L591 639.1 L592.6 637.9 L594.2 636.7 L595.8 635.5 L597.4 634.3 L599.1 633.2 L600.7 632.1 L602.4 631.1 L604 630 L605.7 629 L607.4 627.9 L609.1 626.9 L610.9 625.8 L612.6 624.8 L614.4 623.8 L616.2 622.8 L618 621.8 L619.8 620.9 L621.6 620 L623.4 619.1 L625.3 618.3 L627.1 617.5 L629 616.8 L630.8 616.1 L632.7 615.5 L634.6 614.9 L636.5 614.4 L638.4 613.9 L640.3 613.4 L642.2 613 L644.2 612.5 L646.2 612.1 L648.1 611.7 L650.1 611.4 L652.1 611 L654.1 610.7 L656.1 610.4 L658.1 610.2 L660.1 610 L662.1 609.8 L664.1 609.6 L666.1 609.4 L668.1 609.3 L670.1 609.1 L672.1 609 L674.1 608.8 L676.1 608.7 L678.1 608.6 L680.1 608.6 L682.1 608.5 L684 608.5 L686 608.6 L688 608.7 L690 609 L692 609.4 L694 609.9 L696 610.4 L697.9 611 L699.9 611.7 L701.8 612.4 L703.7 613.1 L705.6 613.8 L707.4 614.6 L709.2 615.3 L710.9 616.1 L712.6 617 L714.3 617.9 L715.9 619 L717.5 620.1 L719.1 621.3 L720.7 622.6 L722.2 623.9 L723.7 625.2 L725.3 626.6 L726.8 628 L728.3 629.5 L729.8 630.9 L731.3 632.3 L732.8 633.7 L734.3 635 L735.8 636.3 L737.4 637.6 L739 638.9 L740.5 640.1 L742.1 641.4 L743.8 642.7 L745.4 644 L747 645.2 L748.6 646.5 L750.1 647.8 L751.7 649.1 L753.2 650.5 L754.7 651.8 L756.1 653.2 L757.4 654.6 L758.8 656.1 L760 657.5 L761.2 659.1 L762.3 660.6 L763.4 662.2 L764.4 663.9 L765.5 665.6 L766.5 667.3 L767.4 669.1 L768.4 670.9 L769.3 672.7 L770.2 674.6 L771 676.5 L771.8 678.3 L772.6 680.2 L773.3 682.1 L774 684 L774.6 685.8 L775.2 687.7 L775.7 689.6 L776.2 691.5 L776.8 693.4 L777.2 695.3 L777.7 697.3 L778.2 699.2 L778.6 701.2 L779 703.1 L779.4 705.1 L779.8 707.1 L780.2 709 L780.6 711 L781 713 L781.4 715 L781.8 717 L782.2 718.9 L782.6 720.9 L783 722.9 L783.4 724.9 L783.8 726.8 L784.2 728.8 L784.7 730.7 L785.1 732.7 L785.5 734.6 L786 736.6 L786.4 738.6 L786.8 740.5 L787.3 742.5 L787.7 744.4 L788.1 746.4 L788.5 748.4 L789 750.3 L789.4 752.3 L789.9 754.2 L790.3 756.2 L790.8 758.1 L791.3 760 L791.8 762 L792.3 763.9 L792.9 765.8 L793.4 767.7 L794 769.6 L794.6 771.5 L795.2 773.5 L795.8 775.4 L796.5 777.3 L797.1 779.2 L797.8 781.1 L798.6 783.1 L799.3 784.9 L800.1 786.8 L800.8 788.7 L801.7 790.5 L802.5 792.3 L803.4 794 L804.3 795.7 L805.2 797.4 L806.3 799 L807.5 800.6 L808.8 802.1 L810.1 803.6 L811.6 805.1 L813.1 806.5 L814.5 807.9 L816 809.4 L817.5 810.8 L818.9 812.3 L820.2 813.8 L821.5 815.3 L822.6 816.9 L823.6 818.6 L824.5 820.3 L825.4 822 L826.2 823.8 L827 825.6 L827.8 827.5 L828.5 829.4 L829.2 831.3 L829.9 833.2 L830.6 835.1 L831.3 837 L831.9 838.9 L832.6 840.8 L833.2 842.7 L833.9 844.6 L834.5 846.5 L835.1 848.4 L835.7 850.4 L836.2 852.3 L836.8 854.2 L837.3 856.1 L837.8 858.1 L838.4 860 L838.9 861.9 L839.5 863.8 L840.1 865.8 L840.7 867.7 L841.3 869.6 L841.9 871.4 L842.6 873.3 L843.4 875.2 L844.2 877 L844.9 878.9 L845.7 880.7 L846.5 882.6 L847.3 884.4 L848 886.3 L848.7 888.1 L849.4 890 L850 891.9 L850.6 893.8 L851.2 895.7 L851.7 897.7 L852.2 899.6 L852.8 901.6 L853.3 903.5 L853.8 905.4 L854.3 907.4 L854.9 909.3 L855.5 911.2 L856.1 913.1 L856.8 914.9 L857.5 916.8 L858.3 919 L859 921.3 L859.9 923.7 L860.7 925.9 L861.7 927.9 L862.7 929.5 L863.8 930.6 L865 931 L866.4 930.8 L868.2 930.1 L870.2 929.2 L872.2 928.2 L874.2 927.3 L876.1 926.5 L878 925.6 L879.9 924.7 L881.8 924 L883.6 923.6 L885.5 923.6 L887.3 924.1 L889.2 924.9 L891 926 L892.8 927.3 L894.4 928.5 L895.9 929.8 L897.1 931.3 L898.4 932.9 L899.6 934.5 L901 936 L902.4 937.4 L903.9 938.8 L905.5 940.2 L907 941.5 L908.5 942.9 L909.8 944.4 L911 945.9 L912.1 947.5 L913 949.2 L913.8 951 L914.6 952.8 L915.3 954.7 L916 956.6 L916.7 958.6 L917.4 960.5 L918.1 962.3 L918.8 964.2 L919.5 966.1 L920.1 968 L920.8 969.8 L921.5 971.7 L922.1 973.6 L922.8 975.5 L923.4 977.4 L924.1 979.3 L924.7 981.2 L925.4 983.1 L926 985 L926.6 986.9 L927.3 988.8 L927.9 990.7 L928.6 992.6 L929.2 994.5 L929.9 996.3 L930.5 998.2 L931.2 1000.2 L931.8 1002.1 L932.4 1004 L932.9 1006 L933.5 1007.9 L934.1 1009.9 L934.7 1011.8 L935.3 1013.8 L935.9 1015.7 L936.5 1017.6 L937.1 1019.6 L937.8 1021.5 L938.4 1023.3 L939.1 1025.2 L939.8 1027.1 L940.6 1028.9 L941.3 1030.7 L942.1 1032.4 L943 1034.2 L943.9 1035.9 L944.9 1037.9 L945.9 1039.9 L947 1042 L948.2 1044.1 L949.5 1046.1 L950.8 1048 L952.1 1049.6 L953.4 1050.9 L954.8 1051.9 L956.2 1052.4 L957.6 1052.5 L959.1 1052.1 L960.6 1051.5 L962.2 1050.6 L963.8 1049.5 L965.5 1048.2 L967.2 1046.8 L968.9 1045.3 L970.6 1043.8 L972.3 1042.3 L974.1 1040.9 L975.8 1039.6 L977.5 1038.4 L979.2 1037.3 L981 1036.1 L982.7 1034.8 L984.5 1033.5 L986.2 1032.3 L988 1031.2 L989.8 1030.2 L991.5 1029.4 L993.3 1029 L995 1028.8 L996.8 1029 L998.6 1029.4 L1000.4 1030.1 L1002.3 1031 L1004.1 1032 L1005.9 1033.2 L1007.7 1034.5 L1009.4 1035.9 L1011.1 1037.3 L1012.6 1038.8 L1014.1 1040.2 L1015.4 1041.5 L1016.7 1042.9 L1017.9 1044.3 L1019 1045.8 L1020.1 1047.4 L1021.2 1049 L1022.2 1050.7 L1023.2 1052.5 L1024.2 1054.3 L1025.1 1056.1 L1026 1058 L1026.9 1059.8 L1027.8 1061.7 L1028.7 1063.6 L1029.6 1065.5 L1030.4 1067.4 L1031.2 1069.3 L1032.1 1071.2 L1032.9 1073 L1033.7 1074.8 L1034.5 1076.6 L1035.3 1078.5 L1036 1080.3 L1036.8 1082.2 L1037.5 1084.1 L1038.2 1086 L1038.8 1087.8 L1039.5 1089.7 L1040.2 1091.6 L1040.9 1093.5 L1041.6 1095.4 L1042.3 1097.3 L1043 1099.1 L1043.8 1101 L1044.6 1102.8 L1045.4 1104.6 L1046.2 1106.4 L1047 1108.2 L1047.9 1110.1 L1048.8 1111.9 L1049.7 1113.8 L1050.6 1115.7 L1051.6 1117.5 L1052.5 1119.3 L1053.6 1121.1 L1054.6 1122.8 L1055.7 1124.4 L1056.9 1125.9 L1058.1 1127.3 L1059.5 1128.7 L1061 1130.1 L1062.6 1131.6 L1064.4 1132.9 L1066.2 1134.1 L1068 1135 L1069.8 1135.4 L1071.5 1135.5 L1073.1 1135.2 L1074.8 1134.6 L1076.4 1133.9 L1078.1 1133 L1079.7 1131.8 L1081.4 1130.6 L1083 1129.3 L1084.7 1127.9 L1086.3 1126.4 L1088 1124.9 L1089.6 1123.5 L1091.3 1122 L1093 1120.7 L1094.7 1119.5 L1096.5 1118.3 L1098.2 1117.4 L1100 1116.5 L1101.8 1115.5 L1103.7 1114.6 L1105.6 1113.6 L1107.4 1112.6 L1109.3 1111.7 L1111.3 1110.9 L1113.2 1110.1 L1115 1109.5 L1116.9 1109 L1118.8 1108.7 L1120.6 1108.5 L1122.4 1108.6 L1124.3 1108.9 L1126.2 1109.4 L1128.1 1110.2 L1130 1111.1 L1131.8 1112.1 L1133.7 1113.3 L1135.5 1114.5 L1137.2 1115.8 L1138.8 1117.2 L1140.4 1118.5 L1141.8 1119.9 L1143.1 1121.1 L1144.4 1122.5 L1145.5 1124 L1146.6 1125.6 L1147.6 1127.4 L1148.6 1129.2 L1149.5 1131 L1150.4 1132.9 L1151.4 1134.8 L1152.3 1136.6 L1153.2 1138.5 L1154.1 1140.3 L1155.1 1142 L1156 1143.8 L1156.9 1145.6 L1157.7 1147.4 L1158.6 1149.2 L1159.5 1151 L1160.3 1152.9 L1161.2 1154.7 L1162 1156.5 L1162.9 1158.3 L1163.8 1160.1 L1164.8 1161.8 L1165.7 1163.6 L1166.7 1165.3 L1167.7 1167 L1168.7 1168.8 L1169.8 1170.6 L1170.8 1172.4 L1171.9 1174.2 L1173 1176 L1174.2 1177.7 L1175.4 1179.3 L1176.6 1180.8 L1177.9 1182.2 L1179.3 1183.5 L1180.8 1184.6 L1182.5 1185.7 L1184.3 1186.8 L1186.2 1187.7 L1188.1 1188.5 L1190.1 1188.9 L1191.9 1189 L1193.7 1188.6 L1195.5 1187.9 L1197.3 1187 L1199.2 1185.9 L1200.9 1184.7 L1202.7 1183.5 L1204.4 1182.4 L1206.1 1181.3 L1207.7 1180.2 L1209.3 1179 L1210.8 1177.7 L1212.4 1176.4 L1213.9 1175.1 L1215.4 1173.8 L1217 1172.5 L1218.5 1171.2 L1220 1169.8 L1221.5 1168.3 L1223 1166.6 L1224.5 1164.9 L1226 1163.3 L1227.5 1161.7 L1229 1160.3 L1230.6 1159.1 L1232.2 1158.2 L1233.8 1157.6 L1235.5 1157.5 L1237.3 1157.6 L1239.1 1157.9 L1241.1 1158.3 L1243 1158.8 L1245.1 1159.3 L1247.1 1160 L1249.1 1160.7 L1251.1 1161.5 L1253 1162.3 L1254.9 1163.1 L1256.7 1163.9 L1258.4 1164.7 L1260 1165.7 L1261.7 1166.8 L1263.2 1168 L1264.8 1169.3 L1266.3 1170.6 L1267.8 1172 L1269.3 1173.4 L1270.8 1174.8 L1272.4 1176.2 L1273.9 1177.5 L1275.5 1178.8 L1277 1180.1 L1278.5 1181.5 L1280 1182.9 L1281.5 1184.2 L1283 1185.6 L1284.6 1186.9 L1286.1 1188.2 L1287.7 1189.4 L1289.4 1190.4 L1291.1 1191.3 L1292.8 1192.2 L1294.6 1193 L1296.5 1193.8 L1298.4 1194.6 L1300.3 1195.3 L1302.3 1196 L1304.3 1196.5 L1306.2 1196.8 L1308.2 1197 L1310.1 1196.9 L1312 1196.7 L1313.9 1196.3 L1315.9 1195.7 L1317.8 1195 L1319.7 1194.3 L1321.6 1193.4 L1323.5 1192.6 L1325.4 1191.9 L1327.2 1191.1 L1329 1190.2 L1330.7 1189.2 L1332.4 1188.1 L1334.2 1187 L1335.9 1185.9 L1337.6 1184.8 L1339.3 1183.9 L1341.1 1183 L1342.9 1182.3 L1344.8 1181.7 L1346.7 1181.2 L1348.7 1180.6 L1350.6 1180.1 L1352.6 1179.7 L1354.6 1179.3 L1356.6 1179 L1358.6 1178.8 L1360.6 1178.7 L1362.5 1178.8 L1364.5 1179 L1366.5 1179.3 L1368.5 1179.7 L1370.4 1180.2 L1372.4 1180.7 L1374.4 1181.2 L1376.3 1181.8 L1378.2 1182.3 L1380.1 1183 L1381.9 1183.7 L1383.7 1184.5 L1385.6 1185.3 L1387.4 1186.2 L1389.2 1187.1 L1391 1188 L1392.8 1188.9 L1394.6 1189.8 L1396.4 1190.6 L1398.2 1191.5 L1400 1192.5 L1401.8 1193.4 L1403.6 1194.3 L1405.4 1195.2 L1407.2 1196.1 L1409.1 1196.8 L1410.9 1197.4 L1412.8 1197.9 L1414.8 1198.3 L1416.8 1198.8 L1418.8 1199.1 L1420.8 1199.3 L1422.7 1199.4 L1424.7 1199.3 L1426.7 1199.1 L1428.6 1198.8 L1430.6 1198.3 L1432.5 1197.9 L1434.5 1197.3 L1436.4 1196.7 L1438.3 1196.1 L1440.3 1195.4 L1442.2 1194.8 L1444.1 1194.1 L1446 1193.5 L1447.9 1192.9 L1449.8 1192.2 L1451.7 1191.5 L1453.6 1190.7 L1455.4 1189.9 L1457.3 1189.1 L1459.2 1188.4 L1461.1 1187.9 L1463 1187.4 L1464.9 1187.1 L1466.9 1186.9 L1468.9 1186.6 L1470.9 1186.4 L1472.9 1186.3 L1474.9 1186.2 L1476.9 1186.1 L1478.9 1186.1 L1480.8 1186.3 L1482.8 1186.7 L1484.7 1187.1 L1486.7 1187.6 L1488.6 1188.3 L1490.6 1188.9 L1492.5 1189.6 L1494.4 1190.3 L1496.3 1191 L1498.2 1191.6 L1500.1 1192.3 L1501.9 1193 L1503.8 1193.8 L1505.6 1194.6 L1507.5 1195.4 L1509.3 1196.2 L1511.1 1197 L1513 1197.7 L1514.9 1198.3 L1516.8 1198.9 L1518.7 1199.5 L1520.6 1200.1 L1522.6 1200.8 L1524.5 1201.3 L1526.5 1201.9 L1528.5 1202.4 L1530.4 1202.8 L1532.4 1203.1 L1534.3 1203.2 L1536.3 1203.3 L1538.3 1203.2 L1540.2 1203.1 L1542.2 1202.8 L1544.2 1202.5 L1546.2 1202.2 L1548.2 1201.8 L1550.1 1201.3 L1552.1 1200.9 L1554.1 1200.4 L1556 1199.9 L1558 1199.5 L1559.9 1199 L1561.8 1198.5 L1563.8 1197.9 L1565.7 1197.3 L1567.6 1196.6 L1569.5 1195.9 L1571.4 1195.2 L1573.3 1194.5 L1575.2 1193.9 L1577.1 1193.2 L1579 1192.7 L1580.9 1192.2 L1582.9 1191.8 L1584.8 1191.5 L1586.8 1191.2 L1588.8 1191 L1590.8 1190.8 L1592.8 1190.6 L1594.8 1190.4 L1596.8 1190.3 L1598.7 1190.3 L1600.7 1190.4 L1602.7 1190.7 L1604.7 1191 L1606.6 1191.5 L1608.6 1192 L1610.6 1192.5 L1612.5 1193.1 L1614.4 1193.7 L1616.3 1194.3 L1618.2 1195 L1620.1 1195.6 L1621.9 1196.4 L1623.8 1197.3 L1625.6 1198.3 L1627.3 1199.3 L1629.1 1200.3 L1630.9 1201.4 L1632.7 1202.3 L1634.5 1203.2 L1636.3 1204 L1638.1 1204.6 L1640 1205 L1641.9 1205.3 L1643.9 1205.6 L1645.9 1205.9 L1647.9 1206.1 L1649.9 1206.3 L1651.9 1206.4 L1653.9 1206.5 L1655.9 1206.5 L1657.9 1206.4 L1659.9 1206.2 L1661.9 1205.9 L1663.9 1205.7 L1665.9 1205.4 L1667.9 1205.1 L1669.8 1204.8 L1671.8 1204.4 L1673.7 1204 L1675.7 1203.5 L1677.7 1203.1 L1679.6 1202.6 L1681.6 1202.1 L1683.5 1201.7 L1685.5 1201.3 L1687.4 1200.9 L1689.4 1200.5 L1691.4 1200.2 L1693.4 1200 L1695.3 1199.7 L1697.3 1199.4 L1699.3 1199.2 L1701.3 1198.9 L1703.3 1198.7 L1705.3 1198.4 L1707.3 1198.2 L1709.3 1198.1 L1711.3 1197.9 L1713.3 1197.8 L1715.3 1197.7 L1717.3 1197.7 L1719.2 1197.7 L1721.2 1197.8 L1723.2 1198 L1725.2 1198.2 L1727.2 1198.4 L1729.2 1198.7 L1731.2 1199 L1733.2 1199.3 L1735.1 1199.7 L1737.1 1200 L1739.1 1200.4 L1741.1 1200.7 L1743 1201.1 L1745 1201.4 L1746.9 1201.8 L1748.9 1202.3 L1750.8 1202.8 L1752.8 1203.3 L1754.7 1203.9 L1756.7 1204.4 L1758.6 1205 L1760.5 1205.5 L1762.5 1206 L1764.4 1206.4 L1766.4 1206.7 L1768.4 1207 L1770.3 1207.2 L1772.3 1207.4 L1774.3 1207.6 L1776.3 1207.8 L1778.3 1208 L1780.3 1208.1 L1782.3 1208.3 L1784.3 1208.4 L1786.3 1208.6 L1788.3 1208.7 L1790.3 1208.7 L1792.3 1208.8 L1794.3 1208.8 L1796.3 1208.8 L1798.3 1208.7 L1800.3 1208.6 L1802.3 1208.4 L1804.2 1208.2 L1806.2 1208 L1808.2 1207.8 L1810.2 1207.5 L1812.2 1207.3 L1814.2 1207 L1816.2 1206.8 L1818.2 1206.5 L1820.2 1206.3 L1822.2 1206.2 L1824.2 1206 L1826.1 1205.8 L1828.1 1205.6 L1830.1 1205.4 L1832.1 1205.2 L1834.1 1205 L1836.1 1204.8 L1838.1 1204.6 L1840.1 1204.4 L1842.1 1204.3 L1844.1 1204.1 L1846.1 1204 L1848.1 1203.9 L1850.1 1203.8 L1852.1 1203.7 L1854.1 1203.7 L1856.1 1203.7 L1858.1 1203.7 L1860 1203.8 L1862 1203.9 L1864 1204.1 L1866 1204.3 L1868 1204.5 L1870 1204.7 L1872 1204.9 L1874 1205.2 L1876 1205.4 L1878 1205.7 L1879.9 1205.9 L1881.9 1206.2 L1883.9 1206.5 L1885.9 1206.7 L1887.9 1206.9 L1889.9 1207.1 L1891.9 1207.3 L1893.9 1207.6 L1895.9 1207.8 L1897.9 1208.1 L1899.8 1208.4 L1901.8 1208.6 L1903.8 1208.9 L1905.8 1209.2 L1907.8 1209.4 L1909.8 1209.6 L1911.8 1209.9 L1913.8 1210.1 L1915.8 1210.2 L1917.7 1210.4 L1919.7 1210.5 L1921.7 1210.6 L1923.7 1210.6 L1925.7 1210.6 L1927.7 1210.6 L1929.7 1210.5 L1931.7 1210.4 L1933.7 1210.3 L1935.7 1210.2 L1937.7 1210.1 L1939.7 1209.9 L1941.7 1209.8 L1943.7 1209.7 L1945.7 1209.5 L1947.7 1209.4 L1949.7 1209.2 L1951.7 1209.1 L1953.7 1209 L1955.7 1208.9 L1957.7 1208.8 L1959.7 1208.8 L1961.7 1208.7 L1963.7 1208.6 L1965.7 1208.6 L1967.7 1208.5 L1969.7 1208.4 L1971.7 1208.4 L1973.7 1208.3 L1975.7 1208.3 L1977.7 1208.2 L1979.7 1208.2 L1981.7 1208.1 L1983.7 1208.1 L1985.7 1208.1 L1987.7 1208 L1989.7 1208 L1991.7 1208 L1993.7 1208 L1995.7 1208 L1997.7 1208 L1999.7 1208.1 L2001.7 1208.1 L2003.7 1208.2 L2005.7 1208.3 L2007.7 1208.3 L2009.7 1208.4 L2011.7 1208.5 L2013.6 1208.6 L2015.6 1208.7 L2017.6 1208.8 L2019.6 1208.9 L2021.6 1209 L2023.6 1209.1 L2025.6 1209.2 L2027.6 1209.3 L2029.6 1209.4 L2031.6 1209.4 L2033.6 1209.5 L2035.6 1209.6 L2037.6 1209.6 L2039.6 1209.7 L2041.6 1209.7 L2043.6 1209.8 L2045.6 1209.8 L2047.6 1209.9 L2049.6 1209.9 L2051.6 1209.9 L2053.6 1210 L2055.6 1210 L2057.6 1210.1 L2059.6 1210.1 L2061.6 1210.1 L2063.6 1210.2 L2065.6 1210.2 L2067.6 1210.2 L2069.6 1210.3 L2071.6 1210.3 L2073.6 1210.3 L2075.6 1210.3 L2077.6 1210.4 L2079.6 1210.4 L2081.6 1210.4 L2083.6 1210.4 L2085.6 1210.5 L2087.6 1210.5 L2089.6 1210.5 L2091.6 1210.5 L2093.6 1210.6 L2095.6 1210.6 L2097.6 1210.6 L2099.6 1210.6 L2101.6 1210.6 L2103.6 1210.6 L2105.6 1210.6 L2107.6 1210.6 L2109.6 1210.7 L2111.6 1210.7 L2113.6 1210.7 L2115.6 1210.7 L2117.6 1210.7 L2119.6 1210.7 L2121.6 1210.7 L2123.6 1210.7 L2125.6 1210.8 L2127.6 1210.8 L2129.6 1210.8 L2131.6 1210.8 L2133.6 1210.8 L2135.6 1210.8 L2137.6 1210.8 L2139.6 1210.8 L2141.6 1210.8 L2143.6 1210.8 L2145.6 1210.8 L2147.6 1210.9 L2149.6 1210.9 L2151.6 1210.9 L2153.6 1210.9 L2155.6 1210.9 L2157.6 1210.9 L2159.6 1210.9 L2161.6 1210.9 L2163.6 1210.9 L2165.6 1210.9 L2167.6 1210.9 L2169.6 1210.9 L2171.6 1210.9 L2173.6 1210.9 L2175.6 1211 L2177.6 1211 L2179.6 1211 L2181.6 1211 L2183.6 1211 L2185.6 1211 L2187.6 1211 L2189.6 1211 L2191.6 1211 L2193.6 1211 L2195.6 1211 L2197.6 1211 L2199.6 1211 L2201.6 1211 L2203.6 1211 L2205.6 1211 L2207.6 1211 L2209.6 1211 L2211.6 1211 L2213.6 1211 L2215.6 1211 L2217.6 1211 L2219.6 1211 L2221.6 1211 L2223.6 1211 L2225.6 1211 L2227.6 1211 L2229.6 1211 L2231.6 1211 L2233.6 1211 L2235.6 1211 L2237.6 1211 L2239.6 1211 L2241.6 1211 L2243.6 1211 L2245.6 1211.1 L2247.6 1211.1 L2249.6 1211.1 L2251.6 1211.1 L2253.6 1211.1 L2255.6 1211.1 L2257.6 1211.1 L2259.6 1211.1 L2261.6 1211.1 L2263.6 1211.1 L2265.6 1211.1 L2267.6 1211.1 L2269.6 1211.1 L2271.6 1211.1 L2273.6 1211.1 L2275.6 1211.1 L2277.6 1211.1 L2279.6 1211.1 L2281.6 1211.1 L2283.6 1211.1 L2285.6 1211.1 L2287.6 1211.1 L2289.6 1211.1 L2291.6 1211.1 L2293.6 1211.1 L2295.6 1211.1 L2297.6 1211.1 L2299.6 1211.1 L2301.6 1211.1 L2303.6 1211.1 L2305.6 1211.1 L2307.6 1211.1 L2309.6 1211.1 L2311.6 1211.1 L2313.6 1211.1 L2315.6 1211.1 L2317.6 1211.1 L2319.6 1211.1 L2321.6 1211.1 L2323.6 1211.1 L2325.6 1211.1 L2327.6 1211.1 L2329.6 1211.1 L2331.6 1211.1 L2333.6 1211.1 L2335.6 1211.1 L2337.6 1211.1 L2339.6 1211.1 L2341.6 1211.1 L2342 1211.1"/>
<path stroke="#00f" stroke-width="12" d="M465.4 1233 L465.4 1231 L465.5 1229 L465.5 1227 L465.5 1225 L465.5 1223 L465.6 1221 L465.6 1219 L465.6 1217 L465.6 1215 L465.7 1213 L465.7 1211 L465.7 1209 L465.8 1207 L465.8 1205 L465.8 1203 L465.8 1201 L465.9 1199 L465.9 1197 L465.9 1195 L466 1193 L466 1191 L466 1189 L466 1187 L466.1 1185 L466.1 1183 L466.1 1181 L466.2 1179 L466.2 1177 L466.2 1175 L466.2 1173 L466.3 1171 L466.3 1169 L466.3 1167 L466.4 1165 L466.4 1163 L466.4 1161 L466.5 1159 L466.5 1157 L466.5 1155 L466.6 1153 L466.6 1151 L466.6 1149 L466.7 1147 L466.7 1145 L466.7 1143 L466.8 1141 L466.8 1139 L466.8 1137 L466.9 1135 L466.9 1133 L466.9 1131 L467 1129 L467 1127 L467.1 1125 L467.1 1123 L467.2 1121 L467.2 1119 L467.2 1117 L467.3 1115 L467.3 1113 L467.4 1111 L467.4 1109 L467.5 1107 L467.5 1105 L467.6 1103 L467.6 1101 L467.7 1099 L467.7 1097 L467.8 1095 L467.8 1093 L467.9 1091 L467.9 1089 L468 1087 L468 1085 L468.1 1083 L468.2 1081 L468.2 1079 L468.3 1077 L468.3 1075 L468.4 1073 L468.5 1071 L468.5 1069 L468.6 1067 L468.7 1065 L468.7 1063 L468.8 1061 L468.9 1059 L469 1057 L469 1055 L469.1 1053 L469.2 1051 L469.3 1049 L469.3 1047 L469.4 1045.1 L469.5 1043.1 L469.6 1041.1 L469.7 1039.1 L469.8 1037.1 L469.9 1035.1 L470 1033.1 L470.1 1031.1 L470.2 1029.1 L470.3 1027.1 L470.4 1025.1 L470.6 1023.1 L470.7 1021.1 L470.8 1019.1 L470.9 1017.1 L471 1015.1 L471.1 1013.1 L471.3 1011.1 L471.4 1009.1 L471.5 1007.1 L471.7 1005.1 L471.8 1003.1 L471.9 1001.1 L472 999.1 L472.2 997.1 L472.3 995.1 L472.4 993.1 L472.6 991.1 L472.7 989.1 L472.9 987.1 L473 985.2 L473.1 983.2 L473.3 981.2 L473.4 979.2 L473.6 977.2 L473.7 975.2 L473.8 973.2 L474 971.2 L474.1 969.2 L474.3 967.2 L474.5 965.2 L474.6 963.2 L474.8 961.2 L474.9 959.2 L475.1 957.2 L475.3 955.2 L475.4 953.2 L475.6 951.3 L475.8 949.3 L476 947.3 L476.2 945.3 L476.3 943.3 L476.5 941.3 L476.7 939.3 L476.9 937.3 L477.1 935.3 L477.3 933.3 L477.5 931.3 L477.6 929.3 L477.8 927.4 L478 925.4 L478.2 923.4 L478.4 921.4 L478.6 919.4 L478.8 917.4 L479 915.4 L479.2 913.4 L479.4 911.4 L479.6 909.4 L479.8 907.5 L480 905.5 L480.2 903.5 L480.4 901.5 L480.6 899.5 L480.8 897.5 L481 895.5 L481.2 893.5 L481.5 891.5 L481.7 889.5 L481.9 887.5 L482.1 885.6 L482.3 883.6 L482.5 881.6 L482.8 879.6 L483 877.6 L483.2 875.6 L483.5 873.6 L483.7 871.6 L484 869.7 L484.2 867.7 L484.5 865.7 L484.7 863.7 L485 861.7 L485.2 859.7 L485.5 857.8 L485.8 855.8 L486.1 853.8 L486.4 851.8 L486.7 849.9 L487 847.9 L487.3 845.9 L487.6 843.9 L487.9 842 L488.3 840 L488.6 838 L489 836 L489.3 834.1 L489.7 832.1 L490.1 830.1 L490.4 828.2 L490.8 826.2 L491.2 824.2 L491.6 822.3 L492 820.3 L492.5 818.4 L492.9 816.4 L493.3 814.4 L493.7 812.5 L494.2 810.5 L494.6 808.6 L495.1 806.7 L495.6 804.7 L496.1 802.8 L496.6 800.9 L497.1 798.9 L497.6 797 L498.2 795.1 L498.8 793.2 L499.4 791.3 L500 789.4 L500.6 787.5 L501.2 785.6 L501.9 783.7 L502.5 781.8 L503.1 779.9 L503.7 777.9 L504.4 776 L505 774.1 L505.6 772.2 L506.2 770.3 L506.8 768.4 L507.4 766.5 L508 764.6 L508.6 762.7 L509.2 760.8 L509.9 758.9 L510.6 757 L511.2 755.1 L512 753.3 L512.7 751.4 L513.4 749.6 L514.2 747.7 L515 745.9 L515.8 744.1 L516.6 742.2 L517.4 740.4 L518.3 738.6 L519.1 736.7 L520 734.9 L520.8 733.1 L521.7 731.3 L522.6 729.5 L523.5 727.7 L524.4 726 L525.3 724.2 L526.3 722.4 L527.2 720.7 L528.2 718.9 L529.1 717.2 L530.1 715.4 L531.1 713.7 L532.1 712 L533.1 710.2 L534.1 708.5 L535.2 706.8 L536.2 705.1 L537.3 703.4 L538.4 701.7 L539.5 700 L540.6 698.3 L541.6 696.7 L542.8 695 L543.9 693.3 L545 691.7 L546.1 690 L547.2 688.4 L548.4 686.7 L549.5 685.1 L550.6 683.4 L551.8 681.8 L553 680.1 L554.1 678.5 L555.3 676.8 L556.5 675.2 L557.7 673.6 L558.9 672 L560.1 670.4 L561.3 668.8 L562.6 667.2 L563.8 665.6 L565.1 664.1 L566.4 662.6 L567.7 661.1 L569 659.6 L570.3 658.1 L571.7 656.7 L573 655.3 L574.4 653.8 L575.8 652.4 L577.3 651 L578.7 649.7 L580.2 648.3 L581.7 646.9 L583.2 645.6 L584.7 644.3 L586.3 642.9 L587.8 641.6 L589.4 640.4 L591 639.1 L592.6 637.9 L594.2 636.7 L595.8 635.5 L597.4 634.3 L599.1 633.2 L600.7 632.1 L602.4 631.1 L604 630 L605.7 629 L607.4 627.9 L609.1 626.9 L610.9 625.8 L612.6 624.8 L614.4 623.8 L616.2 622.8 L618 621.8 L619.8 620.9 L621.6 620 L623.4 619.1 L625.3 618.3 L627.1 617.5 L629 616.8 L630.8 616.1 L632.7 615.5 L634.6 614.9 L636.5 614.4 L638.4 613.9 L640.3 613.4 L642.2 613 L644.2 612.5 L646.2 612.1 L648.1 611.7 L650.1 611.4 L652.1 611 L654.1 610.7 L656.1 610.4 L658.1 610.2 L660.1 610 L662.1 609.8 L664.1 609.6 L666.1 609.4 L668.1 609.3 L670.1 609.1 L672.1 609 L674.1 608.8 L676.1 608.7 L678.1 608.6 L680.1 608.6 L682.1 608.5 L684 608.5 L686 608.6 L688 608.7 L690 609 L692 609.4 L694 609.9 L696 610.4 L697.9 611 L699.9 611.7 L701.8 612.4 L703.7 613.1 L705.6 613.8 L707.4 614.6 L709.2 615.3 L710.9 616.1 L712.6 617 L714.3 617.9 L715.9 619 L717.5 620.1 L719.1 621.3 L720.7 622.6 L722.2 623.9 L723.7 625.2 L725.3 626.6 L726.8 628 L728.3 629.5 L729.8 630.9 L731.3 632.3 L732.8 633.7 L734.3 635 L735.8 636.3 L737.4 637.6 L739 638.9 L740.5 640.1 L742.1 641.4 L743.8 642.7 L745.4 644 L747 645.2 L748.6 646.5 L750.1 647.8 L751.7 649.1 L753.2 650.5 L754.7 651.8 L756.1 653.2 L757.4 654.6 L758.8 656.1 L760 657.5 L761.2 659.1 L762.3 660.6 L763.4 662.2 L764.4 663.9 L765.5 665.6 L766.5 667.3 L767.4 669.1 L768.4 670.9 L769.3 672.7 L770.2 674.6 L771 676.5 L771.8 678.3 L772.6 680.2 L773.3 682.1 L774 684 L774.6 685.8 L775.2 687.7 L775.7 689.6 L776.2 691.5 L776.8 693.4 L777.2 695.3 L777.7 697.3 L778.2 699.2 L778.6 701.2 L779 703.1 L779.4 705.1 L779.8 707.1 L780.2 709 L780.6 711 L781 713 L781.4 715 L781.8 717 L782.2 718.9 L782.6 720.9 L783 722.9 L783.4 724.9 L783.8 726.8 L784.2 728.8 L784.7 730.7 L785.1 732.7 L785.5 734.6 L786 736.6 L786.4 738.6 L786.8 740.5 L787.3 742.5 L787.7 744.4 L788.1 746.4 L788.5 748.4 L789 750.3 L789.4 752.3 L789.9 754.2 L790.3 756.2 L790.8 758.1 L791.3 760 L791.8 762 L792.3 763.9 L792.9 765.8 L793.4 767.7 L794 769.6 L794.6 771.5 L795.2 773.5 L795.8 775.4 L796.5 777.3 L797.1 779.2 L797.8 781.1 L798.6 783.1 L799.3 784.9 L800.1 786.8 L800.8 788.7 L801.7 790.5 L802.5 792.3 L803.4 794 L804.3 795.7 L805.2 797.4 L806.3 799 L807.5 800.6 L808.8 802.1 L810.1 803.6 L811.6 805.1 L813.1 806.5 L814.5 807.9 L816 809.4 L817.5 810.8 L818.9 812.3 L820.2 813.8 L821.5 815.3 L822.6 816.9 L823.6 818.6 L824.5 820.3 L825.4 822 L826.2 823.8 L827 825.6 L827.8 827.5 L828.5 829.4 L829.2 831.3 L829.9 833.2 L830.6 835.1 L831.3 837 L831.9 838.9 L832.6 840.8 L833.2 842.7 L833.9 844.6 L834.5 846.5 L835.1 848.4 L835.7 850.4 L836.2 852.3 L836.8 854.2 L837.3 856.1 L837.8 858.1 L838.4 860 L838.9 861.9 L839.5 863.8 L840.1 865.8 L840.7 867.7 L841.3 869.6 L841.9 871.4 L842.6 873.3 L843.4 875.2 L844.2 877 L844.9 878.9 L845.7 880.7 L846.5 882.6 L847.3 884.4 L848 886.3 L848.7 888.1 L849.4 890 L850 891.9 L850.6 893.8 L851.2 895.7 L851.7 897.7 L852.2 899.6 L852.8 901.6 L853.3 903.5 L853.8 905.4 L854.3 907.4 L854.9 909.3 L855.5 911.2 L856.1 913.1 L856.8 914.9 L857.5 916.8 L858.3 919 L859 921.3 L859.9 923.7 L860.7 925.9 L861.7 927.9 L862.7 929.5 L863.8 930.6 L865 931 L866.4 930.8 L868.2 930.1 L870.2 929.2 L872.2 928.2 L874.2 927.3 L876.1 926.5 L878 925.6 L879.9 924.7 L881.8 924 L883.6 923.6 L885.5 923.6 L887.3 924.1 L889.2 924.9 L891 926 L892.8 927.3 L894.4 928.5 L895.9 929.8 L897.1 931.3 L898.4 932.9 L899.6 934.5 L901 936 L902.4 937.4 L903.9 938.8 L905.5 940.2 L907 941.5 L908.5 942.9 L909.8 944.4 L911 945.9 L912.1 947.5 L913 949.2 L913.8 951 L914.6 952.8 L915.3 954.7 L916 956.6 L916.7 958.6 L917.4 960.5 L918.1 962.3 L918.8 964.2 L919.5 966.1 L920.1 968 L920.8 969.8 L921.5 971.7 L922.1 973.6 L922.8 975.5 L923.4 977.4 L924.1 979.3 L924.7 981.2 L925.4 983.1 L926 985 L926.6 986.9 L927.3 988.8 L927.9 990.7 L928.6 992.6 L929.2 994.5 L929.9 996.3 L930.5 998.2 L931.2 1000.2 L931.8 1002.1 L932.4 1004 L932.9 1006 L933.5 1007.9 L934.1 1009.9 L934.7 1011.8 L935.3 1013.8 L935.9 1015.7 L936.5 1017.6 L937.1 1019.6 L937.8 1021.5 L938.4 1023.3 L939.1 1025.2 L939.8 1027.1 L940.6 1028.9 L941.3 1030.7 L942.1 1032.4 L943 1034.2 L943.9 1035.9 L944.9 1037.9 L945.9 1039.9 L947 1042 L948.2 1044.1 L949.5 1046.1 L950.8 1048 L952.1 1049.6 L953.4 1050.9 L954.8 1051.9 L956.2 1052.4 L957.6 1052.5 L959.1 1052.1 L960.6 1051.5 L962.2 1050.6 L963.8 1049.5 L965.5 1048.2 L967.2 1046.8 L968.9 1045.3 L970.6 1043.8 L972.3 1042.3 L974.1 1040.9 L975.8 1039.6 L977.5 1038.4 L979.2 1037.3 L981 1036.1 L982.7 1034.8 L984.5 1033.5 L986.2 1032.3 L988 1031.2 L989.8 1030.2 L991.5 1029.4 L993.3 1029 L995 1028.8 L996.8 1029 L998.6 1029.4 L1000.4 1030.1 L1002.3 1031 L1004.1 1032 L1005.9 1033.2 L1007.7 1034.5 L1009.4 1035.9 L1011.1 1037.3 L1012.6 1038.8 L1014.1 1040.2 L1015.4 1041.5 L1016.7 1042.9 L1017.9 1044.3 L1019 1045.8 L1020.1 1047.4 L1021.2 1049 L1022.2 1050.7 L1023.2 1052.5 L1024.2 1054.3 L1025.1 1056.1 L1026 1058 L1026.9 1059.8 L1027.8 1061.7 L1028.7 1063.6 L1029.6 1065.5 L1030.4 1067.4 L1031.2 1069.3 L1032.1 1071.2 L1032.9 1073 L1033.7 1074.8 L1034.5 1076.6 L1035.3 1078.5 L1036 1080.3 L1036.8 1082.2 L1037.5 1084.1 L1038.2 1086 L1038.8 1087.8 L1039.5 1089.7 L1040.2 1091.6 L1040.9 1093.5 L1041.6 1095.4 L1042.3 1097.3 L1043 1099.1 L1043.8 1101 L1044.6 1102.8 L1045.4 1104.6 L1046.2 1106.4 L1047 1108.2 L1047.9 1110.1 L1048.8 1111.9 L1049.7 1113.8 L1050.6 1115.7 L1051.6 1117.5 L1052.5 1119.3 L1053.6 1121.1 L1054.6 1122.8 L1055.7 1124.4 L1056.9 1125.9 L1058.1 1127.3 L1059.5 1128.7 L1061 1130.1 L1062.6 1131.6 L1064.4 1132.9 L1066.2 1134.1 L1068 1135 L1069.8 1135.4 L1071.5 1135.5 L1073.1 1135.2 L1074.8 1134.6 L1076.4 1133.9 L1078.1 1133 L1079.7 1131.8 L1081.4 1130.6 L1083 1129.3 L1084.7 1127.9 L1086.3 1126.4 L1088 1124.9 L1089.6 1123.5 L1091.3 1122 L1093 1120.7 L1094.7 1119.5 L1096.5 1118.3 L1098.2 1117.4 L1100 1116.5 L1101.8 1115.5 L1103.7 1114.6 L1105.6 1113.6 L1107.4 1112.6 L1109.3 1111.7 L1111.3 1110.9 L1113.2 1110.1 L1115 1109.5 L1116.9 1109 L1118.8 1108.7 L1120.6 1108.5 L1122.4 1108.6 L1124.3 1108.9 L1126.2 1109.4 L1128.1 1110.2 L1130 1111.1 L1131.8 1112.1 L1133.7 1113.3 L1135.5 1114.5 L1137.2 1115.8 L1138.8 1117.2 L1140.4 1118.5 L1141.8 1119.9 L1143.1 1121.1 L1144.4 1122.5 L1145.5 1124 L1146.6 1125.6 L1147.6 1127.4 L1148.6 1129.2 L1149.5 1131 L1150.4 1132.9 L1151.4 1134.8 L1152.3 1136.6 L1153.2 1138.5 L1154.1 1140.3 L1155.1 1142 L1156 1143.8 L1156.9 1145.6 L1157.7 1147.4 L1158.6 1149.2 L1159.5 1151 L1160.3 1152.9 L1161.2 1154.7 L1162 1156.5 L1162.9 1158.3 L1163.8 1160.1 L1164.8 1161.8 L1165.7 1163.6 L1166.7 1165.3 L1167.7 1167 L1168.7 1168.8 L1169.8 1170.6 L1170.8 1172.4 L1171.9 1174.2 L1173 1176 L1174.2 1177.7 L1175.4 1179.3 L1176.6 1180.8 L1177.9 1182.2 L1179.3 1183.5 L1180.8 1184.6 L1182.5 1185.7 L1184.3 1186.8 L1186.2 1187.7 L1188.1 1188.5 L1190.1 1188.9 L1191.9 1189 L1193.7 1188.6 L1195.5 1187.9 L1197.3 1187 L1199.2 1185.9 L1200.9 1184.7 L1202.7 1183.5 L1204.4 1182.4 L1206.1 1181.3 L1207.7 1180.2 L1209.3 1179 L1210.8 1177.7 L1212.4 1176.4 L1213.9 1175.1 L1215.4 1173.8 L1217 1172.5 L1218.5 1171.2 L1220 1169.8 L1221.5 1168.3 L1223 1166.6 L1224.5 1164.9 L1226 1163.3 L1227.5 1161.7 L1229 1160.3 L1230.6 1159.1 L1232.2 1158.2 L1233.8 1157.6 L1235.5 1157.5 L1237.3 1157.6 L1239.1 1157.9 L1241.1 1158.3 L1243 1158.8 L1245.1 1159.3 L1247.1 1160 L1249.1 1160.7 L1251.1 1161.5 L1253 1162.3 L1254.9 1163.1 L1256.7 1163.9 L1258.4 1164.7 L1260 1165.7 L1261.7 1166.8 L1263.2 1168 L1264.8 1169.3 L1266.3 1170.6 L1267.8 1172 L1269.3 1173.4 L1270.8 1174.8 L1272.4 1176.2 L1273.9 1177.5 L1275.5 1178.8 L1277 1180.1 L1278.5 1181.5 L1280 1182.9 L1281.5 1184.2 L1283 1185.6 L1284.6 1186.9 L1286.1 1188.2 L1287.7 1189.4 L1289.4 1190.4 L1291.1 1191.3 L1292.8 1192.2 L1294.6 1193 L1296.5 1193.8 L1298.4 1194.6 L1300.3 1195.3 L1302.3 1196 L1304.3 1196.5 L1306.2 1196.8 L1308.2 1197 L1310.1 1196.9 L1312 1196.7 L1313.9 1196.3 L1315.9 1195.7 L1317.8 1195 L1319.7 1194.3 L1321.6 1193.4 L1323.5 1192.6 L1325.4 1191.9 L1327.2 1191.1 L1329 1190.2 L1330.7 1189.2 L1332.4 1188.1 L1334.2 1187 L1335.9 1185.9 L1337.6 1184.8 L1339.3 1183.9 L1341.1 1183 L1342.9 1182.3 L1344.8 1181.7 L1346.7 1181.2 L1348.7 1180.6 L1350.6 1180.1 L1352.6 1179.7 L1354.6 1179.3 L1356.6 1179 L1358.6 1178.8 L1360.6 1178.7 L1362.5 1178.8 L1364.5 1179 L1366.5 1179.3 L1368.5 1179.7 L1370.4 1180.2 L1372.4 1180.7 L1374.4 1181.2 L1376.3 1181.8 L1378.2 1182.3 L1380.1 1183 L1381.9 1183.7 L1383.7 1184.5 L1385.6 1185.3 L1387.4 1186.2 L1389.2 1187.1 L1391 1188 L1392.8 1188.9 L1394.6 1189.8 L1396.4 1190.6 L1398.2 1191.5 L1400 1192.5 L1401.8 1193.4 L1403.6 1194.3 L1405.4 1195.2 L1407.2 1196.1 L1409.1 1196.8 L1410.9 1197.4 L1412.8 1197.9 L1414.8 1198.3 L1416.8 1198.8 L1418.8 1199.1 L1420.8 1199.3 L1422.7 1199.4 L1424.7 1199.3 L1426.7 1199.1 L1428.6 1198.8 L1430.6 1198.3 L1432.5 1197.9 L1434.5 1197.3 L1436.4 1196.7 L1438.3 1196.1 L1440.3 1195.4 L1442.2 1194.8 L1444.1 1194.1 L1446 1193.5 L1447.9 1192.9 L1449.8 1192.2 L1451.7 1191.5 L1453.6 1190.7 L1455.4 1189.9 L1457.3 1189.1 L1459.2 1188.4 L1461.1 1187.9 L1463 1187.4 L1464.9 1187.1 L1466.9 1186.9 L1468.9 1186.6 L1470.9 1186.4 L1472.9 1186.3 L1474.9 1186.2 L1476.9 1186.1 L1478.9 1186.1 L1480.8 1186.3 L1482.8 1186.7 L1484.7 1187.1 L1486.7 1187.6 L1488.6 1188.3 L1490.6 1188.9 L1492.5 1189.6 L1494.4 1190.3 L1496.3 1191 L1498.2 1191.6 L1500.1 1192.3 L1501.9 1193 L1503.8 1193.8 L1505.6 1194.6 L1507.5 1195.4 L1509.3 1196.2 L1511.1 1197 L1513 1197.7 L1514.9 1198.3 L1516.8 1198.9 L1518.7 1199.5 L1520.6 1200.1 L1522.6 1200.8 L1524.5 1201.3 L1526.5 1201.9 L1528.5 1202.4 L1530.4 1202.8 L1532.4 1203.1 L1534.3 1203.2 L1536.3 1203.3 L1538.3 1203.2 L1540.2 1203.1 L1542.2 1202.8 L1544.2 1202.5 L1546.2 1202.2 L1548.2 1201.8 L1550.1 1201.3 L1552.1 1200.9 L1554.1 1200.4 L1556 1199.9 L1558 1199.5 L1559.9 1199 L1561.8 1198.5 L1563.8 1197.9 L1565.7 1197.3 L1567.6 1196.6 L1569.5 1195.9 L1571.4 1195.2 L1573.3 1194.5 L1575.2 1193.9 L1577.1 1193.2 L1579 1192.7 L1580.9 1192.2 L1582.9 1191.8 L1584.8 1191.5 L1586.8 1191.2 L1588.8 1191 L1590.8 1190.8 L1592.8 1190.6 L1594.8 1190.4 L1596.8 1190.3 L1598.7 1190.3 L1600.7 1190.4 L1602.7 1190.7 L1604.7 1191 L1606.6 1191.5 L1608.6 1192 L1610.6 1192.5 L1612.5 1193.1 L1614.4 1193.7 L1616.3 1194.3 L1618.2 1195 L1620.1 1195.6 L1621.9 1196.4 L1623.8 1197.3 L1625.6 1198.3 L1627.3 1199.3 L1629.1 1200.3 L1630.9 1201.4 L1632.7 1202.3 L1634.5 1203.2 L1636.3 1204 L1638.1 1204.6 L1640 1205 L1641.9 1205.3 L1643.9 1205.6 L1645.9 1205.9 L1647.9 1206.1 L1649.9 1206.3 L1651.9 1206.4 L1653.9 1206.5 L1655.9 1206.5 L1657.9 1206.4 L1659.9 1206.2 L1661.9 1205.9 L1663.9 1205.7 L1665.9 1205.4 L1667.9 1205.1 L1669.8 1204.8 L1671.8 1204.4 L1673.7 1204 L1675.7 1203.5 L1677.7 1203.1 L1679.6 1202.6 L1681.6 1202.1 L1683.5 1201.7 L1685.5 1201.3 L1687.4 1200.9 L1689.4 1200.5 L1691.4 1200.2 L1693.4 1200 L1695.3 1199.7 L1697.3 1199.4 L1699.3 1199.2 L1701.3 1198.9 L1703.3 1198.7 L1705.3 1198.4 L1707.3 1198.2 L1709.3 1198.1 L1711.3 1197.9 L1713.3 1197.8 L1715.3 1197.7 L1717.3 1197.7 L1719.2 1197.7 L1721.2 1197.8 L1723.2 1198 L1725.2 1198.2 L1727.2 1198.4 L1729.2 1198.7 L1731.2 1199 L1733.2 1199.3 L1735.1 1199.7 L1737.1 1200 L1739.1 1200.4 L1741.1 1200.7 L1743 1201.1 L1745 1201.4 L1746.9 1201.8 L1748.9 1202.3 L1750.8 1202.8 L1752.8 1203.3 L1754.7 1203.9 L1756.7 1204.4 L1758.6 1205 L1760.5 1205.5 L1762.5 1206 L1764.4 1206.4 L1766.4 1206.7 L1768.4 1207 L1770.3 1207.2 L1772.3 1207.4 L1774.3 1207.6 L1776.3 1207.8 L1778.3 1208 L1780.3 1208.1 L1782.3 1208.3 L1784.3 1208.4 L1786.3 1208.6 L1788.3 1208.7 L1790.3 1208.7 L1792.3 1208.8 L1794.3 1208.8 L1796.3 1208.8 L1798.3 1208.7 L1800.3 1208.6 L1802.3 1208.4 L1804.2 1208.2 L1806.2 1208 L1808.2 1207.8 L1810.2 1207.5 L1812.2 1207.3 L1814.2 1207 L1816.2 1206.8 L1818.2 1206.5 L1820.2 1206.3 L1822.2 1206.2 L1824.2 1206 L1826.1 1205.8 L1828.1 1205.6 L1830.1 1205.4 L1832.1 1205.2 L1834.1 1205 L1836.1 1204.8 L1838.1 1204.6 L1840.1 1204.4 L1842.1 1204.3 L1844.1 1204.1 L1846.1 1204 L1848.1 1203.9 L1850.1 1203.8 L1852.1 1203.7 L1854.1 1203.7 L1856.1 1203.7 L1858.1 1203.7 L1860 1203.8 L1862 1203.9 L1864 1204.1 L1866 1204.3 L1868 1204.5 L1870 1204.7 L1872 1204.9 L1874 1205.2 L1876 1205.4 L1878 1205.7 L1879.9 1205.9 L1881.9 1206.2 L1883.9 1206.5 L1885.9 1206.7 L1887.9 1206.9 L1889.9 1207.1 L1891.9 1207.3 L1893.9 1207.6 L1895.9 1207.8 L1897.9 1208.1 L1899.8 1208.4 L1901.8 1208.6 L1903.8 1208.9 L1905.8 1209.2 L1907.8 1209.4 L1909.8 1209.6 L1911.8 1209.9 L1913.8 1210.1 L1915.8 1210.2 L1917.7 1210.4 L1919.7 1210.5 L1921.7 1210.6 L1923.7 1210.6 L1925.7 1210.6 L1927.7 1210.6 L1929.7 1210.5 L1931.7 1210.4 L1933.7 1210.3 L1935.7 1210.2 L1937.7 1210.1 L1939.7 1209.9 L1941.7 1209.8 L1943.7 1209.7 L1945.7 1209.5 L1947.7 1209.4 L1949.7 1209.2 L1951.7 1209.1 L1953.7 1209 L1955.7 1208.9 L1957.7 1208.8 L1959.7 1208.8 L1961.7 1208.7 L1963.7 1208.6 L1965.7 1208.6 L1967.7 1208.5 L1969.7 1208.4 L1971.7 1208.4 L1973.7 1208.3 L1975.7 1208.3 L1977.7 1208.2 L1979.7 1208.2 L1981.7 1208.1 L1983.7 1208.1 L1985.7 1208.1 L1987.7 1208 L1989.7 1208 L1991.7 1208 L1993.7 1208 L1995.7 1208 L1997.7 1208 L1999.7 1208.1 L2001.7 1208.1 L2003.7 1208.2 L2005.7 1208.3 L2007.7 1208.3 L2009.7 1208.4 L2011.7 1208.5 L2013.6 1208.6 L2015.6 1208.7 L2017.6 1208.8 L2019.6 1208.9 L2021.6 1209 L2023.6 1209.1 L2025.6 1209.2 L2027.6 1209.3 L2029.6 1209.4 L2031.6 1209.4 L2033.6 1209.5 L2035.6 1209.6 L2037.6 1209.6 L2039.6 1209.7 L2041.6 1209.7 L2043.6 1209.8 L2045.6 1209.8 L2047.6 1209.9 L2049.6 1209.9 L2051.6 1209.9 L2053.6 1210 L2055.6 1210 L2057.6 1210.1 L2059.6 1210.1 L2061.6 1210.1 L2063.6 1210.2 L2065.6 1210.2 L2067.6 1210.2 L2069.6 1210.3 L2071.6 1210.3 L2073.6 1210.3 L2075.6 1210.3 L2077.6 1210.4 L2079.6 1210.4 L2081.6 1210.4 L2083.6 1210.4 L2085.6 1210.5 L2087.6 1210.5 L2089.6 1210.5 L2091.6 1210.5 L2093.6 1210.6 L2095.6 1210.6 L2097.6 1210.6 L2099.6 1210.6 L2101.6 1210.6 L2103.6 1210.6 L2105.6 1210.6 L2107.6 1210.6 L2109.6 1210.7 L2111.6 1210.7 L2113.6 1210.7 L2115.6 1210.7 L2117.6 1210.7 L2119.6 1210.7 L2121.6 1210.7 L2123.6 1210.7 L2125.6 1210.8 L2127.6 1210.8 L2129.6 1210.8 L2131.6 1210.8 L2133.6 1210.8 L2135.6 1210.8 L2137.6 1210.8 L2139.6 1210.8 L2141.6 1210.8 L2143.6 1210.8 L2145.6 1210.8 L2147.6 1210.9 L2149.6 1210.9 L2151.6 1210.9 L2153.6 1210.9 L2155.6 1210.9 L2157.6 1210.9 L2159.6 1210.9 L2161.6 1210.9 L2163.6 1210.9 L2165.6 1210.9 L2167.6 1210.9 L2169.6 1210.9 L2171.6 1210.9 L2173.6 1210.9 L2175.6 1211 L2177.6 1211 L2179.6 1211 L2181.6 1211 L2183.6 1211 L2185.6 1211 L2187.6 1211 L2189.6 1211 L2191.6 1211 L2193.6 1211 L2195.6 1211 L2197.6 1211 L2199.6 1211 L2201.6 1211 L2203.6 1211 L2205.6 1211 L2207.6 1211 L2209.6 1211 L2211.6 1211 L2213.6 1211 L2215.6 1211 L2217.6 1211 L2219.6 1211 L2221.6 1211 L2223.6 1211 L2225.6 1211 L2227.6 1211 L2229.6 1211 L2231.6 1211 L2233.6 1211 L2235.6 1211 L2237.6 1211 L2239.6 1211 L2241.6 1211 L2243.6 1211 L2245.6 1211.1 L2247.6 1211.1 L2249.6 1211.1 L2251.6 1211.1 L2253.6 1211.1 L2255.6 1211.1 L2257.6 1211.1 L2259.6 1211.1 L2261.6 1211.1 L2263.6 1211.1 L2265.6 1211.1 L2267.6 1211.1 L2269.6 1211.1 L2271.6 1211.1 L2273.6 1211.1 L2275.6 1211.1 L2277.6 1211.1 L2279.6 1211.1 L2281.6 1211.1 L2283.6 1211.1 L2285.6 1211.1 L2287.6 1211.1 L2289.6 1211.1 L2291.6 1211.1 L2293.6 1211.1 L2295.6 1211.1 L2297.6 1211.1 L2299.6 1211.1 L2301.6 1211.1 L2303.6 1211.1 L2305.6 1211.1 L2307.6 1211.1 L2309.6 1211.1 L2311.6 1211.1 L2313.6 1211.1 L2315.6 1211.1 L2317.6 1211.1 L2319.6 1211.1 L2321.6 1211.1 L2323.6 1211.1 L2325.6 1211.1 L2327.6 1211.1 L2329.6 1211.1 L2331.6 1211.1 L2333.6 1211.1 L2335.6 1211.1 L2337.6 1211.1 L2339.6 1211.1 L2341.6 1211.1 L2342 1211.1"/>
</g></g>
<g shape-rendering="crispEdges">
<path fill="#000" d="M2374.7 61.5H2404.7V440.4H1602.7V411.6H2374.7Z"/>
<rect x="1572" y="30.8" width="800.7" height="378.8" fill="#fff" stroke="#000" stroke-width="4"/>
<circle cx="1716.5" cy="108.9" r="26.2" fill="none" stroke="#000" stroke-width="3.8"/>
<path d="M1947 108.9H2081" stroke="#000" stroke-width="23.5" stroke-linecap="round"/>
<circle cx="1716.5" cy="183.1" r="26.2" fill="none" stroke="#f00" stroke-width="3.8"/>
<path d="M1947 183.1H2081" stroke="#f00" stroke-width="23.5" stroke-linecap="round"/>
<circle cx="1716.5" cy="257.7" r="26.2" fill="none" stroke="#0f0" stroke-width="3.8"/>
<path d="M1947 257.7H2081" stroke="#0f0" stroke-width="23.5" stroke-linecap="round"/>
<circle cx="1716.5" cy="331.6" r="26.2" fill="none" stroke="#00f" stroke-width="3.8"/>
<path d="M1947 331.6H2081" stroke="#00f" stroke-width="23.5" stroke-linecap="round"/>
</g>
<text x="1803.5" y="128.9" font-family="Liberation Sans, sans-serif" font-weight="bold" font-style="italic" font-size="58.8">R++</text>
<text x="2100" y="128.9" font-family="Liberation Sans, sans-serif" font-weight="bold" font-style="italic" font-size="58.8">R++ fit</text>
<text x="1803.5" y="203.1" font-family="Liberation Sans, sans-serif" font-weight="bold" font-style="italic" font-size="58.8">R--</text>
<text x="2100" y="203.1" font-family="Liberation Sans, sans-serif" font-weight="bold" font-style="italic" font-size="58.8">R-- fit</text>
<text x="1803.5" y="277.7" font-family="Liberation Sans, sans-serif" font-weight="bold" font-style="italic" font-size="58.8">R+-</text>
<text x="2100" y="277.7" font-family="Liberation Sans, sans-serif" font-weight="bold" font-style="italic" font-size="58.8">R+- fit</text>
<text x="1803.5" y="352" font-family="Liberation Sans, sans-serif" font-weight="bold" font-style="italic" font-size="58.8">R-+</text>
<text x="2100" y="352" font-family="Liberation Sans, sans-serif" font-weight="bold" font-style="italic" font-size="58.8">R-+ fit</text>
<text x="146" y="1235.9" font-family="Liberation Sans, sans-serif" font-weight="bold" font-style="italic" font-size="117">10</text>
<text x="274" y="1170.9" font-family="Liberation Sans, sans-serif" font-weight="bold" font-style="italic" font-size="70">-5</text>
<text x="146" y="963.5" font-family="Liberation Sans, sans-serif" font-weight="bold" font-style="italic" font-size="117">10</text>
<text x="274" y="898.5" font-family="Liberation Sans, sans-serif" font-weight="bold" font-style="italic" font-size="70">-4</text>
<text x="146" y="691.1" font-family="Liberation Sans, sans-serif" font-weight="bold" font-style="italic" font-size="117">10</text>
<text x="274" y="626.1" font-family="Liberation Sans, sans-serif" font-weight="bold" font-style="italic" font-size="70">-3</text>
<text x="146" y="418.7" font-family="Liberation Sans, sans-serif" font-weight="bold" font-style="italic" font-size="117">10</text>
<text x="274" y="353.7" font-family="Liberation Sans, sans-serif" font-weight="bold" font-style="italic" font-size="70">-2</text>
<text x="146" y="146.3" font-family="Liberation Sans, sans-serif" font-weight="bold" font-style="italic" font-size="117">10</text>
<text x="274" y="81.3" font-family="Liberation Sans, sans-serif" font-weight="bold" font-style="italic" font-size="70">-1</text>
<text x="409.5" y="1481" text-anchor="middle" font-family="Liberation Sans, sans-serif" font-weight="bold" font-style="italic" font-size="102">0</text>
<text x="898.5" y="1481" text-anchor="middle" font-family="Liberation Sans, sans-serif" font-weight="bold" font-style="italic" font-size="102">10</text>
<text x="1387.5" y="1481" text-anchor="middle" font-family="Liberation Sans, sans-serif" font-weight="bold" font-style="italic" font-size="102">20</text>
<text x="1876.5" y="1481" text-anchor="middle" font-family="Liberation Sans, sans-serif" font-weight="bold" font-style="italic" font-size="102">30</text>
<text x="2365.5" y="1481" text-anchor="middle" font-family="Liberation Sans, sans-serif" font-weight="bold" font-style="italic" font-size="102">40</text>
<text transform="translate(97.8 1168) rotate(-90)" font-family="Liberation Sans, sans-serif" font-weight="bold" font-style="italic" font-size="100" letter-spacing="0.55">Normalized Intensity</text>
<text transform="translate(1123.5 1600) scale(1.31 1)" font-family="Liberation Sans, sans-serif" font-weight="bold" font-style="italic" font-size="100">α</text>
<text x="1193" y="1637" font-family="Liberation Sans, sans-serif" font-weight="bold" font-style="italic" font-size="77">i</text>
<text x="1251.5" y="1600" font-family="Liberation Sans, sans-serif" font-weight="bold" font-style="italic" font-size="129">(mrad)</text>
<text x="492.5" y="1258.5" font-family="Liberation Sans, sans-serif" font-size="225">a</text><text x="625" y="1258.5" font-family="Liberation Sans, sans-serif" font-size="225">)</text>
</svg>
</body></html>
